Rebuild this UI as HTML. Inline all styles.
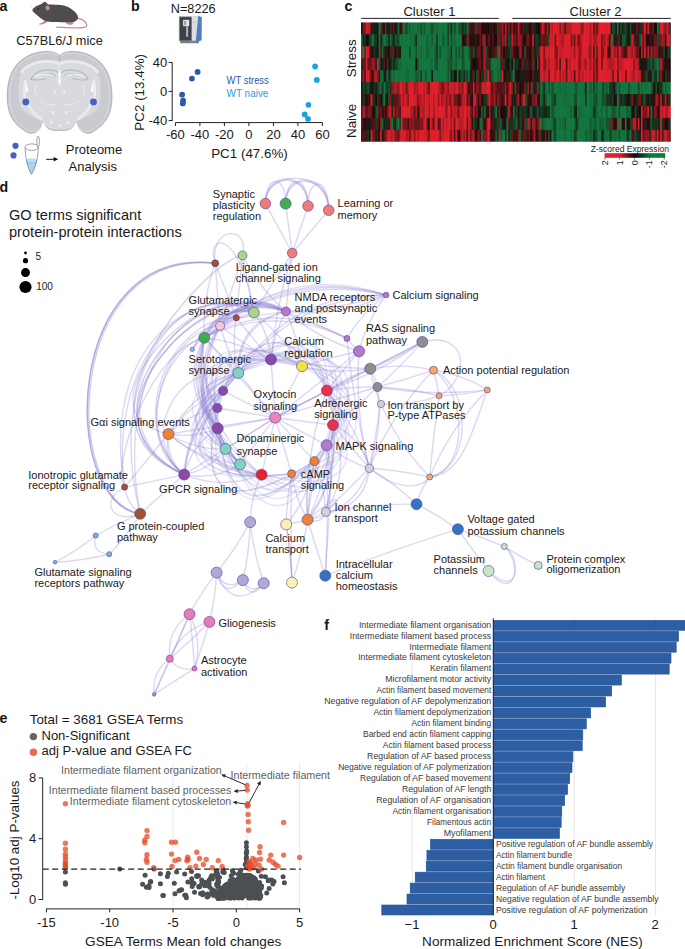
<!DOCTYPE html>
<html><head><meta charset="utf-8"><style>
html,body{margin:0;padding:0;background:#fff;}
body{width:685px;height:949px;overflow:hidden;}
svg{display:block;font-family:"Liberation Sans", sans-serif;}
</style></head><body>
<svg width="685" height="949" viewBox="0 0 685 949">
<rect width="685" height="949" fill="#fff"/>
<text x="-0.6" y="10.6" font-size="14.2" text-anchor="start" fill="#141414" font-weight="bold">a</text>
<text x="131.0" y="10.6" font-size="14.2" text-anchor="start" fill="#141414" font-weight="bold">b</text>
<text x="344.5" y="10.7" font-size="14.2" text-anchor="start" fill="#141414" font-weight="bold">c</text>
<text x="-0.6" y="191.6" font-size="14.2" text-anchor="start" fill="#141414" font-weight="bold">d</text>
<text x="-0.6" y="722.8" font-size="14.2" text-anchor="start" fill="#141414" font-weight="bold">e</text>
<text x="324.2" y="630.4" font-size="14.2" text-anchor="start" fill="#141414" font-weight="bold">f</text>
<g>
<path d="M77.4,18.2 C81,19 85,21 86.6,24 C87.6,26.3 85.5,27.6 81,27.9 C74,28.3 66,27.6 56.7,27.1" fill="none" stroke="#c48d86" stroke-width="1.25" stroke-linecap="round"/>
<path d="M45.5,19.5 C44,21.5 42,23 39.8,23.6 C38.8,24 38.8,24.6 40,24.6 C42.5,24.6 45.5,23.6 48,21.5 Z" fill="#c48d86"/>
<path d="M64.5,21 C65.5,23 67,24.6 70,24.8 C72,24.9 73.5,24.2 73.8,22.8 L71,21.5 Z" fill="#c48d86"/>
<path d="M32.2,10.2 C33.5,7.6 35.5,6.2 37.8,5.5 C39.5,5 40.8,4.3 42,3.8 C43,2.2 44.8,1.7 46,2.4 C47.2,3.1 47.6,4.2 48.5,4.6 C52,4.4 56.5,4.6 61,5.1 C66,5.8 70.5,7.8 74.5,11.5 C77.5,14.3 78.6,16.8 77.8,19 C76.8,21 74.5,22 71.5,22.2 C66,22.5 60,22.2 55.5,22.1 C51,22.2 47.5,21.8 45,20.8 C42,19.6 39.5,17.5 37.5,15.6 C35.5,13.8 33.3,12.2 32.2,10.2 Z" fill="#4d4d4f"/>
<ellipse cx="47.6" cy="7.9" rx="2" ry="2.5" fill="#c48d86" transform="rotate(-15 47.6 7.9)"/>
<circle cx="38.2" cy="8.6" r="0.65" fill="#111"/>
<circle cx="32.4" cy="10.1" r="0.6" fill="#c48d86"/>
<path d="M32.6,9.6 L30.2,5 M32.8,9.8 L31.5,4.6" stroke="#c8c8c8" stroke-width="0.35"/>
</g>
<text x="59.5" y="44.8" font-size="12.75" text-anchor="middle" fill="#222">C57BL6/J mice</text>
<path d="M59.60,55.60 C56.00,52.00 50.00,51.00 43.80,51.60 C30.00,52.40 17.00,60.00 11.00,74.00 C7.00,84.00 6.30,98.00 8.30,108.00 C10.00,117.00 15.00,124.00 22.00,129.00 C25.00,131.00 27.50,133.20 30.50,133.30 C35.00,133.40 38.50,131.00 40.50,127.00 C41.50,124.50 42.00,122.00 42.80,121.30 C44.50,123.00 46.00,126.50 48.00,128.60 C52.00,130.60 56.00,130.60 59.60,130.20 C63.20,130.60 67.20,130.60 71.20,128.60 C73.20,126.50 74.70,123.00 76.40,121.30 C77.20,122.00 77.70,124.50 78.70,127.00 C80.70,131.00 84.20,133.40 88.70,133.30 C91.70,133.20 94.20,131.00 97.20,129.00 C104.20,124.00 109.20,117.00 110.90,108.00 C112.90,98.00 112.20,84.00 108.20,74.00 C102.20,60.00 89.20,52.40 75.40,51.60 C69.20,51.00 63.20,52.00 59.60,55.60 Z" fill="#c9cbd1" stroke="#8d939f" stroke-width="0.6" stroke-linejoin="round"/>
<path d="M59.60,55.60 C56.00,52.00 50.00,51.00 43.80,51.60 C30.00,52.40 17.00,60.00 11.00,74.00 C7.00,84.00 6.30,98.00 8.30,108.00 C10.00,117.00 15.00,124.00 22.00,129.00 C25.00,131.00 27.50,133.20 30.50,133.30 C35.00,133.40 38.50,131.00 40.50,127.00 C41.50,124.50 42.00,122.00 42.80,121.30 C44.50,123.00 46.00,126.50 48.00,128.60 C52.00,130.60 56.00,130.60 59.60,130.20 C63.20,130.60 67.20,130.60 71.20,128.60 C73.20,126.50 74.70,123.00 76.40,121.30 C77.20,122.00 77.70,124.50 78.70,127.00 C80.70,131.00 84.20,133.40 88.70,133.30 C91.70,133.20 94.20,131.00 97.20,129.00 C104.20,124.00 109.20,117.00 110.90,108.00 C112.90,98.00 112.20,84.00 108.20,74.00 C102.20,60.00 89.20,52.40 75.40,51.60 C69.20,51.00 63.20,52.00 59.60,55.60 Z" fill="none" stroke="#e3e4e8" stroke-width="0.6" transform="translate(59.6 92) scale(0.955 0.96) translate(-59.6 -92)"/>
<path d="M59.60,61.00 C52.00,59.20 38.00,59.50 31.00,63.40 C25.00,66.50 21.00,72.00 19.50,79.00 C18.00,88.00 18.30,98.00 19.50,103.00 C20.50,108.00 23.00,111.00 27.00,113.50 C32.00,116.50 37.00,118.50 41.00,120.50 C44.00,123.00 46.00,126.30 48.30,128.00 C52.00,129.60 56.00,129.70 59.60,129.40 C63.20,129.70 67.20,129.60 70.90,128.00 C73.20,126.30 75.20,123.00 78.20,120.50 C82.20,118.50 87.20,116.50 92.20,113.50 C96.20,111.00 98.70,108.00 99.70,103.00 C100.90,98.00 101.20,88.00 99.70,79.00 C98.20,72.00 94.20,66.50 88.20,63.40 C81.20,59.50 67.20,59.20 59.60,61.00 Z" fill="#d9dadf"/>
<path d="M59.6,55.6 L59.6,61.5" stroke="#8d939f" stroke-width="0.5"/>
<path d="M21.5,72 C27,64 40,60.5 52,61.8 C56,62.3 58,63 59.6,64 C61.2,63 63.2,62.3 67.2,61.8 C79.2,60.5 92.2,64 97.7,72" fill="none" stroke="#ebecee" stroke-width="2.6" stroke-linecap="round"/>
<path d="M31,79.5 C33,72 44,68.5 54,70.5 C56.5,71 58,72.5 59,74 M60.2,74 C61.2,72.5 62.7,71 65.2,70.5 C75.2,68.5 86.2,72 88.2,79.5" fill="none" stroke="#8a91a0" stroke-width="0.65"/>
<path d="M33.5,79 C36,74.5 44,72.5 52,74 C54,74.5 55,75.5 55.5,76.5 M63.7,76.5 C64.2,75.5 65.2,74.5 67.2,74 C75.2,72.5 83.2,74.5 85.7,79" fill="none" stroke="#8a91a0" stroke-width="0.5"/>
<path d="M34.5,77.5 C38,74 46,73 52.5,75.5 M66.7,75.5 C73.2,73 81.2,74 84.7,77.5" fill="none" stroke="#eef0f2" stroke-width="1.3"/>
<path d="M31,79.5 C36,80.5 42,80 47,78.5 M88.2,79.5 C83.2,80.5 77.2,80 72.2,78.5" fill="none" stroke="#8a91a0" stroke-width="0.5"/>
<path d="M59.6,69 L58.2,74 L59,78 L58.4,81 L59.6,86 L60.8,81 L60.2,78 L61,74 Z" fill="#fff"/>
<path d="M25.5,80 C24,87 24,95 25.5,101 M93.7,80 C95.2,87 95.2,95 93.7,101" fill="none" stroke="#eceef0" stroke-width="2.4"/>
<path d="M26.5,82 L28.3,91 L25.6,92.5 Z M92.7,82 L90.9,91 L93.6,92.5 Z" fill="#fff"/>
<path d="M28,103 C30,110 35,115 42,119.5 M91.2,103 C89.2,110 84.2,115 77.2,119.5" fill="none" stroke="#e9eaed" stroke-width="3"/>
<path d="M36,85 C34.5,90 35,94 37,96 M83.2,85 C84.7,90 84.2,94 82.2,96" fill="none" stroke="#e6e7ea" stroke-width="1.4"/>
<path d="M40,101 C45,104.5 51,105.5 55,104.5 M64.2,104.5 C68.2,105.5 74.2,104.5 79.2,101" fill="none" stroke="#e6e7ea" stroke-width="1.3"/>
<ellipse cx="54.8" cy="92" rx="1.2" ry="1.7" fill="#eceef0"/>
<ellipse cx="64.4" cy="92" rx="1.2" ry="1.7" fill="#eceef0"/>
<ellipse cx="53" cy="112.5" rx="1.2" ry="1.7" fill="#eceef0"/>
<ellipse cx="66.2" cy="112.5" rx="1.2" ry="1.7" fill="#eceef0"/>
<ellipse cx="51.3" cy="122.5" rx="1.2" ry="1.7" fill="#eceef0"/>
<ellipse cx="67.9" cy="122.5" rx="1.2" ry="1.7" fill="#eceef0"/>
<path d="M59.6,122 L59.6,130" stroke="#a0a6b2" stroke-width="0.4"/>
<ellipse cx="59.6" cy="125.5" rx="0.8" ry="2.5" fill="#f0f1f3"/>
<circle cx="25.8" cy="101.9" r="3.4" fill="#4a5fbf"/>
<circle cx="93.5" cy="101.9" r="3.4" fill="#4a5fbf"/>
<circle cx="15.5" cy="145.8" r="3.1" fill="#4a5fbf"/>
<circle cx="13.5" cy="155.4" r="3.1" fill="#4a5fbf"/>
<path d="M26.4,160.4 C27.5,166 29.5,171.5 31.5,174.2 C33.5,171.5 35.7,166 36.9,160.4 Z" fill="#abd5f1"/>
<ellipse cx="31.65" cy="160.5" rx="5.2" ry="2.2" fill="#bcdcf3"/>
<path d="M26.8,162.6 C29,163.6 34,163.6 36.5,162.6" fill="none" stroke="#6fa9d6" stroke-width="0.45"/>
<path d="M25.1,147.3 C25.3,152 25.8,157 26.6,161 C27.8,166.5 29.6,171.5 31.4,174.3 C33.3,171.5 35.3,166.5 36.7,161 C37.6,157 38.2,152 38.3,147.3" fill="none" stroke="#555" stroke-width="0.55"/>
<ellipse cx="31.7" cy="147.2" rx="6.6" ry="3.3" fill="#fff" stroke="#555" stroke-width="0.55"/>
<ellipse cx="38.1" cy="141.6" rx="1.3" ry="5.5" fill="#fff" stroke="#555" stroke-width="0.55"/>
<path d="M46.2,159.3 L54.5,159.3" stroke="#111" stroke-width="1"/>
<path d="M58.2,159.3 L53.6,157.1 L53.6,161.5 Z" fill="#111"/>
<text x="94.0" y="154.2" font-size="13" text-anchor="middle" fill="#1a1a1a">Proteome</text>
<text x="92.8" y="171.3" font-size="13" text-anchor="middle" fill="#1a1a1a">Analysis</text>
<text x="193.2" y="13.3" font-size="12.7" text-anchor="middle" fill="#1a1a1a">N=8226</text>
<rect x="178.9" y="16.3" width="12.9" height="24.6" fill="#8f949a"/>
<rect x="179.8" y="17.2" width="12" height="23.4" fill="#3a4149"/>
<path d="M191.7,15.8 L198.6,15.8 L196.2,41.2 L191.7,41.2 Z" fill="#dedce1"/>
<path d="M198.3,15.8 L201.8,17.2 L201.6,40.3 L199,41.2 L195.8,41.2 Z" fill="#4b7fc0"/>
<path d="M179.8,40.7 L199,40.7 L199,43.3 L180.5,43.3 Z" fill="#7a7e84"/>
<rect x="182.9" y="19.8" width="6.4" height="6.5" fill="#e4e6e8" stroke="#4a5058" stroke-width="0.5"/>
<rect x="184" y="21" width="2.2" height="4" fill="#9aa0a6"/>
<rect x="186.1" y="26.3" width="2" height="10.5" fill="#b0b5ba"/>
<path d="M192,22.3 L201,22.3" stroke="#8cc2cc" stroke-width="0.4"/>
<g stroke="#222" stroke-width="1" fill="none">
<path d="M172.2,62.3 L172.2,121"/>
<path d="M168.6,62.5 L172.2,62.5"/>
<path d="M168.6,91.4 L172.2,91.4"/>
<path d="M168.6,120.6 L172.2,120.6"/>
<path d="M175.4,122.6 L322.4,122.6"/>
<path d="M175.4,122.6 L175.4,126"/>
<path d="M199.9,122.6 L199.9,126"/>
<path d="M224.4,122.6 L224.4,126"/>
<path d="M248.9,122.6 L248.9,126"/>
<path d="M273.4,122.6 L273.4,126"/>
<path d="M297.9,122.6 L297.9,126"/>
<path d="M322.4,122.6 L322.4,126"/>
</g>
<text x="167.2" y="67.1" font-size="13" text-anchor="end" fill="#1a1a1a">40</text>
<text x="167.2" y="96.0" font-size="13" text-anchor="end" fill="#1a1a1a">0</text>
<text x="167.2" y="125.2" font-size="13" text-anchor="end" fill="#1a1a1a">-40</text>
<text x="175.4" y="138.8" font-size="13" text-anchor="middle" fill="#1a1a1a">-60</text>
<text x="199.9" y="138.8" font-size="13" text-anchor="middle" fill="#1a1a1a">-40</text>
<text x="224.4" y="138.8" font-size="13" text-anchor="middle" fill="#1a1a1a">-20</text>
<text x="248.9" y="138.8" font-size="13" text-anchor="middle" fill="#1a1a1a">0</text>
<text x="273.4" y="138.8" font-size="13" text-anchor="middle" fill="#1a1a1a">20</text>
<text x="297.9" y="138.8" font-size="13" text-anchor="middle" fill="#1a1a1a">40</text>
<text x="322.4" y="138.8" font-size="13" text-anchor="middle" fill="#1a1a1a">60</text>
<text x="249.5" y="157.6" font-size="13.4" text-anchor="middle" fill="#1a1a1a">PC1 (47.6%)</text>
<text x="144.0" y="92.3" font-size="13.4" text-anchor="middle" fill="#1a1a1a" transform="rotate(-90 144.0 92.3)">PC2 (13.4%)</text>
<text x="226.6" y="84.3" font-size="10.3" text-anchor="start" fill="#2d58a8" textLength="42.2" lengthAdjust="spacingAndGlyphs">WT stress</text>
<text x="226.6" y="97.1" font-size="10.3" text-anchor="start" fill="#1aa2e0" textLength="41.8" lengthAdjust="spacingAndGlyphs">WT naive</text>
<circle cx="197.6" cy="71.9" r="2.9" fill="#2d58a8"/>
<circle cx="191.9" cy="78.6" r="2.9" fill="#2d58a8"/>
<circle cx="182.1" cy="94.7" r="2.9" fill="#2d58a8"/>
<circle cx="183.1" cy="100.7" r="2.9" fill="#2d58a8"/>
<circle cx="182.8" cy="103.4" r="2.9" fill="#2d58a8"/>
<circle cx="315.1" cy="66.5" r="2.9" fill="#1aa2e0"/>
<circle cx="316.8" cy="79.9" r="2.9" fill="#1aa2e0"/>
<circle cx="308.4" cy="104.8" r="2.9" fill="#1aa2e0"/>
<circle cx="304.7" cy="114.5" r="2.9" fill="#1aa2e0"/>
<circle cx="308" cy="118.9" r="2.9" fill="#1aa2e0"/>
<text x="429.5" y="15.8" font-size="13" text-anchor="middle" fill="#1a1a1a">Cluster 1</text>
<text x="595.6" y="15.8" font-size="13" text-anchor="middle" fill="#1a1a1a">Cluster 2</text>
<path d="M361.2,18.4 L498.8,18.4 M512.3,18.4 L670.7,18.4" stroke="#222" stroke-width="1"/>
<text x="355.6" y="58.3" font-size="13.4" text-anchor="middle" fill="#1a1a1a" transform="rotate(-90 355.6 58.3)">Stress</text>
<text x="355.6" y="120.9" font-size="13.4" text-anchor="middle" fill="#1a1a1a" transform="rotate(-90 355.6 120.9)">Naive</text>
<defs><filter id="hb" x="0" y="0" width="1" height="1"><feGaussianBlur stdDeviation="0.35"/></filter><clipPath id="hc"><rect x="361" y="22.3" width="309.8" height="119.5"/></clipPath></defs>
<g clip-path="url(#hc)"><g filter="url(#hb)">
<rect x="361.00" y="22.30" width="2.30" height="12.65" fill="#16130f"/>
<rect x="361.00" y="34.25" width="2.30" height="12.65" fill="#12703b"/>
<rect x="361.00" y="46.20" width="2.30" height="12.65" fill="#136837"/>
<rect x="361.00" y="58.15" width="2.30" height="12.65" fill="#143921"/>
<rect x="361.00" y="70.10" width="2.30" height="12.65" fill="#581317"/>
<rect x="361.00" y="82.05" width="2.30" height="12.65" fill="#151d14"/>
<rect x="361.00" y="94.00" width="2.30" height="12.65" fill="#152b1b"/>
<rect x="361.00" y="105.95" width="2.30" height="12.65" fill="#521216"/>
<rect x="361.00" y="117.90" width="2.30" height="12.65" fill="#601318"/>
<rect x="361.00" y="129.85" width="2.30" height="12.65" fill="#501215"/>
<rect x="362.60" y="22.30" width="2.30" height="12.65" fill="#75151b"/>
<rect x="362.60" y="34.25" width="2.30" height="12.65" fill="#152116"/>
<rect x="362.60" y="46.20" width="2.30" height="12.65" fill="#de202c"/>
<rect x="362.60" y="58.15" width="2.30" height="12.65" fill="#681419"/>
<rect x="362.60" y="70.10" width="2.30" height="12.65" fill="#a41a23"/>
<rect x="362.60" y="82.05" width="2.30" height="12.65" fill="#144627"/>
<rect x="362.60" y="94.00" width="2.30" height="12.65" fill="#5e1317"/>
<rect x="362.60" y="105.95" width="2.30" height="12.65" fill="#b51c25"/>
<rect x="362.60" y="117.90" width="2.30" height="12.65" fill="#3f1013"/>
<rect x="362.60" y="129.85" width="2.30" height="12.65" fill="#531216"/>
<rect x="364.20" y="22.30" width="2.30" height="12.65" fill="#74151b"/>
<rect x="364.20" y="34.25" width="2.30" height="12.65" fill="#143620"/>
<rect x="364.20" y="46.20" width="2.30" height="12.65" fill="#144426"/>
<rect x="364.20" y="58.15" width="2.30" height="12.65" fill="#581317"/>
<rect x="364.20" y="70.10" width="2.30" height="12.65" fill="#461114"/>
<rect x="364.20" y="82.05" width="2.30" height="12.65" fill="#14351f"/>
<rect x="364.20" y="94.00" width="2.30" height="12.65" fill="#152a1a"/>
<rect x="364.20" y="105.95" width="2.30" height="12.65" fill="#a01a22"/>
<rect x="364.20" y="117.90" width="2.30" height="12.65" fill="#16100e"/>
<rect x="364.20" y="129.85" width="2.30" height="12.65" fill="#531216"/>
<rect x="365.80" y="22.30" width="2.30" height="12.65" fill="#de202c"/>
<rect x="365.80" y="34.25" width="2.30" height="12.65" fill="#160e0d"/>
<rect x="365.80" y="46.20" width="2.30" height="12.65" fill="#dd202c"/>
<rect x="365.80" y="58.15" width="2.30" height="12.65" fill="#de202c"/>
<rect x="365.80" y="70.10" width="2.30" height="12.65" fill="#de202c"/>
<rect x="365.80" y="82.05" width="2.30" height="12.65" fill="#143b22"/>
<rect x="365.80" y="94.00" width="2.30" height="12.65" fill="#1a0c0d"/>
<rect x="365.80" y="105.95" width="2.30" height="12.65" fill="#4a1114"/>
<rect x="365.80" y="117.90" width="2.30" height="12.65" fill="#3a1012"/>
<rect x="365.80" y="129.85" width="2.30" height="12.65" fill="#152b1b"/>
<rect x="367.40" y="22.30" width="2.30" height="12.65" fill="#c11d27"/>
<rect x="367.40" y="34.25" width="2.30" height="12.65" fill="#16120f"/>
<rect x="367.40" y="46.20" width="2.30" height="12.65" fill="#d41f2a"/>
<rect x="367.40" y="58.15" width="2.30" height="12.65" fill="#681419"/>
<rect x="367.40" y="70.10" width="2.30" height="12.65" fill="#de202c"/>
<rect x="367.40" y="82.05" width="2.30" height="12.65" fill="#13532e"/>
<rect x="367.40" y="94.00" width="2.30" height="12.65" fill="#4c1115"/>
<rect x="367.40" y="105.95" width="2.30" height="12.65" fill="#82171d"/>
<rect x="367.40" y="117.90" width="2.30" height="12.65" fill="#161912"/>
<rect x="367.40" y="129.85" width="2.30" height="12.65" fill="#143a22"/>
<rect x="369.00" y="22.30" width="2.30" height="12.65" fill="#ba1c26"/>
<rect x="369.00" y="34.25" width="2.30" height="12.65" fill="#143821"/>
<rect x="369.00" y="46.20" width="2.30" height="12.65" fill="#6f151a"/>
<rect x="369.00" y="58.15" width="2.30" height="12.65" fill="#6c151a"/>
<rect x="369.00" y="70.10" width="2.30" height="12.65" fill="#b11c25"/>
<rect x="369.00" y="82.05" width="2.30" height="12.65" fill="#15311e"/>
<rect x="369.00" y="94.00" width="2.30" height="12.65" fill="#421013"/>
<rect x="369.00" y="105.95" width="2.30" height="12.65" fill="#78161c"/>
<rect x="369.00" y="117.90" width="2.30" height="12.65" fill="#152116"/>
<rect x="369.00" y="129.85" width="2.30" height="12.65" fill="#1a0c0d"/>
<rect x="370.60" y="22.30" width="2.30" height="12.65" fill="#151a13"/>
<rect x="370.60" y="34.25" width="2.30" height="12.65" fill="#144c2a"/>
<rect x="370.60" y="46.20" width="2.30" height="12.65" fill="#151f15"/>
<rect x="370.60" y="58.15" width="2.30" height="12.65" fill="#6d151a"/>
<rect x="370.60" y="70.10" width="2.30" height="12.65" fill="#4a1114"/>
<rect x="370.60" y="82.05" width="2.30" height="12.65" fill="#1f0d0d"/>
<rect x="370.60" y="94.00" width="2.30" height="12.65" fill="#de202c"/>
<rect x="370.60" y="105.95" width="2.30" height="12.65" fill="#631418"/>
<rect x="370.60" y="117.90" width="2.30" height="12.65" fill="#4a1114"/>
<rect x="370.60" y="129.85" width="2.30" height="12.65" fill="#de202c"/>
<rect x="372.20" y="22.30" width="2.30" height="12.65" fill="#152618"/>
<rect x="372.20" y="34.25" width="2.30" height="12.65" fill="#12763e"/>
<rect x="372.20" y="46.20" width="2.30" height="12.65" fill="#300f10"/>
<rect x="372.20" y="58.15" width="2.30" height="12.65" fill="#a11a22"/>
<rect x="372.20" y="70.10" width="2.30" height="12.65" fill="#320f11"/>
<rect x="372.20" y="82.05" width="2.30" height="12.65" fill="#161611"/>
<rect x="372.20" y="94.00" width="2.30" height="12.65" fill="#5f1318"/>
<rect x="372.20" y="105.95" width="2.30" height="12.65" fill="#190c0d"/>
<rect x="372.20" y="117.90" width="2.30" height="12.65" fill="#4f1215"/>
<rect x="372.20" y="129.85" width="2.30" height="12.65" fill="#70151a"/>
<rect x="373.80" y="22.30" width="2.30" height="12.65" fill="#152417"/>
<rect x="373.80" y="34.25" width="2.30" height="12.65" fill="#143620"/>
<rect x="373.80" y="46.20" width="2.30" height="12.65" fill="#143921"/>
<rect x="373.80" y="58.15" width="2.30" height="12.65" fill="#971921"/>
<rect x="373.80" y="70.10" width="2.30" height="12.65" fill="#ad1b24"/>
<rect x="373.80" y="82.05" width="2.30" height="12.65" fill="#143821"/>
<rect x="373.80" y="94.00" width="2.30" height="12.65" fill="#14351f"/>
<rect x="373.80" y="105.95" width="2.30" height="12.65" fill="#161410"/>
<rect x="373.80" y="117.90" width="2.30" height="12.65" fill="#551216"/>
<rect x="373.80" y="129.85" width="2.30" height="12.65" fill="#691419"/>
<rect x="375.40" y="22.30" width="2.30" height="12.65" fill="#151a13"/>
<rect x="375.40" y="34.25" width="2.30" height="12.65" fill="#143d23"/>
<rect x="375.40" y="46.20" width="2.30" height="12.65" fill="#151e15"/>
<rect x="375.40" y="58.15" width="2.30" height="12.65" fill="#152c1b"/>
<rect x="375.40" y="70.10" width="2.30" height="12.65" fill="#b41c25"/>
<rect x="375.40" y="82.05" width="2.30" height="12.65" fill="#152216"/>
<rect x="375.40" y="94.00" width="2.30" height="12.65" fill="#190c0c"/>
<rect x="375.40" y="105.95" width="2.30" height="12.65" fill="#13512c"/>
<rect x="375.40" y="117.90" width="2.30" height="12.65" fill="#143e24"/>
<rect x="375.40" y="129.85" width="2.30" height="12.65" fill="#152719"/>
<rect x="377.00" y="22.30" width="2.30" height="12.65" fill="#300f10"/>
<rect x="377.00" y="34.25" width="2.30" height="12.65" fill="#160d0c"/>
<rect x="377.00" y="46.20" width="2.30" height="12.65" fill="#260e0f"/>
<rect x="377.00" y="58.15" width="2.30" height="12.65" fill="#de202c"/>
<rect x="377.00" y="70.10" width="2.30" height="12.65" fill="#8c181f"/>
<rect x="377.00" y="82.05" width="2.30" height="12.65" fill="#143f24"/>
<rect x="377.00" y="94.00" width="2.30" height="12.65" fill="#71151a"/>
<rect x="377.00" y="105.95" width="2.30" height="12.65" fill="#a11a22"/>
<rect x="377.00" y="117.90" width="2.30" height="12.65" fill="#6c151a"/>
<rect x="377.00" y="129.85" width="2.30" height="12.65" fill="#541216"/>
<rect x="378.60" y="22.30" width="2.30" height="12.65" fill="#12763e"/>
<rect x="378.60" y="34.25" width="2.30" height="12.65" fill="#12763e"/>
<rect x="378.60" y="46.20" width="2.30" height="12.65" fill="#136435"/>
<rect x="378.60" y="58.15" width="2.30" height="12.65" fill="#135830"/>
<rect x="378.60" y="70.10" width="2.30" height="12.65" fill="#152f1d"/>
<rect x="378.60" y="82.05" width="2.30" height="12.65" fill="#13532e"/>
<rect x="378.60" y="94.00" width="2.30" height="12.65" fill="#15311e"/>
<rect x="378.60" y="105.95" width="2.30" height="12.65" fill="#152116"/>
<rect x="378.60" y="117.90" width="2.30" height="12.65" fill="#161510"/>
<rect x="378.60" y="129.85" width="2.30" height="12.65" fill="#220d0e"/>
<rect x="380.20" y="22.30" width="2.30" height="12.65" fill="#134f2b"/>
<rect x="380.20" y="34.25" width="2.30" height="12.65" fill="#152618"/>
<rect x="380.20" y="46.20" width="2.30" height="12.65" fill="#5b1317"/>
<rect x="380.20" y="58.15" width="2.30" height="12.65" fill="#152317"/>
<rect x="380.20" y="70.10" width="2.30" height="12.65" fill="#135c32"/>
<rect x="380.20" y="82.05" width="2.30" height="12.65" fill="#136938"/>
<rect x="380.20" y="94.00" width="2.30" height="12.65" fill="#160e0d"/>
<rect x="380.20" y="105.95" width="2.30" height="12.65" fill="#7c161c"/>
<rect x="380.20" y="117.90" width="2.30" height="12.65" fill="#9d1a22"/>
<rect x="380.20" y="129.85" width="2.30" height="12.65" fill="#de202c"/>
<rect x="381.80" y="22.30" width="2.30" height="12.65" fill="#441113"/>
<rect x="381.80" y="34.25" width="2.30" height="12.65" fill="#13522d"/>
<rect x="381.80" y="46.20" width="2.30" height="12.65" fill="#136235"/>
<rect x="381.80" y="58.15" width="2.30" height="12.65" fill="#152116"/>
<rect x="381.80" y="70.10" width="2.30" height="12.65" fill="#12763e"/>
<rect x="381.80" y="82.05" width="2.30" height="12.65" fill="#152a1a"/>
<rect x="381.80" y="94.00" width="2.30" height="12.65" fill="#143921"/>
<rect x="381.80" y="105.95" width="2.30" height="12.65" fill="#200d0e"/>
<rect x="381.80" y="117.90" width="2.30" height="12.65" fill="#136837"/>
<rect x="381.80" y="129.85" width="2.30" height="12.65" fill="#161912"/>
<rect x="383.40" y="22.30" width="2.30" height="12.65" fill="#370f11"/>
<rect x="383.40" y="34.25" width="2.30" height="12.65" fill="#12763e"/>
<rect x="383.40" y="46.20" width="2.30" height="12.65" fill="#15321e"/>
<rect x="383.40" y="58.15" width="2.30" height="12.65" fill="#621418"/>
<rect x="383.40" y="70.10" width="2.30" height="12.65" fill="#151c14"/>
<rect x="383.40" y="82.05" width="2.30" height="12.65" fill="#12763e"/>
<rect x="383.40" y="94.00" width="2.30" height="12.65" fill="#12763e"/>
<rect x="383.40" y="105.95" width="2.30" height="12.65" fill="#5b1317"/>
<rect x="383.40" y="117.90" width="2.30" height="12.65" fill="#152317"/>
<rect x="383.40" y="129.85" width="2.30" height="12.65" fill="#611418"/>
<rect x="385.00" y="22.30" width="2.30" height="12.65" fill="#13502c"/>
<rect x="385.00" y="34.25" width="2.30" height="12.65" fill="#136737"/>
<rect x="385.00" y="46.20" width="2.30" height="12.65" fill="#3e1012"/>
<rect x="385.00" y="58.15" width="2.30" height="12.65" fill="#180c0c"/>
<rect x="385.00" y="70.10" width="2.30" height="12.65" fill="#152016"/>
<rect x="385.00" y="82.05" width="2.30" height="12.65" fill="#135730"/>
<rect x="385.00" y="94.00" width="2.30" height="12.65" fill="#15291a"/>
<rect x="385.00" y="105.95" width="2.30" height="12.65" fill="#2c0e0f"/>
<rect x="385.00" y="117.90" width="2.30" height="12.65" fill="#15291a"/>
<rect x="385.00" y="129.85" width="2.30" height="12.65" fill="#7c161c"/>
<rect x="386.60" y="22.30" width="2.30" height="12.65" fill="#161611"/>
<rect x="386.60" y="34.25" width="2.30" height="12.65" fill="#135c32"/>
<rect x="386.60" y="46.20" width="2.30" height="12.65" fill="#151a12"/>
<rect x="386.60" y="58.15" width="2.30" height="12.65" fill="#144125"/>
<rect x="386.60" y="70.10" width="2.30" height="12.65" fill="#12763e"/>
<rect x="386.60" y="82.05" width="2.30" height="12.65" fill="#152e1c"/>
<rect x="386.60" y="94.00" width="2.30" height="12.65" fill="#2a0e0f"/>
<rect x="386.60" y="105.95" width="2.30" height="12.65" fill="#6a141a"/>
<rect x="386.60" y="117.90" width="2.30" height="12.65" fill="#15311e"/>
<rect x="386.60" y="129.85" width="2.30" height="12.65" fill="#b91c26"/>
<rect x="388.20" y="22.30" width="2.30" height="12.65" fill="#151e14"/>
<rect x="388.20" y="34.25" width="2.30" height="12.65" fill="#151e15"/>
<rect x="388.20" y="46.20" width="2.30" height="12.65" fill="#220d0e"/>
<rect x="388.20" y="58.15" width="2.30" height="12.65" fill="#3e1012"/>
<rect x="388.20" y="70.10" width="2.30" height="12.65" fill="#152417"/>
<rect x="388.20" y="82.05" width="2.30" height="12.65" fill="#13542e"/>
<rect x="388.20" y="94.00" width="2.30" height="12.65" fill="#134f2b"/>
<rect x="388.20" y="105.95" width="2.30" height="12.65" fill="#a91b24"/>
<rect x="388.20" y="117.90" width="2.30" height="12.65" fill="#152015"/>
<rect x="388.20" y="129.85" width="2.30" height="12.65" fill="#de202c"/>
<rect x="389.80" y="22.30" width="2.30" height="12.65" fill="#611418"/>
<rect x="389.80" y="34.25" width="2.30" height="12.65" fill="#126f3b"/>
<rect x="389.80" y="46.20" width="2.30" height="12.65" fill="#5e1318"/>
<rect x="389.80" y="58.15" width="2.30" height="12.65" fill="#161912"/>
<rect x="389.80" y="70.10" width="2.30" height="12.65" fill="#144d2b"/>
<rect x="389.80" y="82.05" width="2.30" height="12.65" fill="#15331f"/>
<rect x="389.80" y="94.00" width="2.30" height="12.65" fill="#8e181f"/>
<rect x="389.80" y="105.95" width="2.30" height="12.65" fill="#da202b"/>
<rect x="389.80" y="117.90" width="2.30" height="12.65" fill="#9e1a22"/>
<rect x="389.80" y="129.85" width="2.30" height="12.65" fill="#c01d27"/>
<rect x="391.40" y="22.30" width="2.30" height="12.65" fill="#152418"/>
<rect x="391.40" y="34.25" width="2.30" height="12.65" fill="#144326"/>
<rect x="391.40" y="46.20" width="2.30" height="12.65" fill="#143d23"/>
<rect x="391.40" y="58.15" width="2.30" height="12.65" fill="#144c2a"/>
<rect x="391.40" y="70.10" width="2.30" height="12.65" fill="#12763e"/>
<rect x="391.40" y="82.05" width="2.30" height="12.65" fill="#991921"/>
<rect x="391.40" y="94.00" width="2.30" height="12.65" fill="#15291a"/>
<rect x="391.40" y="105.95" width="2.30" height="12.65" fill="#15291a"/>
<rect x="391.40" y="117.90" width="2.30" height="12.65" fill="#12763e"/>
<rect x="391.40" y="129.85" width="2.30" height="12.65" fill="#bd1d27"/>
<rect x="393.00" y="22.30" width="2.30" height="12.65" fill="#6e151a"/>
<rect x="393.00" y="34.25" width="2.30" height="12.65" fill="#152317"/>
<rect x="393.00" y="46.20" width="2.30" height="12.65" fill="#6c151a"/>
<rect x="393.00" y="58.15" width="2.30" height="12.65" fill="#152b1b"/>
<rect x="393.00" y="70.10" width="2.30" height="12.65" fill="#136234"/>
<rect x="393.00" y="82.05" width="2.30" height="12.65" fill="#9b1921"/>
<rect x="393.00" y="94.00" width="2.30" height="12.65" fill="#581317"/>
<rect x="393.00" y="105.95" width="2.30" height="12.65" fill="#c71e28"/>
<rect x="393.00" y="117.90" width="2.30" height="12.65" fill="#143821"/>
<rect x="393.00" y="129.85" width="2.30" height="12.65" fill="#db202c"/>
<rect x="394.60" y="22.30" width="2.30" height="12.65" fill="#200d0e"/>
<rect x="394.60" y="34.25" width="2.30" height="12.65" fill="#135930"/>
<rect x="394.60" y="46.20" width="2.30" height="12.65" fill="#160c0c"/>
<rect x="394.60" y="58.15" width="2.30" height="12.65" fill="#144226"/>
<rect x="394.60" y="70.10" width="2.30" height="12.65" fill="#12763e"/>
<rect x="394.60" y="82.05" width="2.30" height="12.65" fill="#bb1d26"/>
<rect x="394.60" y="94.00" width="2.30" height="12.65" fill="#501215"/>
<rect x="394.60" y="105.95" width="2.30" height="12.65" fill="#4d1215"/>
<rect x="394.60" y="117.90" width="2.30" height="12.65" fill="#152a1a"/>
<rect x="394.60" y="129.85" width="2.30" height="12.65" fill="#6f151a"/>
<rect x="396.20" y="22.30" width="2.30" height="12.65" fill="#152c1b"/>
<rect x="396.20" y="34.25" width="2.30" height="12.65" fill="#144728"/>
<rect x="396.20" y="46.20" width="2.30" height="12.65" fill="#521216"/>
<rect x="396.20" y="58.15" width="2.30" height="12.65" fill="#144828"/>
<rect x="396.20" y="70.10" width="2.30" height="12.65" fill="#12763e"/>
<rect x="396.20" y="82.05" width="2.30" height="12.65" fill="#a21a22"/>
<rect x="396.20" y="94.00" width="2.30" height="12.65" fill="#591317"/>
<rect x="396.20" y="105.95" width="2.30" height="12.65" fill="#8b181f"/>
<rect x="396.20" y="117.90" width="2.30" height="12.65" fill="#135d32"/>
<rect x="396.20" y="129.85" width="2.30" height="12.65" fill="#88171e"/>
<rect x="397.80" y="22.30" width="2.30" height="12.65" fill="#126b39"/>
<rect x="397.80" y="34.25" width="2.30" height="12.65" fill="#144828"/>
<rect x="397.80" y="46.20" width="2.30" height="12.65" fill="#152b1b"/>
<rect x="397.80" y="58.15" width="2.30" height="12.65" fill="#126a38"/>
<rect x="397.80" y="70.10" width="2.30" height="12.65" fill="#12723c"/>
<rect x="397.80" y="82.05" width="2.30" height="12.65" fill="#87171e"/>
<rect x="397.80" y="94.00" width="2.30" height="12.65" fill="#6b141a"/>
<rect x="397.80" y="105.95" width="2.30" height="12.65" fill="#6d151a"/>
<rect x="397.80" y="117.90" width="2.30" height="12.65" fill="#12763e"/>
<rect x="397.80" y="129.85" width="2.30" height="12.65" fill="#5c1317"/>
<rect x="399.40" y="22.30" width="2.30" height="12.65" fill="#320f10"/>
<rect x="399.40" y="34.25" width="2.30" height="12.65" fill="#12763e"/>
<rect x="399.40" y="46.20" width="2.30" height="12.65" fill="#210d0e"/>
<rect x="399.40" y="58.15" width="2.30" height="12.65" fill="#136536"/>
<rect x="399.40" y="70.10" width="2.30" height="12.65" fill="#12763e"/>
<rect x="399.40" y="82.05" width="2.30" height="12.65" fill="#de202c"/>
<rect x="399.40" y="94.00" width="2.30" height="12.65" fill="#9b1921"/>
<rect x="399.40" y="105.95" width="2.30" height="12.65" fill="#531216"/>
<rect x="399.40" y="117.90" width="2.30" height="12.65" fill="#144527"/>
<rect x="399.40" y="129.85" width="2.30" height="12.65" fill="#cf1f2a"/>
<rect x="401.00" y="22.30" width="2.30" height="12.65" fill="#4b1114"/>
<rect x="401.00" y="34.25" width="2.30" height="12.65" fill="#12723c"/>
<rect x="401.00" y="46.20" width="2.30" height="12.65" fill="#12763e"/>
<rect x="401.00" y="58.15" width="2.30" height="12.65" fill="#12743d"/>
<rect x="401.00" y="70.10" width="2.30" height="12.65" fill="#12763e"/>
<rect x="401.00" y="82.05" width="2.30" height="12.65" fill="#de202c"/>
<rect x="401.00" y="94.00" width="2.30" height="12.65" fill="#de202c"/>
<rect x="401.00" y="105.95" width="2.30" height="12.65" fill="#de202c"/>
<rect x="401.00" y="117.90" width="2.30" height="12.65" fill="#de202c"/>
<rect x="401.00" y="129.85" width="2.30" height="12.65" fill="#de202c"/>
<rect x="402.60" y="22.30" width="2.30" height="12.65" fill="#12743d"/>
<rect x="402.60" y="34.25" width="2.30" height="12.65" fill="#12763e"/>
<rect x="402.60" y="46.20" width="2.30" height="12.65" fill="#12763e"/>
<rect x="402.60" y="58.15" width="2.30" height="12.65" fill="#12763e"/>
<rect x="402.60" y="70.10" width="2.30" height="12.65" fill="#12763e"/>
<rect x="402.60" y="82.05" width="2.30" height="12.65" fill="#a71b23"/>
<rect x="402.60" y="94.00" width="2.30" height="12.65" fill="#981921"/>
<rect x="402.60" y="105.95" width="2.30" height="12.65" fill="#de202c"/>
<rect x="402.60" y="117.90" width="2.30" height="12.65" fill="#74151b"/>
<rect x="402.60" y="129.85" width="2.30" height="12.65" fill="#d91f2b"/>
<rect x="404.20" y="22.30" width="2.30" height="12.65" fill="#135830"/>
<rect x="404.20" y="34.25" width="2.30" height="12.65" fill="#12763e"/>
<rect x="404.20" y="46.20" width="2.30" height="12.65" fill="#12763e"/>
<rect x="404.20" y="58.15" width="2.30" height="12.65" fill="#12763e"/>
<rect x="404.20" y="70.10" width="2.30" height="12.65" fill="#12763e"/>
<rect x="404.20" y="82.05" width="2.30" height="12.65" fill="#cf1f2a"/>
<rect x="404.20" y="94.00" width="2.30" height="12.65" fill="#de202c"/>
<rect x="404.20" y="105.95" width="2.30" height="12.65" fill="#de202c"/>
<rect x="404.20" y="117.90" width="2.30" height="12.65" fill="#621418"/>
<rect x="404.20" y="129.85" width="2.30" height="12.65" fill="#de202c"/>
<rect x="405.80" y="22.30" width="2.30" height="12.65" fill="#144527"/>
<rect x="405.80" y="34.25" width="2.30" height="12.65" fill="#12763e"/>
<rect x="405.80" y="46.20" width="2.30" height="12.65" fill="#12763e"/>
<rect x="405.80" y="58.15" width="2.30" height="12.65" fill="#12733d"/>
<rect x="405.80" y="70.10" width="2.30" height="12.65" fill="#126c39"/>
<rect x="405.80" y="82.05" width="2.30" height="12.65" fill="#5a1317"/>
<rect x="405.80" y="94.00" width="2.30" height="12.65" fill="#c81e29"/>
<rect x="405.80" y="105.95" width="2.30" height="12.65" fill="#de202c"/>
<rect x="405.80" y="117.90" width="2.30" height="12.65" fill="#89171e"/>
<rect x="405.80" y="129.85" width="2.30" height="12.65" fill="#a41a23"/>
<rect x="407.40" y="22.30" width="2.30" height="12.65" fill="#12703b"/>
<rect x="407.40" y="34.25" width="2.30" height="12.65" fill="#12763e"/>
<rect x="407.40" y="46.20" width="2.30" height="12.65" fill="#12763e"/>
<rect x="407.40" y="58.15" width="2.30" height="12.65" fill="#12763e"/>
<rect x="407.40" y="70.10" width="2.30" height="12.65" fill="#136837"/>
<rect x="407.40" y="82.05" width="2.30" height="12.65" fill="#c41d28"/>
<rect x="407.40" y="94.00" width="2.30" height="12.65" fill="#89171e"/>
<rect x="407.40" y="105.95" width="2.30" height="12.65" fill="#de202c"/>
<rect x="407.40" y="117.90" width="2.30" height="12.65" fill="#3b1012"/>
<rect x="407.40" y="129.85" width="2.30" height="12.65" fill="#ba1c26"/>
<rect x="409.00" y="22.30" width="2.30" height="12.65" fill="#136034"/>
<rect x="409.00" y="34.25" width="2.30" height="12.65" fill="#12763e"/>
<rect x="409.00" y="46.20" width="2.30" height="12.65" fill="#144225"/>
<rect x="409.00" y="58.15" width="2.30" height="12.65" fill="#12763e"/>
<rect x="409.00" y="70.10" width="2.30" height="12.65" fill="#12763e"/>
<rect x="409.00" y="82.05" width="2.30" height="12.65" fill="#de202c"/>
<rect x="409.00" y="94.00" width="2.30" height="12.65" fill="#de202c"/>
<rect x="409.00" y="105.95" width="2.30" height="12.65" fill="#de202c"/>
<rect x="409.00" y="117.90" width="2.30" height="12.65" fill="#961920"/>
<rect x="409.00" y="129.85" width="2.30" height="12.65" fill="#6e151a"/>
<rect x="410.60" y="22.30" width="2.30" height="12.65" fill="#12763e"/>
<rect x="410.60" y="34.25" width="2.30" height="12.65" fill="#126c39"/>
<rect x="410.60" y="46.20" width="2.30" height="12.65" fill="#12763e"/>
<rect x="410.60" y="58.15" width="2.30" height="12.65" fill="#12763e"/>
<rect x="410.60" y="70.10" width="2.30" height="12.65" fill="#12763e"/>
<rect x="410.60" y="82.05" width="2.30" height="12.65" fill="#da202b"/>
<rect x="410.60" y="94.00" width="2.30" height="12.65" fill="#de202c"/>
<rect x="410.60" y="105.95" width="2.30" height="12.65" fill="#a41a23"/>
<rect x="410.60" y="117.90" width="2.30" height="12.65" fill="#73151b"/>
<rect x="410.60" y="129.85" width="2.30" height="12.65" fill="#bd1d27"/>
<rect x="412.20" y="22.30" width="2.30" height="12.65" fill="#126c39"/>
<rect x="412.20" y="34.25" width="2.30" height="12.65" fill="#12733d"/>
<rect x="412.20" y="46.20" width="2.30" height="12.65" fill="#12763e"/>
<rect x="412.20" y="58.15" width="2.30" height="12.65" fill="#12763e"/>
<rect x="412.20" y="70.10" width="2.30" height="12.65" fill="#12763e"/>
<rect x="412.20" y="82.05" width="2.30" height="12.65" fill="#de202c"/>
<rect x="412.20" y="94.00" width="2.30" height="12.65" fill="#de202c"/>
<rect x="412.20" y="105.95" width="2.30" height="12.65" fill="#aa1b24"/>
<rect x="412.20" y="117.90" width="2.30" height="12.65" fill="#901820"/>
<rect x="412.20" y="129.85" width="2.30" height="12.65" fill="#de202c"/>
<rect x="413.80" y="22.30" width="2.30" height="12.65" fill="#12763e"/>
<rect x="413.80" y="34.25" width="2.30" height="12.65" fill="#136335"/>
<rect x="413.80" y="46.20" width="2.30" height="12.65" fill="#12763e"/>
<rect x="413.80" y="58.15" width="2.30" height="12.65" fill="#12763e"/>
<rect x="413.80" y="70.10" width="2.30" height="12.65" fill="#12703b"/>
<rect x="413.80" y="82.05" width="2.30" height="12.65" fill="#a31a23"/>
<rect x="413.80" y="94.00" width="2.30" height="12.65" fill="#de202c"/>
<rect x="413.80" y="105.95" width="2.30" height="12.65" fill="#5d1317"/>
<rect x="413.80" y="117.90" width="2.30" height="12.65" fill="#73151b"/>
<rect x="413.80" y="129.85" width="2.30" height="12.65" fill="#81171d"/>
<rect x="415.40" y="22.30" width="2.30" height="12.65" fill="#12763e"/>
<rect x="415.40" y="34.25" width="2.30" height="12.65" fill="#152e1c"/>
<rect x="415.40" y="46.20" width="2.30" height="12.65" fill="#13512d"/>
<rect x="415.40" y="58.15" width="2.30" height="12.65" fill="#1b0c0d"/>
<rect x="415.40" y="70.10" width="2.30" height="12.65" fill="#135930"/>
<rect x="415.40" y="82.05" width="2.30" height="12.65" fill="#b41c25"/>
<rect x="415.40" y="94.00" width="2.30" height="12.65" fill="#ca1e29"/>
<rect x="415.40" y="105.95" width="2.30" height="12.65" fill="#b21c25"/>
<rect x="415.40" y="117.90" width="2.30" height="12.65" fill="#631418"/>
<rect x="415.40" y="129.85" width="2.30" height="12.65" fill="#db202c"/>
<rect x="417.00" y="22.30" width="2.30" height="12.65" fill="#136536"/>
<rect x="417.00" y="34.25" width="2.30" height="12.65" fill="#12753e"/>
<rect x="417.00" y="46.20" width="2.30" height="12.65" fill="#12763e"/>
<rect x="417.00" y="58.15" width="2.30" height="12.65" fill="#13522d"/>
<rect x="417.00" y="70.10" width="2.30" height="12.65" fill="#135730"/>
<rect x="417.00" y="82.05" width="2.30" height="12.65" fill="#b41c25"/>
<rect x="417.00" y="94.00" width="2.30" height="12.65" fill="#85171e"/>
<rect x="417.00" y="105.95" width="2.30" height="12.65" fill="#152016"/>
<rect x="417.00" y="117.90" width="2.30" height="12.65" fill="#681419"/>
<rect x="417.00" y="129.85" width="2.30" height="12.65" fill="#ac1b24"/>
<rect x="418.60" y="22.30" width="2.30" height="12.65" fill="#12763e"/>
<rect x="418.60" y="34.25" width="2.30" height="12.65" fill="#12763e"/>
<rect x="418.60" y="46.20" width="2.30" height="12.65" fill="#12763e"/>
<rect x="418.60" y="58.15" width="2.30" height="12.65" fill="#12763e"/>
<rect x="418.60" y="70.10" width="2.30" height="12.65" fill="#12763e"/>
<rect x="418.60" y="82.05" width="2.30" height="12.65" fill="#de202c"/>
<rect x="418.60" y="94.00" width="2.30" height="12.65" fill="#a41a23"/>
<rect x="418.60" y="105.95" width="2.30" height="12.65" fill="#681419"/>
<rect x="418.60" y="117.90" width="2.30" height="12.65" fill="#621418"/>
<rect x="418.60" y="129.85" width="2.30" height="12.65" fill="#d01f2a"/>
<rect x="420.20" y="22.30" width="2.30" height="12.65" fill="#144527"/>
<rect x="420.20" y="34.25" width="2.30" height="12.65" fill="#12763e"/>
<rect x="420.20" y="46.20" width="2.30" height="12.65" fill="#136536"/>
<rect x="420.20" y="58.15" width="2.30" height="12.65" fill="#12743d"/>
<rect x="420.20" y="70.10" width="2.30" height="12.65" fill="#14351f"/>
<rect x="420.20" y="82.05" width="2.30" height="12.65" fill="#de202c"/>
<rect x="420.20" y="94.00" width="2.30" height="12.65" fill="#ad1b24"/>
<rect x="420.20" y="105.95" width="2.30" height="12.65" fill="#de202c"/>
<rect x="420.20" y="117.90" width="2.30" height="12.65" fill="#83171d"/>
<rect x="420.20" y="129.85" width="2.30" height="12.65" fill="#de202c"/>
<rect x="421.80" y="22.30" width="2.30" height="12.65" fill="#12763e"/>
<rect x="421.80" y="34.25" width="2.30" height="12.65" fill="#12763e"/>
<rect x="421.80" y="46.20" width="2.30" height="12.65" fill="#12763e"/>
<rect x="421.80" y="58.15" width="2.30" height="12.65" fill="#12763e"/>
<rect x="421.80" y="70.10" width="2.30" height="12.65" fill="#12763e"/>
<rect x="421.80" y="82.05" width="2.30" height="12.65" fill="#de202c"/>
<rect x="421.80" y="94.00" width="2.30" height="12.65" fill="#d61f2b"/>
<rect x="421.80" y="105.95" width="2.30" height="12.65" fill="#a81b23"/>
<rect x="421.80" y="117.90" width="2.30" height="12.65" fill="#82171d"/>
<rect x="421.80" y="129.85" width="2.30" height="12.65" fill="#de202c"/>
<rect x="423.40" y="22.30" width="2.30" height="12.65" fill="#13572f"/>
<rect x="423.40" y="34.25" width="2.30" height="12.65" fill="#12763e"/>
<rect x="423.40" y="46.20" width="2.30" height="12.65" fill="#12763e"/>
<rect x="423.40" y="58.15" width="2.30" height="12.65" fill="#12763e"/>
<rect x="423.40" y="70.10" width="2.30" height="12.65" fill="#12763e"/>
<rect x="423.40" y="82.05" width="2.30" height="12.65" fill="#ba1c26"/>
<rect x="423.40" y="94.00" width="2.30" height="12.65" fill="#af1b24"/>
<rect x="423.40" y="105.95" width="2.30" height="12.65" fill="#bc1d27"/>
<rect x="423.40" y="117.90" width="2.30" height="12.65" fill="#d41f2a"/>
<rect x="423.40" y="129.85" width="2.30" height="12.65" fill="#d41f2a"/>
<rect x="425.00" y="22.30" width="2.30" height="12.65" fill="#12763e"/>
<rect x="425.00" y="34.25" width="2.30" height="12.65" fill="#12763e"/>
<rect x="425.00" y="46.20" width="2.30" height="12.65" fill="#126f3b"/>
<rect x="425.00" y="58.15" width="2.30" height="12.65" fill="#12763e"/>
<rect x="425.00" y="70.10" width="2.30" height="12.65" fill="#134f2c"/>
<rect x="425.00" y="82.05" width="2.30" height="12.65" fill="#de202c"/>
<rect x="425.00" y="94.00" width="2.30" height="12.65" fill="#de202c"/>
<rect x="425.00" y="105.95" width="2.30" height="12.65" fill="#de202c"/>
<rect x="425.00" y="117.90" width="2.30" height="12.65" fill="#de202c"/>
<rect x="425.00" y="129.85" width="2.30" height="12.65" fill="#de202c"/>
<rect x="426.60" y="22.30" width="2.30" height="12.65" fill="#12763e"/>
<rect x="426.60" y="34.25" width="2.30" height="12.65" fill="#136033"/>
<rect x="426.60" y="46.20" width="2.30" height="12.65" fill="#136034"/>
<rect x="426.60" y="58.15" width="2.30" height="12.65" fill="#12763e"/>
<rect x="426.60" y="70.10" width="2.30" height="12.65" fill="#12763e"/>
<rect x="426.60" y="82.05" width="2.30" height="12.65" fill="#981921"/>
<rect x="426.60" y="94.00" width="2.30" height="12.65" fill="#d81f2b"/>
<rect x="426.60" y="105.95" width="2.30" height="12.65" fill="#de202c"/>
<rect x="426.60" y="117.90" width="2.30" height="12.65" fill="#551216"/>
<rect x="426.60" y="129.85" width="2.30" height="12.65" fill="#a51a23"/>
<rect x="428.20" y="22.30" width="2.30" height="12.65" fill="#12763e"/>
<rect x="428.20" y="34.25" width="2.30" height="12.65" fill="#12763e"/>
<rect x="428.20" y="46.20" width="2.30" height="12.65" fill="#136435"/>
<rect x="428.20" y="58.15" width="2.30" height="12.65" fill="#12763e"/>
<rect x="428.20" y="70.10" width="2.30" height="12.65" fill="#12763e"/>
<rect x="428.20" y="82.05" width="2.30" height="12.65" fill="#5a1317"/>
<rect x="428.20" y="94.00" width="2.30" height="12.65" fill="#b21c25"/>
<rect x="428.20" y="105.95" width="2.30" height="12.65" fill="#a61a23"/>
<rect x="428.20" y="117.90" width="2.30" height="12.65" fill="#16110f"/>
<rect x="428.20" y="129.85" width="2.30" height="12.65" fill="#73151b"/>
<rect x="429.80" y="22.30" width="2.30" height="12.65" fill="#136737"/>
<rect x="429.80" y="34.25" width="2.30" height="12.65" fill="#12723c"/>
<rect x="429.80" y="46.20" width="2.30" height="12.65" fill="#12763e"/>
<rect x="429.80" y="58.15" width="2.30" height="12.65" fill="#126f3b"/>
<rect x="429.80" y="70.10" width="2.30" height="12.65" fill="#12763e"/>
<rect x="429.80" y="82.05" width="2.30" height="12.65" fill="#de202c"/>
<rect x="429.80" y="94.00" width="2.30" height="12.65" fill="#da202b"/>
<rect x="429.80" y="105.95" width="2.30" height="12.65" fill="#de202c"/>
<rect x="429.80" y="117.90" width="2.30" height="12.65" fill="#de202c"/>
<rect x="429.80" y="129.85" width="2.30" height="12.65" fill="#de202c"/>
<rect x="431.40" y="22.30" width="2.30" height="12.65" fill="#144d2b"/>
<rect x="431.40" y="34.25" width="2.30" height="12.65" fill="#135a31"/>
<rect x="431.40" y="46.20" width="2.30" height="12.65" fill="#12743d"/>
<rect x="431.40" y="58.15" width="2.30" height="12.65" fill="#126938"/>
<rect x="431.40" y="70.10" width="2.30" height="12.65" fill="#161812"/>
<rect x="431.40" y="82.05" width="2.30" height="12.65" fill="#de202c"/>
<rect x="431.40" y="94.00" width="2.30" height="12.65" fill="#de202c"/>
<rect x="431.40" y="105.95" width="2.30" height="12.65" fill="#de202c"/>
<rect x="431.40" y="117.90" width="2.30" height="12.65" fill="#971921"/>
<rect x="431.40" y="129.85" width="2.30" height="12.65" fill="#de202c"/>
<rect x="433.00" y="22.30" width="2.30" height="12.65" fill="#136435"/>
<rect x="433.00" y="34.25" width="2.30" height="12.65" fill="#12763e"/>
<rect x="433.00" y="46.20" width="2.30" height="12.65" fill="#12763e"/>
<rect x="433.00" y="58.15" width="2.30" height="12.65" fill="#12763e"/>
<rect x="433.00" y="70.10" width="2.30" height="12.65" fill="#12763e"/>
<rect x="433.00" y="82.05" width="2.30" height="12.65" fill="#de202c"/>
<rect x="433.00" y="94.00" width="2.30" height="12.65" fill="#b01b25"/>
<rect x="433.00" y="105.95" width="2.30" height="12.65" fill="#a01a22"/>
<rect x="433.00" y="117.90" width="2.30" height="12.65" fill="#621418"/>
<rect x="433.00" y="129.85" width="2.30" height="12.65" fill="#de202c"/>
<rect x="434.60" y="22.30" width="2.30" height="12.65" fill="#12763e"/>
<rect x="434.60" y="34.25" width="2.30" height="12.65" fill="#12703b"/>
<rect x="434.60" y="46.20" width="2.30" height="12.65" fill="#136033"/>
<rect x="434.60" y="58.15" width="2.30" height="12.65" fill="#13542e"/>
<rect x="434.60" y="70.10" width="2.30" height="12.65" fill="#12763e"/>
<rect x="434.60" y="82.05" width="2.30" height="12.65" fill="#de202c"/>
<rect x="434.60" y="94.00" width="2.30" height="12.65" fill="#de202c"/>
<rect x="434.60" y="105.95" width="2.30" height="12.65" fill="#d71f2b"/>
<rect x="434.60" y="117.90" width="2.30" height="12.65" fill="#de202c"/>
<rect x="434.60" y="129.85" width="2.30" height="12.65" fill="#de202c"/>
<rect x="436.20" y="22.30" width="2.30" height="12.65" fill="#135d32"/>
<rect x="436.20" y="34.25" width="2.30" height="12.65" fill="#143620"/>
<rect x="436.20" y="46.20" width="2.30" height="12.65" fill="#15301d"/>
<rect x="436.20" y="58.15" width="2.30" height="12.65" fill="#144627"/>
<rect x="436.20" y="70.10" width="2.30" height="12.65" fill="#12763e"/>
<rect x="436.20" y="82.05" width="2.30" height="12.65" fill="#de202c"/>
<rect x="436.20" y="94.00" width="2.30" height="12.65" fill="#de202c"/>
<rect x="436.20" y="105.95" width="2.30" height="12.65" fill="#d91f2b"/>
<rect x="436.20" y="117.90" width="2.30" height="12.65" fill="#de202c"/>
<rect x="436.20" y="129.85" width="2.30" height="12.65" fill="#de202c"/>
<rect x="437.80" y="22.30" width="2.30" height="12.65" fill="#12763e"/>
<rect x="437.80" y="34.25" width="2.30" height="12.65" fill="#12763e"/>
<rect x="437.80" y="46.20" width="2.30" height="12.65" fill="#12763e"/>
<rect x="437.80" y="58.15" width="2.30" height="12.65" fill="#12763e"/>
<rect x="437.80" y="70.10" width="2.30" height="12.65" fill="#12763e"/>
<rect x="437.80" y="82.05" width="2.30" height="12.65" fill="#cb1e29"/>
<rect x="437.80" y="94.00" width="2.30" height="12.65" fill="#8c181f"/>
<rect x="437.80" y="105.95" width="2.30" height="12.65" fill="#de202c"/>
<rect x="437.80" y="117.90" width="2.30" height="12.65" fill="#4a1114"/>
<rect x="437.80" y="129.85" width="2.30" height="12.65" fill="#d9202b"/>
<rect x="439.40" y="22.30" width="2.30" height="12.65" fill="#12763e"/>
<rect x="439.40" y="34.25" width="2.30" height="12.65" fill="#12763e"/>
<rect x="439.40" y="46.20" width="2.30" height="12.65" fill="#134f2b"/>
<rect x="439.40" y="58.15" width="2.30" height="12.65" fill="#12763e"/>
<rect x="439.40" y="70.10" width="2.30" height="12.65" fill="#12763e"/>
<rect x="439.40" y="82.05" width="2.30" height="12.65" fill="#a11a22"/>
<rect x="439.40" y="94.00" width="2.30" height="12.65" fill="#de202c"/>
<rect x="439.40" y="105.95" width="2.30" height="12.65" fill="#de202c"/>
<rect x="439.40" y="117.90" width="2.30" height="12.65" fill="#72151b"/>
<rect x="439.40" y="129.85" width="2.30" height="12.65" fill="#82171d"/>
<rect x="441.00" y="22.30" width="2.30" height="12.65" fill="#12763e"/>
<rect x="441.00" y="34.25" width="2.30" height="12.65" fill="#12763e"/>
<rect x="441.00" y="46.20" width="2.30" height="12.65" fill="#12763e"/>
<rect x="441.00" y="58.15" width="2.30" height="12.65" fill="#12763e"/>
<rect x="441.00" y="70.10" width="2.30" height="12.65" fill="#12763e"/>
<rect x="441.00" y="82.05" width="2.30" height="12.65" fill="#7d161c"/>
<rect x="441.00" y="94.00" width="2.30" height="12.65" fill="#9d1922"/>
<rect x="441.00" y="105.95" width="2.30" height="12.65" fill="#de202c"/>
<rect x="441.00" y="117.90" width="2.30" height="12.65" fill="#de202c"/>
<rect x="441.00" y="129.85" width="2.30" height="12.65" fill="#ca1e29"/>
<rect x="442.60" y="22.30" width="2.30" height="12.65" fill="#12703b"/>
<rect x="442.60" y="34.25" width="2.30" height="12.65" fill="#13522d"/>
<rect x="442.60" y="46.20" width="2.30" height="12.65" fill="#12753e"/>
<rect x="442.60" y="58.15" width="2.30" height="12.65" fill="#12753e"/>
<rect x="442.60" y="70.10" width="2.30" height="12.65" fill="#12763e"/>
<rect x="442.60" y="82.05" width="2.30" height="12.65" fill="#7d161c"/>
<rect x="442.60" y="94.00" width="2.30" height="12.65" fill="#c01d27"/>
<rect x="442.60" y="105.95" width="2.30" height="12.65" fill="#de202c"/>
<rect x="442.60" y="117.90" width="2.30" height="12.65" fill="#a21a22"/>
<rect x="442.60" y="129.85" width="2.30" height="12.65" fill="#cd1e29"/>
<rect x="444.20" y="22.30" width="2.30" height="12.65" fill="#12763e"/>
<rect x="444.20" y="34.25" width="2.30" height="12.65" fill="#12743d"/>
<rect x="444.20" y="46.20" width="2.30" height="12.65" fill="#12763e"/>
<rect x="444.20" y="58.15" width="2.30" height="12.65" fill="#12763e"/>
<rect x="444.20" y="70.10" width="2.30" height="12.65" fill="#12763e"/>
<rect x="444.20" y="82.05" width="2.30" height="12.65" fill="#b11b25"/>
<rect x="444.20" y="94.00" width="2.30" height="12.65" fill="#be1d27"/>
<rect x="444.20" y="105.95" width="2.30" height="12.65" fill="#c81e28"/>
<rect x="444.20" y="117.90" width="2.30" height="12.65" fill="#de202c"/>
<rect x="444.20" y="129.85" width="2.30" height="12.65" fill="#de202c"/>
<rect x="445.80" y="22.30" width="2.30" height="12.65" fill="#12763e"/>
<rect x="445.80" y="34.25" width="2.30" height="12.65" fill="#12763e"/>
<rect x="445.80" y="46.20" width="2.30" height="12.65" fill="#12763e"/>
<rect x="445.80" y="58.15" width="2.30" height="12.65" fill="#12763e"/>
<rect x="445.80" y="70.10" width="2.30" height="12.65" fill="#12763e"/>
<rect x="445.80" y="82.05" width="2.30" height="12.65" fill="#c51e28"/>
<rect x="445.80" y="94.00" width="2.30" height="12.65" fill="#8c181f"/>
<rect x="445.80" y="105.95" width="2.30" height="12.65" fill="#83171d"/>
<rect x="445.80" y="117.90" width="2.30" height="12.65" fill="#c61e28"/>
<rect x="445.80" y="129.85" width="2.30" height="12.65" fill="#de202c"/>
<rect x="447.40" y="22.30" width="2.30" height="12.65" fill="#144125"/>
<rect x="447.40" y="34.25" width="2.30" height="12.65" fill="#144527"/>
<rect x="447.40" y="46.20" width="2.30" height="12.65" fill="#136536"/>
<rect x="447.40" y="58.15" width="2.30" height="12.65" fill="#13562f"/>
<rect x="447.40" y="70.10" width="2.30" height="12.65" fill="#13532d"/>
<rect x="447.40" y="82.05" width="2.30" height="12.65" fill="#921820"/>
<rect x="447.40" y="94.00" width="2.30" height="12.65" fill="#bb1c26"/>
<rect x="447.40" y="105.95" width="2.30" height="12.65" fill="#de202c"/>
<rect x="447.40" y="117.90" width="2.30" height="12.65" fill="#de202c"/>
<rect x="447.40" y="129.85" width="2.30" height="12.65" fill="#de202c"/>
<rect x="449.00" y="22.30" width="2.30" height="12.65" fill="#136938"/>
<rect x="449.00" y="34.25" width="2.30" height="12.65" fill="#12763e"/>
<rect x="449.00" y="46.20" width="2.30" height="12.65" fill="#136536"/>
<rect x="449.00" y="58.15" width="2.30" height="12.65" fill="#13552e"/>
<rect x="449.00" y="70.10" width="2.30" height="12.65" fill="#12763e"/>
<rect x="449.00" y="82.05" width="2.30" height="12.65" fill="#cf1e2a"/>
<rect x="449.00" y="94.00" width="2.30" height="12.65" fill="#82171d"/>
<rect x="449.00" y="105.95" width="2.30" height="12.65" fill="#de202c"/>
<rect x="449.00" y="117.90" width="2.30" height="12.65" fill="#de202c"/>
<rect x="449.00" y="129.85" width="2.30" height="12.65" fill="#b61c26"/>
<rect x="450.60" y="22.30" width="2.30" height="12.65" fill="#152819"/>
<rect x="450.60" y="34.25" width="2.30" height="12.65" fill="#144e2b"/>
<rect x="450.60" y="46.20" width="2.30" height="12.65" fill="#143821"/>
<rect x="450.60" y="58.15" width="2.30" height="12.65" fill="#13542e"/>
<rect x="450.60" y="70.10" width="2.30" height="12.65" fill="#161711"/>
<rect x="450.60" y="82.05" width="2.30" height="12.65" fill="#d11f2a"/>
<rect x="450.60" y="94.00" width="2.30" height="12.65" fill="#a21a22"/>
<rect x="450.60" y="105.95" width="2.30" height="12.65" fill="#7b161c"/>
<rect x="450.60" y="117.90" width="2.30" height="12.65" fill="#a51a23"/>
<rect x="450.60" y="129.85" width="2.30" height="12.65" fill="#72151b"/>
<rect x="452.20" y="22.30" width="2.30" height="12.65" fill="#12763e"/>
<rect x="452.20" y="34.25" width="2.30" height="12.65" fill="#12763e"/>
<rect x="452.20" y="46.20" width="2.30" height="12.65" fill="#12763e"/>
<rect x="452.20" y="58.15" width="2.30" height="12.65" fill="#136837"/>
<rect x="452.20" y="70.10" width="2.30" height="12.65" fill="#144a29"/>
<rect x="452.20" y="82.05" width="2.30" height="12.65" fill="#c81e28"/>
<rect x="452.20" y="94.00" width="2.30" height="12.65" fill="#c11d27"/>
<rect x="452.20" y="105.95" width="2.30" height="12.65" fill="#cc1e29"/>
<rect x="452.20" y="117.90" width="2.30" height="12.65" fill="#de202c"/>
<rect x="452.20" y="129.85" width="2.30" height="12.65" fill="#de202c"/>
<rect x="453.80" y="22.30" width="2.30" height="12.65" fill="#144828"/>
<rect x="453.80" y="34.25" width="2.30" height="12.65" fill="#136235"/>
<rect x="453.80" y="46.20" width="2.30" height="12.65" fill="#12763e"/>
<rect x="453.80" y="58.15" width="2.30" height="12.65" fill="#126f3b"/>
<rect x="453.80" y="70.10" width="2.30" height="12.65" fill="#160f0d"/>
<rect x="453.80" y="82.05" width="2.30" height="12.65" fill="#b41c25"/>
<rect x="453.80" y="94.00" width="2.30" height="12.65" fill="#681419"/>
<rect x="453.80" y="105.95" width="2.30" height="12.65" fill="#b21c25"/>
<rect x="453.80" y="117.90" width="2.30" height="12.65" fill="#71151b"/>
<rect x="453.80" y="129.85" width="2.30" height="12.65" fill="#491114"/>
<rect x="455.40" y="22.30" width="2.30" height="12.65" fill="#12713c"/>
<rect x="455.40" y="34.25" width="2.30" height="12.65" fill="#12763e"/>
<rect x="455.40" y="46.20" width="2.30" height="12.65" fill="#144d2b"/>
<rect x="455.40" y="58.15" width="2.30" height="12.65" fill="#135a31"/>
<rect x="455.40" y="70.10" width="2.30" height="12.65" fill="#151f15"/>
<rect x="455.40" y="82.05" width="2.30" height="12.65" fill="#de202c"/>
<rect x="455.40" y="94.00" width="2.30" height="12.65" fill="#72151b"/>
<rect x="455.40" y="105.95" width="2.30" height="12.65" fill="#cb1e29"/>
<rect x="455.40" y="117.90" width="2.30" height="12.65" fill="#de202c"/>
<rect x="455.40" y="129.85" width="2.30" height="12.65" fill="#d91f2b"/>
<rect x="457.00" y="22.30" width="2.30" height="12.65" fill="#12763e"/>
<rect x="457.00" y="34.25" width="2.30" height="12.65" fill="#12763e"/>
<rect x="457.00" y="46.20" width="2.30" height="12.65" fill="#12763e"/>
<rect x="457.00" y="58.15" width="2.30" height="12.65" fill="#12763e"/>
<rect x="457.00" y="70.10" width="2.30" height="12.65" fill="#12763e"/>
<rect x="457.00" y="82.05" width="2.30" height="12.65" fill="#d51f2b"/>
<rect x="457.00" y="94.00" width="2.30" height="12.65" fill="#641419"/>
<rect x="457.00" y="105.95" width="2.30" height="12.65" fill="#88171e"/>
<rect x="457.00" y="117.90" width="2.30" height="12.65" fill="#de202c"/>
<rect x="457.00" y="129.85" width="2.30" height="12.65" fill="#591317"/>
<rect x="458.60" y="22.30" width="2.30" height="12.65" fill="#144828"/>
<rect x="458.60" y="34.25" width="2.30" height="12.65" fill="#12763e"/>
<rect x="458.60" y="46.20" width="2.30" height="12.65" fill="#144929"/>
<rect x="458.60" y="58.15" width="2.30" height="12.65" fill="#12763e"/>
<rect x="458.60" y="70.10" width="2.30" height="12.65" fill="#160e0d"/>
<rect x="458.60" y="82.05" width="2.30" height="12.65" fill="#8b181f"/>
<rect x="458.60" y="94.00" width="2.30" height="12.65" fill="#152015"/>
<rect x="458.60" y="105.95" width="2.30" height="12.65" fill="#911820"/>
<rect x="458.60" y="117.90" width="2.30" height="12.65" fill="#ad1b24"/>
<rect x="458.60" y="129.85" width="2.30" height="12.65" fill="#16110e"/>
<rect x="460.20" y="22.30" width="2.30" height="12.65" fill="#13542e"/>
<rect x="460.20" y="34.25" width="2.30" height="12.65" fill="#12763e"/>
<rect x="460.20" y="46.20" width="2.30" height="12.65" fill="#12763e"/>
<rect x="460.20" y="58.15" width="2.30" height="12.65" fill="#12763e"/>
<rect x="460.20" y="70.10" width="2.30" height="12.65" fill="#144828"/>
<rect x="460.20" y="82.05" width="2.30" height="12.65" fill="#bc1d26"/>
<rect x="460.20" y="94.00" width="2.30" height="12.65" fill="#691419"/>
<rect x="460.20" y="105.95" width="2.30" height="12.65" fill="#de202c"/>
<rect x="460.20" y="117.90" width="2.30" height="12.65" fill="#b11c25"/>
<rect x="460.20" y="129.85" width="2.30" height="12.65" fill="#9a1921"/>
<rect x="461.80" y="22.30" width="2.30" height="12.65" fill="#152417"/>
<rect x="461.80" y="34.25" width="2.30" height="12.65" fill="#330f11"/>
<rect x="461.80" y="46.20" width="2.30" height="12.65" fill="#143f24"/>
<rect x="461.80" y="58.15" width="2.30" height="12.65" fill="#134f2b"/>
<rect x="461.80" y="70.10" width="2.30" height="12.65" fill="#13572f"/>
<rect x="461.80" y="82.05" width="2.30" height="12.65" fill="#78161c"/>
<rect x="461.80" y="94.00" width="2.30" height="12.65" fill="#c31d28"/>
<rect x="461.80" y="105.95" width="2.30" height="12.65" fill="#b21c25"/>
<rect x="461.80" y="117.90" width="2.30" height="12.65" fill="#ba1c26"/>
<rect x="461.80" y="129.85" width="2.30" height="12.65" fill="#cc1e29"/>
<rect x="463.40" y="22.30" width="2.30" height="12.65" fill="#144e2b"/>
<rect x="463.40" y="34.25" width="2.30" height="12.65" fill="#161510"/>
<rect x="463.40" y="46.20" width="2.30" height="12.65" fill="#126a38"/>
<rect x="463.40" y="58.15" width="2.30" height="12.65" fill="#135f33"/>
<rect x="463.40" y="70.10" width="2.30" height="12.65" fill="#152b1b"/>
<rect x="463.40" y="82.05" width="2.30" height="12.65" fill="#de202c"/>
<rect x="463.40" y="94.00" width="2.30" height="12.65" fill="#b51c25"/>
<rect x="463.40" y="105.95" width="2.30" height="12.65" fill="#de202c"/>
<rect x="463.40" y="117.90" width="2.30" height="12.65" fill="#de202c"/>
<rect x="463.40" y="129.85" width="2.30" height="12.65" fill="#9a1921"/>
<rect x="465.00" y="22.30" width="2.30" height="12.65" fill="#15321e"/>
<rect x="465.00" y="34.25" width="2.30" height="12.65" fill="#152216"/>
<rect x="465.00" y="46.20" width="2.30" height="12.65" fill="#12763e"/>
<rect x="465.00" y="58.15" width="2.30" height="12.65" fill="#12763e"/>
<rect x="465.00" y="70.10" width="2.30" height="12.65" fill="#135830"/>
<rect x="465.00" y="82.05" width="2.30" height="12.65" fill="#de202c"/>
<rect x="465.00" y="94.00" width="2.30" height="12.65" fill="#de202c"/>
<rect x="465.00" y="105.95" width="2.30" height="12.65" fill="#de202c"/>
<rect x="465.00" y="117.90" width="2.30" height="12.65" fill="#de202c"/>
<rect x="465.00" y="129.85" width="2.30" height="12.65" fill="#b81c26"/>
<rect x="466.60" y="22.30" width="2.30" height="12.65" fill="#126e3a"/>
<rect x="466.60" y="34.25" width="2.30" height="12.65" fill="#971921"/>
<rect x="466.60" y="46.20" width="2.30" height="12.65" fill="#12763e"/>
<rect x="466.60" y="58.15" width="2.30" height="12.65" fill="#12763e"/>
<rect x="466.60" y="70.10" width="2.30" height="12.65" fill="#144527"/>
<rect x="466.60" y="82.05" width="2.30" height="12.65" fill="#77161b"/>
<rect x="466.60" y="94.00" width="2.30" height="12.65" fill="#380f11"/>
<rect x="466.60" y="105.95" width="2.30" height="12.65" fill="#b11c25"/>
<rect x="466.60" y="117.90" width="2.30" height="12.65" fill="#641418"/>
<rect x="466.60" y="129.85" width="2.30" height="12.65" fill="#330f11"/>
<rect x="468.20" y="22.30" width="2.30" height="12.65" fill="#144326"/>
<rect x="468.20" y="34.25" width="2.30" height="12.65" fill="#5b1317"/>
<rect x="468.20" y="46.20" width="2.30" height="12.65" fill="#135930"/>
<rect x="468.20" y="58.15" width="2.30" height="12.65" fill="#12763e"/>
<rect x="468.20" y="70.10" width="2.30" height="12.65" fill="#126f3b"/>
<rect x="468.20" y="82.05" width="2.30" height="12.65" fill="#220d0e"/>
<rect x="468.20" y="94.00" width="2.30" height="12.65" fill="#8f181f"/>
<rect x="468.20" y="105.95" width="2.30" height="12.65" fill="#d11f2a"/>
<rect x="468.20" y="117.90" width="2.30" height="12.65" fill="#c61e28"/>
<rect x="468.20" y="129.85" width="2.30" height="12.65" fill="#d91f2b"/>
<rect x="469.80" y="22.30" width="2.30" height="12.65" fill="#3e1012"/>
<rect x="469.80" y="34.25" width="2.30" height="12.65" fill="#270e0f"/>
<rect x="469.80" y="46.20" width="2.30" height="12.65" fill="#15341f"/>
<rect x="469.80" y="58.15" width="2.30" height="12.65" fill="#143b22"/>
<rect x="469.80" y="70.10" width="2.30" height="12.65" fill="#161410"/>
<rect x="469.80" y="82.05" width="2.30" height="12.65" fill="#691419"/>
<rect x="469.80" y="94.00" width="2.30" height="12.65" fill="#481114"/>
<rect x="469.80" y="105.95" width="2.30" height="12.65" fill="#85171e"/>
<rect x="469.80" y="117.90" width="2.30" height="12.65" fill="#bc1d27"/>
<rect x="469.80" y="129.85" width="2.30" height="12.65" fill="#6d151a"/>
<rect x="471.40" y="22.30" width="2.30" height="12.65" fill="#4b1114"/>
<rect x="471.40" y="34.25" width="2.30" height="12.65" fill="#151e15"/>
<rect x="471.40" y="46.20" width="2.30" height="12.65" fill="#531216"/>
<rect x="471.40" y="58.15" width="2.30" height="12.65" fill="#2a0e0f"/>
<rect x="471.40" y="70.10" width="2.30" height="12.65" fill="#4f1215"/>
<rect x="471.40" y="82.05" width="2.30" height="12.65" fill="#3f1013"/>
<rect x="471.40" y="94.00" width="2.30" height="12.65" fill="#240d0e"/>
<rect x="471.40" y="105.95" width="2.30" height="12.65" fill="#4d1115"/>
<rect x="471.40" y="117.90" width="2.30" height="12.65" fill="#310f10"/>
<rect x="471.40" y="129.85" width="2.30" height="12.65" fill="#a91b23"/>
<rect x="473.00" y="22.30" width="2.30" height="12.65" fill="#350f11"/>
<rect x="473.00" y="34.25" width="2.30" height="12.65" fill="#1c0d0d"/>
<rect x="473.00" y="46.20" width="2.30" height="12.65" fill="#13502c"/>
<rect x="473.00" y="58.15" width="2.30" height="12.65" fill="#170c0c"/>
<rect x="473.00" y="70.10" width="2.30" height="12.65" fill="#143b22"/>
<rect x="473.00" y="82.05" width="2.30" height="12.65" fill="#de202c"/>
<rect x="473.00" y="94.00" width="2.30" height="12.65" fill="#cb1e29"/>
<rect x="473.00" y="105.95" width="2.30" height="12.65" fill="#c31d28"/>
<rect x="473.00" y="117.90" width="2.30" height="12.65" fill="#144d2a"/>
<rect x="473.00" y="129.85" width="2.30" height="12.65" fill="#c31d28"/>
<rect x="474.60" y="22.30" width="2.30" height="12.65" fill="#87171e"/>
<rect x="474.60" y="34.25" width="2.30" height="12.65" fill="#4a1114"/>
<rect x="474.60" y="46.20" width="2.30" height="12.65" fill="#380f11"/>
<rect x="474.60" y="58.15" width="2.30" height="12.65" fill="#160e0d"/>
<rect x="474.60" y="70.10" width="2.30" height="12.65" fill="#161912"/>
<rect x="474.60" y="82.05" width="2.30" height="12.65" fill="#290e0f"/>
<rect x="474.60" y="94.00" width="2.30" height="12.65" fill="#d31f2a"/>
<rect x="474.60" y="105.95" width="2.30" height="12.65" fill="#481114"/>
<rect x="474.60" y="117.90" width="2.30" height="12.65" fill="#15311e"/>
<rect x="474.60" y="129.85" width="2.30" height="12.65" fill="#1f0d0d"/>
<rect x="476.20" y="22.30" width="2.30" height="12.65" fill="#144226"/>
<rect x="476.20" y="34.25" width="2.30" height="12.65" fill="#290e0f"/>
<rect x="476.20" y="46.20" width="2.30" height="12.65" fill="#152c1b"/>
<rect x="476.20" y="58.15" width="2.30" height="12.65" fill="#290e0f"/>
<rect x="476.20" y="70.10" width="2.30" height="12.65" fill="#144c2a"/>
<rect x="476.20" y="82.05" width="2.30" height="12.65" fill="#8f181f"/>
<rect x="476.20" y="94.00" width="2.30" height="12.65" fill="#611318"/>
<rect x="476.20" y="105.95" width="2.30" height="12.65" fill="#82171d"/>
<rect x="476.20" y="117.90" width="2.30" height="12.65" fill="#152317"/>
<rect x="476.20" y="129.85" width="2.30" height="12.65" fill="#370f11"/>
<rect x="477.80" y="22.30" width="2.30" height="12.65" fill="#5c1317"/>
<rect x="477.80" y="34.25" width="2.30" height="12.65" fill="#290e0f"/>
<rect x="477.80" y="46.20" width="2.30" height="12.65" fill="#74151b"/>
<rect x="477.80" y="58.15" width="2.30" height="12.65" fill="#4b1115"/>
<rect x="477.80" y="70.10" width="2.30" height="12.65" fill="#7a161c"/>
<rect x="477.80" y="82.05" width="2.30" height="12.65" fill="#78161c"/>
<rect x="477.80" y="94.00" width="2.30" height="12.65" fill="#471114"/>
<rect x="477.80" y="105.95" width="2.30" height="12.65" fill="#240d0e"/>
<rect x="477.80" y="117.90" width="2.30" height="12.65" fill="#170c0c"/>
<rect x="477.80" y="129.85" width="2.30" height="12.65" fill="#941920"/>
<rect x="479.40" y="22.30" width="2.30" height="12.65" fill="#6e151a"/>
<rect x="479.40" y="34.25" width="2.30" height="12.65" fill="#5f1318"/>
<rect x="479.40" y="46.20" width="2.30" height="12.65" fill="#581317"/>
<rect x="479.40" y="58.15" width="2.30" height="12.65" fill="#621418"/>
<rect x="479.40" y="70.10" width="2.30" height="12.65" fill="#2e0e10"/>
<rect x="479.40" y="82.05" width="2.30" height="12.65" fill="#4f1215"/>
<rect x="479.40" y="94.00" width="2.30" height="12.65" fill="#71151b"/>
<rect x="479.40" y="105.95" width="2.30" height="12.65" fill="#2c0e10"/>
<rect x="479.40" y="117.90" width="2.30" height="12.65" fill="#126938"/>
<rect x="479.40" y="129.85" width="2.30" height="12.65" fill="#401013"/>
<rect x="481.00" y="22.30" width="2.30" height="12.65" fill="#151e14"/>
<rect x="481.00" y="34.25" width="2.30" height="12.65" fill="#4c1115"/>
<rect x="481.00" y="46.20" width="2.30" height="12.65" fill="#190c0c"/>
<rect x="481.00" y="58.15" width="2.30" height="12.65" fill="#290e0f"/>
<rect x="481.00" y="70.10" width="2.30" height="12.65" fill="#15331e"/>
<rect x="481.00" y="82.05" width="2.30" height="12.65" fill="#ae1b24"/>
<rect x="481.00" y="94.00" width="2.30" height="12.65" fill="#160d0c"/>
<rect x="481.00" y="105.95" width="2.30" height="12.65" fill="#13542e"/>
<rect x="481.00" y="117.90" width="2.30" height="12.65" fill="#136837"/>
<rect x="481.00" y="129.85" width="2.30" height="12.65" fill="#12763e"/>
<rect x="482.60" y="22.30" width="2.30" height="12.65" fill="#1a0c0d"/>
<rect x="482.60" y="34.25" width="2.30" height="12.65" fill="#a51a23"/>
<rect x="482.60" y="46.20" width="2.30" height="12.65" fill="#86171e"/>
<rect x="482.60" y="58.15" width="2.30" height="12.65" fill="#7b161c"/>
<rect x="482.60" y="70.10" width="2.30" height="12.65" fill="#152d1c"/>
<rect x="482.60" y="82.05" width="2.30" height="12.65" fill="#de202c"/>
<rect x="482.60" y="94.00" width="2.30" height="12.65" fill="#481114"/>
<rect x="482.60" y="105.95" width="2.30" height="12.65" fill="#14351f"/>
<rect x="482.60" y="117.90" width="2.30" height="12.65" fill="#5d1317"/>
<rect x="482.60" y="129.85" width="2.30" height="12.65" fill="#80171d"/>
<rect x="484.20" y="22.30" width="2.30" height="12.65" fill="#2a0e0f"/>
<rect x="484.20" y="34.25" width="2.30" height="12.65" fill="#9b1921"/>
<rect x="484.20" y="46.20" width="2.30" height="12.65" fill="#9f1a22"/>
<rect x="484.20" y="58.15" width="2.30" height="12.65" fill="#af1b25"/>
<rect x="484.20" y="70.10" width="2.30" height="12.65" fill="#ad1b24"/>
<rect x="484.20" y="82.05" width="2.30" height="12.65" fill="#b51c25"/>
<rect x="484.20" y="94.00" width="2.30" height="12.65" fill="#14341f"/>
<rect x="484.20" y="105.95" width="2.30" height="12.65" fill="#126938"/>
<rect x="484.20" y="117.90" width="2.30" height="12.65" fill="#1c0d0d"/>
<rect x="484.20" y="129.85" width="2.30" height="12.65" fill="#83171d"/>
<rect x="485.80" y="22.30" width="2.30" height="12.65" fill="#240d0e"/>
<rect x="485.80" y="34.25" width="2.30" height="12.65" fill="#160f0d"/>
<rect x="485.80" y="46.20" width="2.30" height="12.65" fill="#134e2b"/>
<rect x="485.80" y="58.15" width="2.30" height="12.65" fill="#143620"/>
<rect x="485.80" y="70.10" width="2.30" height="12.65" fill="#144427"/>
<rect x="485.80" y="82.05" width="2.30" height="12.65" fill="#de202c"/>
<rect x="485.80" y="94.00" width="2.30" height="12.65" fill="#143720"/>
<rect x="485.80" y="105.95" width="2.30" height="12.65" fill="#310f10"/>
<rect x="485.80" y="117.90" width="2.30" height="12.65" fill="#7b161c"/>
<rect x="485.80" y="129.85" width="2.30" height="12.65" fill="#79161c"/>
<rect x="487.40" y="22.30" width="2.30" height="12.65" fill="#1f0d0d"/>
<rect x="487.40" y="34.25" width="2.30" height="12.65" fill="#5d1317"/>
<rect x="487.40" y="46.20" width="2.30" height="12.65" fill="#421013"/>
<rect x="487.40" y="58.15" width="2.30" height="12.65" fill="#601318"/>
<rect x="487.40" y="70.10" width="2.30" height="12.65" fill="#de202c"/>
<rect x="487.40" y="82.05" width="2.30" height="12.65" fill="#de202c"/>
<rect x="487.40" y="94.00" width="2.30" height="12.65" fill="#a81b23"/>
<rect x="487.40" y="105.95" width="2.30" height="12.65" fill="#2d0e10"/>
<rect x="487.40" y="117.90" width="2.30" height="12.65" fill="#de202c"/>
<rect x="487.40" y="129.85" width="2.30" height="12.65" fill="#dc202c"/>
<rect x="489.00" y="22.30" width="2.30" height="12.65" fill="#151b13"/>
<rect x="489.00" y="34.25" width="2.30" height="12.65" fill="#4e1215"/>
<rect x="489.00" y="46.20" width="2.30" height="12.65" fill="#16130f"/>
<rect x="489.00" y="58.15" width="2.30" height="12.65" fill="#15321e"/>
<rect x="489.00" y="70.10" width="2.30" height="12.65" fill="#152c1b"/>
<rect x="489.00" y="82.05" width="2.30" height="12.65" fill="#de202c"/>
<rect x="489.00" y="94.00" width="2.30" height="12.65" fill="#ca1e29"/>
<rect x="489.00" y="105.95" width="2.30" height="12.65" fill="#a81b23"/>
<rect x="489.00" y="117.90" width="2.30" height="12.65" fill="#de202c"/>
<rect x="489.00" y="129.85" width="2.30" height="12.65" fill="#921820"/>
<rect x="490.60" y="22.30" width="2.30" height="12.65" fill="#411013"/>
<rect x="490.60" y="34.25" width="2.30" height="12.65" fill="#210d0e"/>
<rect x="490.60" y="46.20" width="2.30" height="12.65" fill="#370f11"/>
<rect x="490.60" y="58.15" width="2.30" height="12.65" fill="#126b39"/>
<rect x="490.60" y="70.10" width="2.30" height="12.65" fill="#144e2b"/>
<rect x="490.60" y="82.05" width="2.30" height="12.65" fill="#511216"/>
<rect x="490.60" y="94.00" width="2.30" height="12.65" fill="#6b141a"/>
<rect x="490.60" y="105.95" width="2.30" height="12.65" fill="#300f10"/>
<rect x="490.60" y="117.90" width="2.30" height="12.65" fill="#160f0d"/>
<rect x="490.60" y="129.85" width="2.30" height="12.65" fill="#1c0d0d"/>
<rect x="492.20" y="22.30" width="2.30" height="12.65" fill="#3c1012"/>
<rect x="492.20" y="34.25" width="2.30" height="12.65" fill="#5d1317"/>
<rect x="492.20" y="46.20" width="2.30" height="12.65" fill="#3a1012"/>
<rect x="492.20" y="58.15" width="2.30" height="12.65" fill="#12763e"/>
<rect x="492.20" y="70.10" width="2.30" height="12.65" fill="#13562f"/>
<rect x="492.20" y="82.05" width="2.30" height="12.65" fill="#661419"/>
<rect x="492.20" y="94.00" width="2.30" height="12.65" fill="#641418"/>
<rect x="492.20" y="105.95" width="2.30" height="12.65" fill="#152719"/>
<rect x="492.20" y="117.90" width="2.30" height="12.65" fill="#5f1318"/>
<rect x="492.20" y="129.85" width="2.30" height="12.65" fill="#152216"/>
<rect x="493.80" y="22.30" width="2.30" height="12.65" fill="#170c0c"/>
<rect x="493.80" y="34.25" width="2.30" height="12.65" fill="#170c0c"/>
<rect x="493.80" y="46.20" width="2.30" height="12.65" fill="#4f1215"/>
<rect x="493.80" y="58.15" width="2.30" height="12.65" fill="#12763e"/>
<rect x="493.80" y="70.10" width="2.30" height="12.65" fill="#12763e"/>
<rect x="493.80" y="82.05" width="2.30" height="12.65" fill="#951920"/>
<rect x="493.80" y="94.00" width="2.30" height="12.65" fill="#b91c26"/>
<rect x="493.80" y="105.95" width="2.30" height="12.65" fill="#144226"/>
<rect x="493.80" y="117.90" width="2.30" height="12.65" fill="#152618"/>
<rect x="493.80" y="129.85" width="2.30" height="12.65" fill="#4b1114"/>
<rect x="495.40" y="22.30" width="2.30" height="12.65" fill="#152819"/>
<rect x="495.40" y="34.25" width="2.30" height="12.65" fill="#160f0d"/>
<rect x="495.40" y="46.20" width="2.30" height="12.65" fill="#143c23"/>
<rect x="495.40" y="58.15" width="2.30" height="12.65" fill="#12763e"/>
<rect x="495.40" y="70.10" width="2.30" height="12.65" fill="#12763e"/>
<rect x="495.40" y="82.05" width="2.30" height="12.65" fill="#611318"/>
<rect x="495.40" y="94.00" width="2.30" height="12.65" fill="#421013"/>
<rect x="495.40" y="105.95" width="2.30" height="12.65" fill="#12763e"/>
<rect x="495.40" y="117.90" width="2.30" height="12.65" fill="#15301d"/>
<rect x="495.40" y="129.85" width="2.30" height="12.65" fill="#135c32"/>
<rect x="497.00" y="22.30" width="2.30" height="12.65" fill="#6f151a"/>
<rect x="497.00" y="34.25" width="2.30" height="12.65" fill="#74151b"/>
<rect x="497.00" y="46.20" width="2.30" height="12.65" fill="#a31a23"/>
<rect x="497.00" y="58.15" width="2.30" height="12.65" fill="#136235"/>
<rect x="497.00" y="70.10" width="2.30" height="12.65" fill="#135c32"/>
<rect x="497.00" y="82.05" width="2.30" height="12.65" fill="#521216"/>
<rect x="497.00" y="94.00" width="2.30" height="12.65" fill="#9a1921"/>
<rect x="497.00" y="105.95" width="2.30" height="12.65" fill="#161812"/>
<rect x="497.00" y="117.90" width="2.30" height="12.65" fill="#144527"/>
<rect x="497.00" y="129.85" width="2.30" height="12.65" fill="#152e1c"/>
<rect x="498.60" y="22.30" width="2.30" height="12.65" fill="#6e151a"/>
<rect x="498.60" y="34.25" width="2.30" height="12.65" fill="#7e161d"/>
<rect x="498.60" y="46.20" width="2.30" height="12.65" fill="#d71f2b"/>
<rect x="498.60" y="58.15" width="2.30" height="12.65" fill="#12763e"/>
<rect x="498.60" y="70.10" width="2.30" height="12.65" fill="#136636"/>
<rect x="498.60" y="82.05" width="2.30" height="12.65" fill="#591317"/>
<rect x="498.60" y="94.00" width="2.30" height="12.65" fill="#5f1318"/>
<rect x="498.60" y="105.95" width="2.30" height="12.65" fill="#8f181f"/>
<rect x="498.60" y="117.90" width="2.30" height="12.65" fill="#681419"/>
<rect x="498.60" y="129.85" width="2.30" height="12.65" fill="#c51d28"/>
<rect x="500.20" y="22.30" width="2.30" height="12.65" fill="#611418"/>
<rect x="500.20" y="34.25" width="2.30" height="12.65" fill="#152c1b"/>
<rect x="500.20" y="46.20" width="2.30" height="12.65" fill="#15311d"/>
<rect x="500.20" y="58.15" width="2.30" height="12.65" fill="#15311e"/>
<rect x="500.20" y="70.10" width="2.30" height="12.65" fill="#13502c"/>
<rect x="500.20" y="82.05" width="2.30" height="12.65" fill="#511215"/>
<rect x="500.20" y="94.00" width="2.30" height="12.65" fill="#531216"/>
<rect x="500.20" y="105.95" width="2.30" height="12.65" fill="#160c0c"/>
<rect x="500.20" y="117.90" width="2.30" height="12.65" fill="#135e33"/>
<rect x="500.20" y="129.85" width="2.30" height="12.65" fill="#13522d"/>
<rect x="501.80" y="22.30" width="2.30" height="12.65" fill="#a11a22"/>
<rect x="501.80" y="34.25" width="2.30" height="12.65" fill="#9d1a22"/>
<rect x="501.80" y="46.20" width="2.30" height="12.65" fill="#641418"/>
<rect x="501.80" y="58.15" width="2.30" height="12.65" fill="#6b151a"/>
<rect x="501.80" y="70.10" width="2.30" height="12.65" fill="#de202c"/>
<rect x="501.80" y="82.05" width="2.30" height="12.65" fill="#5a1317"/>
<rect x="501.80" y="94.00" width="2.30" height="12.65" fill="#310f10"/>
<rect x="501.80" y="105.95" width="2.30" height="12.65" fill="#170c0c"/>
<rect x="501.80" y="117.90" width="2.30" height="12.65" fill="#152015"/>
<rect x="501.80" y="129.85" width="2.30" height="12.65" fill="#12763e"/>
<rect x="503.40" y="22.30" width="2.30" height="12.65" fill="#3d1012"/>
<rect x="503.40" y="34.25" width="2.30" height="12.65" fill="#7f171d"/>
<rect x="503.40" y="46.20" width="2.30" height="12.65" fill="#16100e"/>
<rect x="503.40" y="58.15" width="2.30" height="12.65" fill="#15321e"/>
<rect x="503.40" y="70.10" width="2.30" height="12.65" fill="#16120f"/>
<rect x="503.40" y="82.05" width="2.30" height="12.65" fill="#5d1317"/>
<rect x="503.40" y="94.00" width="2.30" height="12.65" fill="#661419"/>
<rect x="503.40" y="105.95" width="2.30" height="12.65" fill="#250d0e"/>
<rect x="503.40" y="117.90" width="2.30" height="12.65" fill="#280e0f"/>
<rect x="503.40" y="129.85" width="2.30" height="12.65" fill="#12763e"/>
<rect x="505.00" y="22.30" width="2.30" height="12.65" fill="#b61c26"/>
<rect x="505.00" y="34.25" width="2.30" height="12.65" fill="#b61c26"/>
<rect x="505.00" y="46.20" width="2.30" height="12.65" fill="#511215"/>
<rect x="505.00" y="58.15" width="2.30" height="12.65" fill="#3c1012"/>
<rect x="505.00" y="70.10" width="2.30" height="12.65" fill="#290e0f"/>
<rect x="505.00" y="82.05" width="2.30" height="12.65" fill="#971921"/>
<rect x="505.00" y="94.00" width="2.30" height="12.65" fill="#de202c"/>
<rect x="505.00" y="105.95" width="2.30" height="12.65" fill="#1e0d0d"/>
<rect x="505.00" y="117.90" width="2.30" height="12.65" fill="#152217"/>
<rect x="505.00" y="129.85" width="2.30" height="12.65" fill="#152d1b"/>
<rect x="506.60" y="22.30" width="2.30" height="12.65" fill="#441113"/>
<rect x="506.60" y="34.25" width="2.30" height="12.65" fill="#152317"/>
<rect x="506.60" y="46.20" width="2.30" height="12.65" fill="#152217"/>
<rect x="506.60" y="58.15" width="2.30" height="12.65" fill="#1c0d0d"/>
<rect x="506.60" y="70.10" width="2.30" height="12.65" fill="#152d1c"/>
<rect x="506.60" y="82.05" width="2.30" height="12.65" fill="#152015"/>
<rect x="506.60" y="94.00" width="2.30" height="12.65" fill="#1e0d0d"/>
<rect x="506.60" y="105.95" width="2.30" height="12.65" fill="#144225"/>
<rect x="506.60" y="117.90" width="2.30" height="12.65" fill="#12763e"/>
<rect x="506.60" y="129.85" width="2.30" height="12.65" fill="#12763e"/>
<rect x="508.20" y="22.30" width="2.30" height="12.65" fill="#7b161c"/>
<rect x="508.20" y="34.25" width="2.30" height="12.65" fill="#13502c"/>
<rect x="508.20" y="46.20" width="2.30" height="12.65" fill="#152c1b"/>
<rect x="508.20" y="58.15" width="2.30" height="12.65" fill="#16110f"/>
<rect x="508.20" y="70.10" width="2.30" height="12.65" fill="#2e0e10"/>
<rect x="508.20" y="82.05" width="2.30" height="12.65" fill="#921820"/>
<rect x="508.20" y="94.00" width="2.30" height="12.65" fill="#a61a23"/>
<rect x="508.20" y="105.95" width="2.30" height="12.65" fill="#bd1d27"/>
<rect x="508.20" y="117.90" width="2.30" height="12.65" fill="#571316"/>
<rect x="508.20" y="129.85" width="2.30" height="12.65" fill="#2d0e10"/>
<rect x="509.80" y="22.30" width="2.30" height="12.65" fill="#360f11"/>
<rect x="509.80" y="34.25" width="2.30" height="12.65" fill="#143620"/>
<rect x="509.80" y="46.20" width="2.30" height="12.65" fill="#144c2a"/>
<rect x="509.80" y="58.15" width="2.30" height="12.65" fill="#144627"/>
<rect x="509.80" y="70.10" width="2.30" height="12.65" fill="#14341f"/>
<rect x="509.80" y="82.05" width="2.30" height="12.65" fill="#de202c"/>
<rect x="509.80" y="94.00" width="2.30" height="12.65" fill="#b61c26"/>
<rect x="509.80" y="105.95" width="2.30" height="12.65" fill="#511215"/>
<rect x="509.80" y="117.90" width="2.30" height="12.65" fill="#143620"/>
<rect x="509.80" y="129.85" width="2.30" height="12.65" fill="#144a29"/>
<rect x="511.40" y="22.30" width="2.30" height="12.65" fill="#9a1921"/>
<rect x="511.40" y="34.25" width="2.30" height="12.65" fill="#d11f2a"/>
<rect x="511.40" y="46.20" width="2.30" height="12.65" fill="#7f161d"/>
<rect x="511.40" y="58.15" width="2.30" height="12.65" fill="#161510"/>
<rect x="511.40" y="70.10" width="2.30" height="12.65" fill="#134f2c"/>
<rect x="511.40" y="82.05" width="2.30" height="12.65" fill="#83171e"/>
<rect x="511.40" y="94.00" width="2.30" height="12.65" fill="#152015"/>
<rect x="511.40" y="105.95" width="2.30" height="12.65" fill="#360f11"/>
<rect x="511.40" y="117.90" width="2.30" height="12.65" fill="#15321e"/>
<rect x="511.40" y="129.85" width="2.30" height="12.65" fill="#681419"/>
<rect x="513.00" y="22.30" width="2.30" height="12.65" fill="#16110e"/>
<rect x="513.00" y="34.25" width="2.30" height="12.65" fill="#71151b"/>
<rect x="513.00" y="46.20" width="2.30" height="12.65" fill="#461114"/>
<rect x="513.00" y="58.15" width="2.30" height="12.65" fill="#136737"/>
<rect x="513.00" y="70.10" width="2.30" height="12.65" fill="#12763e"/>
<rect x="513.00" y="82.05" width="2.30" height="12.65" fill="#152015"/>
<rect x="513.00" y="94.00" width="2.30" height="12.65" fill="#152f1d"/>
<rect x="513.00" y="105.95" width="2.30" height="12.65" fill="#126c39"/>
<rect x="513.00" y="117.90" width="2.30" height="12.65" fill="#144125"/>
<rect x="513.00" y="129.85" width="2.30" height="12.65" fill="#152417"/>
<rect x="514.60" y="22.30" width="2.30" height="12.65" fill="#671419"/>
<rect x="514.60" y="34.25" width="2.30" height="12.65" fill="#6d151a"/>
<rect x="514.60" y="46.20" width="2.30" height="12.65" fill="#360f11"/>
<rect x="514.60" y="58.15" width="2.30" height="12.65" fill="#491114"/>
<rect x="514.60" y="70.10" width="2.30" height="12.65" fill="#391012"/>
<rect x="514.60" y="82.05" width="2.30" height="12.65" fill="#136033"/>
<rect x="514.60" y="94.00" width="2.30" height="12.65" fill="#151d14"/>
<rect x="514.60" y="105.95" width="2.30" height="12.65" fill="#14351f"/>
<rect x="514.60" y="117.90" width="2.30" height="12.65" fill="#144c2a"/>
<rect x="514.60" y="129.85" width="2.30" height="12.65" fill="#481114"/>
<rect x="516.20" y="22.30" width="2.30" height="12.65" fill="#310f10"/>
<rect x="516.20" y="34.25" width="2.30" height="12.65" fill="#441113"/>
<rect x="516.20" y="46.20" width="2.30" height="12.65" fill="#180c0c"/>
<rect x="516.20" y="58.15" width="2.30" height="12.65" fill="#143620"/>
<rect x="516.20" y="70.10" width="2.30" height="12.65" fill="#160c0c"/>
<rect x="516.20" y="82.05" width="2.30" height="12.65" fill="#3a1012"/>
<rect x="516.20" y="94.00" width="2.30" height="12.65" fill="#661419"/>
<rect x="516.20" y="105.95" width="2.30" height="12.65" fill="#143f24"/>
<rect x="516.20" y="117.90" width="2.30" height="12.65" fill="#135c32"/>
<rect x="516.20" y="129.85" width="2.30" height="12.65" fill="#340f11"/>
<rect x="517.80" y="22.30" width="2.30" height="12.65" fill="#d51f2b"/>
<rect x="517.80" y="34.25" width="2.30" height="12.65" fill="#a51a23"/>
<rect x="517.80" y="46.20" width="2.30" height="12.65" fill="#3f1013"/>
<rect x="517.80" y="58.15" width="2.30" height="12.65" fill="#152417"/>
<rect x="517.80" y="70.10" width="2.30" height="12.65" fill="#1a0c0d"/>
<rect x="517.80" y="82.05" width="2.30" height="12.65" fill="#5b1317"/>
<rect x="517.80" y="94.00" width="2.30" height="12.65" fill="#b01b25"/>
<rect x="517.80" y="105.95" width="2.30" height="12.65" fill="#280e0f"/>
<rect x="517.80" y="117.90" width="2.30" height="12.65" fill="#300f10"/>
<rect x="517.80" y="129.85" width="2.30" height="12.65" fill="#9c1921"/>
<rect x="519.40" y="22.30" width="2.30" height="12.65" fill="#4c1115"/>
<rect x="519.40" y="34.25" width="2.30" height="12.65" fill="#921820"/>
<rect x="519.40" y="46.20" width="2.30" height="12.65" fill="#9e1a22"/>
<rect x="519.40" y="58.15" width="2.30" height="12.65" fill="#1f0d0d"/>
<rect x="519.40" y="70.10" width="2.30" height="12.65" fill="#151e14"/>
<rect x="519.40" y="82.05" width="2.30" height="12.65" fill="#16110e"/>
<rect x="519.40" y="94.00" width="2.30" height="12.65" fill="#170c0c"/>
<rect x="519.40" y="105.95" width="2.30" height="12.65" fill="#143821"/>
<rect x="519.40" y="117.90" width="2.30" height="12.65" fill="#144326"/>
<rect x="519.40" y="129.85" width="2.30" height="12.65" fill="#136234"/>
<rect x="521.00" y="22.30" width="2.30" height="12.65" fill="#350f11"/>
<rect x="521.00" y="34.25" width="2.30" height="12.65" fill="#79161c"/>
<rect x="521.00" y="46.20" width="2.30" height="12.65" fill="#691419"/>
<rect x="521.00" y="58.15" width="2.30" height="12.65" fill="#511216"/>
<rect x="521.00" y="70.10" width="2.30" height="12.65" fill="#152819"/>
<rect x="521.00" y="82.05" width="2.30" height="12.65" fill="#370f11"/>
<rect x="521.00" y="94.00" width="2.30" height="12.65" fill="#561216"/>
<rect x="521.00" y="105.95" width="2.30" height="12.65" fill="#143a22"/>
<rect x="521.00" y="117.90" width="2.30" height="12.65" fill="#143921"/>
<rect x="521.00" y="129.85" width="2.30" height="12.65" fill="#4f1215"/>
<rect x="522.60" y="22.30" width="2.30" height="12.65" fill="#631418"/>
<rect x="522.60" y="34.25" width="2.30" height="12.65" fill="#2d0e10"/>
<rect x="522.60" y="46.20" width="2.30" height="12.65" fill="#180c0c"/>
<rect x="522.60" y="58.15" width="2.30" height="12.65" fill="#6a1419"/>
<rect x="522.60" y="70.10" width="2.30" height="12.65" fill="#2d0e10"/>
<rect x="522.60" y="82.05" width="2.30" height="12.65" fill="#2f0e10"/>
<rect x="522.60" y="94.00" width="2.30" height="12.65" fill="#de202c"/>
<rect x="522.60" y="105.95" width="2.30" height="12.65" fill="#152c1b"/>
<rect x="522.60" y="117.90" width="2.30" height="12.65" fill="#2b0e0f"/>
<rect x="522.60" y="129.85" width="2.30" height="12.65" fill="#144125"/>
<rect x="524.20" y="22.30" width="2.30" height="12.65" fill="#152217"/>
<rect x="524.20" y="34.25" width="2.30" height="12.65" fill="#16110f"/>
<rect x="524.20" y="46.20" width="2.30" height="12.65" fill="#135b31"/>
<rect x="524.20" y="58.15" width="2.30" height="12.65" fill="#431013"/>
<rect x="524.20" y="70.10" width="2.30" height="12.65" fill="#151e15"/>
<rect x="524.20" y="82.05" width="2.30" height="12.65" fill="#77161c"/>
<rect x="524.20" y="94.00" width="2.30" height="12.65" fill="#a61a23"/>
<rect x="524.20" y="105.95" width="2.30" height="12.65" fill="#15331e"/>
<rect x="524.20" y="117.90" width="2.30" height="12.65" fill="#8c181f"/>
<rect x="524.20" y="129.85" width="2.30" height="12.65" fill="#591317"/>
<rect x="525.80" y="22.30" width="2.30" height="12.65" fill="#15321e"/>
<rect x="525.80" y="34.25" width="2.30" height="12.65" fill="#611318"/>
<rect x="525.80" y="46.20" width="2.30" height="12.65" fill="#451114"/>
<rect x="525.80" y="58.15" width="2.30" height="12.65" fill="#143821"/>
<rect x="525.80" y="70.10" width="2.30" height="12.65" fill="#431013"/>
<rect x="525.80" y="82.05" width="2.30" height="12.65" fill="#15311d"/>
<rect x="525.80" y="94.00" width="2.30" height="12.65" fill="#144d2b"/>
<rect x="525.80" y="105.95" width="2.30" height="12.65" fill="#152c1b"/>
<rect x="525.80" y="117.90" width="2.30" height="12.65" fill="#144527"/>
<rect x="525.80" y="129.85" width="2.30" height="12.65" fill="#551216"/>
<rect x="527.40" y="22.30" width="2.30" height="12.65" fill="#461114"/>
<rect x="527.40" y="34.25" width="2.30" height="12.65" fill="#73151b"/>
<rect x="527.40" y="46.20" width="2.30" height="12.65" fill="#3b1012"/>
<rect x="527.40" y="58.15" width="2.30" height="12.65" fill="#4b1114"/>
<rect x="527.40" y="70.10" width="2.30" height="12.65" fill="#340f11"/>
<rect x="527.40" y="82.05" width="2.30" height="12.65" fill="#9d1a22"/>
<rect x="527.40" y="94.00" width="2.30" height="12.65" fill="#370f11"/>
<rect x="527.40" y="105.95" width="2.30" height="12.65" fill="#16110e"/>
<rect x="527.40" y="117.90" width="2.30" height="12.65" fill="#ba1c26"/>
<rect x="527.40" y="129.85" width="2.30" height="12.65" fill="#4d1215"/>
<rect x="529.00" y="22.30" width="2.30" height="12.65" fill="#1f0d0d"/>
<rect x="529.00" y="34.25" width="2.30" height="12.65" fill="#451114"/>
<rect x="529.00" y="46.20" width="2.30" height="12.65" fill="#1c0d0d"/>
<rect x="529.00" y="58.15" width="2.30" height="12.65" fill="#151d14"/>
<rect x="529.00" y="70.10" width="2.30" height="12.65" fill="#310f10"/>
<rect x="529.00" y="82.05" width="2.30" height="12.65" fill="#161711"/>
<rect x="529.00" y="94.00" width="2.30" height="12.65" fill="#16120f"/>
<rect x="529.00" y="105.95" width="2.30" height="12.65" fill="#143e24"/>
<rect x="529.00" y="117.90" width="2.30" height="12.65" fill="#135f33"/>
<rect x="529.00" y="129.85" width="2.30" height="12.65" fill="#551216"/>
<rect x="530.60" y="22.30" width="2.30" height="12.65" fill="#152015"/>
<rect x="530.60" y="34.25" width="2.30" height="12.65" fill="#290e0f"/>
<rect x="530.60" y="46.20" width="2.30" height="12.65" fill="#471114"/>
<rect x="530.60" y="58.15" width="2.30" height="12.65" fill="#151f15"/>
<rect x="530.60" y="70.10" width="2.30" height="12.65" fill="#160c0c"/>
<rect x="530.60" y="82.05" width="2.30" height="12.65" fill="#136134"/>
<rect x="530.60" y="94.00" width="2.30" height="12.65" fill="#152116"/>
<rect x="530.60" y="105.95" width="2.30" height="12.65" fill="#135a31"/>
<rect x="530.60" y="117.90" width="2.30" height="12.65" fill="#421013"/>
<rect x="530.60" y="129.85" width="2.30" height="12.65" fill="#200d0e"/>
<rect x="532.20" y="22.30" width="2.30" height="12.65" fill="#571216"/>
<rect x="532.20" y="34.25" width="2.30" height="12.65" fill="#de202c"/>
<rect x="532.20" y="46.20" width="2.30" height="12.65" fill="#76161b"/>
<rect x="532.20" y="58.15" width="2.30" height="12.65" fill="#8a181f"/>
<rect x="532.20" y="70.10" width="2.30" height="12.65" fill="#651419"/>
<rect x="532.20" y="82.05" width="2.30" height="12.65" fill="#7a161c"/>
<rect x="532.20" y="94.00" width="2.30" height="12.65" fill="#81171d"/>
<rect x="532.20" y="105.95" width="2.30" height="12.65" fill="#152417"/>
<rect x="532.20" y="117.90" width="2.30" height="12.65" fill="#a71a23"/>
<rect x="532.20" y="129.85" width="2.30" height="12.65" fill="#501215"/>
<rect x="533.80" y="22.30" width="2.30" height="12.65" fill="#152d1c"/>
<rect x="533.80" y="34.25" width="2.30" height="12.65" fill="#151f15"/>
<rect x="533.80" y="46.20" width="2.30" height="12.65" fill="#152216"/>
<rect x="533.80" y="58.15" width="2.30" height="12.65" fill="#143520"/>
<rect x="533.80" y="70.10" width="2.30" height="12.65" fill="#152217"/>
<rect x="533.80" y="82.05" width="2.30" height="12.65" fill="#151f15"/>
<rect x="533.80" y="94.00" width="2.30" height="12.65" fill="#72151b"/>
<rect x="533.80" y="105.95" width="2.30" height="12.65" fill="#151b13"/>
<rect x="533.80" y="117.90" width="2.30" height="12.65" fill="#9f1a22"/>
<rect x="533.80" y="129.85" width="2.30" height="12.65" fill="#c11d27"/>
<rect x="535.40" y="22.30" width="2.30" height="12.65" fill="#161711"/>
<rect x="535.40" y="34.25" width="2.30" height="12.65" fill="#143c23"/>
<rect x="535.40" y="46.20" width="2.30" height="12.65" fill="#15321e"/>
<rect x="535.40" y="58.15" width="2.30" height="12.65" fill="#1d0d0d"/>
<rect x="535.40" y="70.10" width="2.30" height="12.65" fill="#152618"/>
<rect x="535.40" y="82.05" width="2.30" height="12.65" fill="#4e1215"/>
<rect x="535.40" y="94.00" width="2.30" height="12.65" fill="#9b1921"/>
<rect x="535.40" y="105.95" width="2.30" height="12.65" fill="#152f1c"/>
<rect x="535.40" y="117.90" width="2.30" height="12.65" fill="#491114"/>
<rect x="535.40" y="129.85" width="2.30" height="12.65" fill="#16130f"/>
<rect x="537.00" y="22.30" width="2.30" height="12.65" fill="#161611"/>
<rect x="537.00" y="34.25" width="2.30" height="12.65" fill="#143720"/>
<rect x="537.00" y="46.20" width="2.30" height="12.65" fill="#631418"/>
<rect x="537.00" y="58.15" width="2.30" height="12.65" fill="#b41c25"/>
<rect x="537.00" y="70.10" width="2.30" height="12.65" fill="#151c14"/>
<rect x="537.00" y="82.05" width="2.30" height="12.65" fill="#135f33"/>
<rect x="537.00" y="94.00" width="2.30" height="12.65" fill="#300f10"/>
<rect x="537.00" y="105.95" width="2.30" height="12.65" fill="#13542e"/>
<rect x="537.00" y="117.90" width="2.30" height="12.65" fill="#691419"/>
<rect x="537.00" y="129.85" width="2.30" height="12.65" fill="#151c14"/>
<rect x="538.60" y="22.30" width="2.30" height="12.65" fill="#1a0c0d"/>
<rect x="538.60" y="34.25" width="2.30" height="12.65" fill="#151e15"/>
<rect x="538.60" y="46.20" width="2.30" height="12.65" fill="#144024"/>
<rect x="538.60" y="58.15" width="2.30" height="12.65" fill="#220d0e"/>
<rect x="538.60" y="70.10" width="2.30" height="12.65" fill="#152f1d"/>
<rect x="538.60" y="82.05" width="2.30" height="12.65" fill="#5b1317"/>
<rect x="538.60" y="94.00" width="2.30" height="12.65" fill="#151f15"/>
<rect x="538.60" y="105.95" width="2.30" height="12.65" fill="#152719"/>
<rect x="538.60" y="117.90" width="2.30" height="12.65" fill="#b71c26"/>
<rect x="538.60" y="129.85" width="2.30" height="12.65" fill="#8b181f"/>
<rect x="540.20" y="22.30" width="2.30" height="12.65" fill="#631418"/>
<rect x="540.20" y="34.25" width="2.30" height="12.65" fill="#541216"/>
<rect x="540.20" y="46.20" width="2.30" height="12.65" fill="#de202c"/>
<rect x="540.20" y="58.15" width="2.30" height="12.65" fill="#de202c"/>
<rect x="540.20" y="70.10" width="2.30" height="12.65" fill="#cd1e29"/>
<rect x="540.20" y="82.05" width="2.30" height="12.65" fill="#12763e"/>
<rect x="540.20" y="94.00" width="2.30" height="12.65" fill="#126c39"/>
<rect x="540.20" y="105.95" width="2.30" height="12.65" fill="#143c23"/>
<rect x="540.20" y="117.90" width="2.30" height="12.65" fill="#12763e"/>
<rect x="540.20" y="129.85" width="2.30" height="12.65" fill="#5d1317"/>
<rect x="541.80" y="22.30" width="2.30" height="12.65" fill="#de202c"/>
<rect x="541.80" y="34.25" width="2.30" height="12.65" fill="#6f151a"/>
<rect x="541.80" y="46.20" width="2.30" height="12.65" fill="#de202c"/>
<rect x="541.80" y="58.15" width="2.30" height="12.65" fill="#de202c"/>
<rect x="541.80" y="70.10" width="2.30" height="12.65" fill="#de202c"/>
<rect x="541.80" y="82.05" width="2.30" height="12.65" fill="#135a31"/>
<rect x="541.80" y="94.00" width="2.30" height="12.65" fill="#13542e"/>
<rect x="541.80" y="105.95" width="2.30" height="12.65" fill="#14351f"/>
<rect x="541.80" y="117.90" width="2.30" height="12.65" fill="#13522d"/>
<rect x="541.80" y="129.85" width="2.30" height="12.65" fill="#151c14"/>
<rect x="543.40" y="22.30" width="2.30" height="12.65" fill="#8d181f"/>
<rect x="543.40" y="34.25" width="2.30" height="12.65" fill="#561216"/>
<rect x="543.40" y="46.20" width="2.30" height="12.65" fill="#7f161d"/>
<rect x="543.40" y="58.15" width="2.30" height="12.65" fill="#89171e"/>
<rect x="543.40" y="70.10" width="2.30" height="12.65" fill="#af1b25"/>
<rect x="543.40" y="82.05" width="2.30" height="12.65" fill="#143620"/>
<rect x="543.40" y="94.00" width="2.30" height="12.65" fill="#152618"/>
<rect x="543.40" y="105.95" width="2.30" height="12.65" fill="#152b1b"/>
<rect x="543.40" y="117.90" width="2.30" height="12.65" fill="#136837"/>
<rect x="543.40" y="129.85" width="2.30" height="12.65" fill="#330f11"/>
<rect x="545.00" y="22.30" width="2.30" height="12.65" fill="#431013"/>
<rect x="545.00" y="34.25" width="2.30" height="12.65" fill="#5c1317"/>
<rect x="545.00" y="46.20" width="2.30" height="12.65" fill="#d51f2b"/>
<rect x="545.00" y="58.15" width="2.30" height="12.65" fill="#921820"/>
<rect x="545.00" y="70.10" width="2.30" height="12.65" fill="#be1d27"/>
<rect x="545.00" y="82.05" width="2.30" height="12.65" fill="#126b39"/>
<rect x="545.00" y="94.00" width="2.30" height="12.65" fill="#13542e"/>
<rect x="545.00" y="105.95" width="2.30" height="12.65" fill="#151d14"/>
<rect x="545.00" y="117.90" width="2.30" height="12.65" fill="#12703b"/>
<rect x="545.00" y="129.85" width="2.30" height="12.65" fill="#77161c"/>
<rect x="546.60" y="22.30" width="2.30" height="12.65" fill="#a61a23"/>
<rect x="546.60" y="34.25" width="2.30" height="12.65" fill="#6a1419"/>
<rect x="546.60" y="46.20" width="2.30" height="12.65" fill="#de202c"/>
<rect x="546.60" y="58.15" width="2.30" height="12.65" fill="#da202b"/>
<rect x="546.60" y="70.10" width="2.30" height="12.65" fill="#de202c"/>
<rect x="546.60" y="82.05" width="2.30" height="12.65" fill="#12763e"/>
<rect x="546.60" y="94.00" width="2.30" height="12.65" fill="#12763e"/>
<rect x="546.60" y="105.95" width="2.30" height="12.65" fill="#143921"/>
<rect x="546.60" y="117.90" width="2.30" height="12.65" fill="#12763e"/>
<rect x="546.60" y="129.85" width="2.30" height="12.65" fill="#160d0c"/>
<rect x="548.20" y="22.30" width="2.30" height="12.65" fill="#152518"/>
<rect x="548.20" y="34.25" width="2.30" height="12.65" fill="#13552e"/>
<rect x="548.20" y="46.20" width="2.30" height="12.65" fill="#c61e28"/>
<rect x="548.20" y="58.15" width="2.30" height="12.65" fill="#931920"/>
<rect x="548.20" y="70.10" width="2.30" height="12.65" fill="#621418"/>
<rect x="548.20" y="82.05" width="2.30" height="12.65" fill="#13552f"/>
<rect x="548.20" y="94.00" width="2.30" height="12.65" fill="#12763e"/>
<rect x="548.20" y="105.95" width="2.30" height="12.65" fill="#152819"/>
<rect x="548.20" y="117.90" width="2.30" height="12.65" fill="#12763e"/>
<rect x="548.20" y="129.85" width="2.30" height="12.65" fill="#134f2c"/>
<rect x="549.80" y="22.30" width="2.30" height="12.65" fill="#de202c"/>
<rect x="549.80" y="34.25" width="2.30" height="12.65" fill="#de202c"/>
<rect x="549.80" y="46.20" width="2.30" height="12.65" fill="#de202c"/>
<rect x="549.80" y="58.15" width="2.30" height="12.65" fill="#de202c"/>
<rect x="549.80" y="70.10" width="2.30" height="12.65" fill="#de202c"/>
<rect x="549.80" y="82.05" width="2.30" height="12.65" fill="#12723c"/>
<rect x="549.80" y="94.00" width="2.30" height="12.65" fill="#12763e"/>
<rect x="549.80" y="105.95" width="2.30" height="12.65" fill="#126d3a"/>
<rect x="549.80" y="117.90" width="2.30" height="12.65" fill="#12763e"/>
<rect x="549.80" y="129.85" width="2.30" height="12.65" fill="#2e0e10"/>
<rect x="551.40" y="22.30" width="2.30" height="12.65" fill="#b71c26"/>
<rect x="551.40" y="34.25" width="2.30" height="12.65" fill="#ce1e29"/>
<rect x="551.40" y="46.20" width="2.30" height="12.65" fill="#de202c"/>
<rect x="551.40" y="58.15" width="2.30" height="12.65" fill="#d71f2b"/>
<rect x="551.40" y="70.10" width="2.30" height="12.65" fill="#de202c"/>
<rect x="551.40" y="82.05" width="2.30" height="12.65" fill="#134f2c"/>
<rect x="551.40" y="94.00" width="2.30" height="12.65" fill="#13522d"/>
<rect x="551.40" y="105.95" width="2.30" height="12.65" fill="#13552e"/>
<rect x="551.40" y="117.90" width="2.30" height="12.65" fill="#136335"/>
<rect x="551.40" y="129.85" width="2.30" height="12.65" fill="#12763e"/>
<rect x="553.00" y="22.30" width="2.30" height="12.65" fill="#de202c"/>
<rect x="553.00" y="34.25" width="2.30" height="12.65" fill="#de202c"/>
<rect x="553.00" y="46.20" width="2.30" height="12.65" fill="#de202c"/>
<rect x="553.00" y="58.15" width="2.30" height="12.65" fill="#de202c"/>
<rect x="553.00" y="70.10" width="2.30" height="12.65" fill="#de202c"/>
<rect x="553.00" y="82.05" width="2.30" height="12.65" fill="#136134"/>
<rect x="553.00" y="94.00" width="2.30" height="12.65" fill="#144d2b"/>
<rect x="553.00" y="105.95" width="2.30" height="12.65" fill="#135c32"/>
<rect x="553.00" y="117.90" width="2.30" height="12.65" fill="#144e2b"/>
<rect x="553.00" y="129.85" width="2.30" height="12.65" fill="#135f33"/>
<rect x="554.60" y="22.30" width="2.30" height="12.65" fill="#de202c"/>
<rect x="554.60" y="34.25" width="2.30" height="12.65" fill="#681419"/>
<rect x="554.60" y="46.20" width="2.30" height="12.65" fill="#86171e"/>
<rect x="554.60" y="58.15" width="2.30" height="12.65" fill="#9f1a22"/>
<rect x="554.60" y="70.10" width="2.30" height="12.65" fill="#a21a22"/>
<rect x="554.60" y="82.05" width="2.30" height="12.65" fill="#12723c"/>
<rect x="554.60" y="94.00" width="2.30" height="12.65" fill="#143921"/>
<rect x="554.60" y="105.95" width="2.30" height="12.65" fill="#12763e"/>
<rect x="554.60" y="117.90" width="2.30" height="12.65" fill="#143e24"/>
<rect x="554.60" y="129.85" width="2.30" height="12.65" fill="#143e24"/>
<rect x="556.20" y="22.30" width="2.30" height="12.65" fill="#d01f2a"/>
<rect x="556.20" y="34.25" width="2.30" height="12.65" fill="#d41f2a"/>
<rect x="556.20" y="46.20" width="2.30" height="12.65" fill="#6a1419"/>
<rect x="556.20" y="58.15" width="2.30" height="12.65" fill="#921820"/>
<rect x="556.20" y="70.10" width="2.30" height="12.65" fill="#de202c"/>
<rect x="556.20" y="82.05" width="2.30" height="12.65" fill="#12763e"/>
<rect x="556.20" y="94.00" width="2.30" height="12.65" fill="#12763e"/>
<rect x="556.20" y="105.95" width="2.30" height="12.65" fill="#12763e"/>
<rect x="556.20" y="117.90" width="2.30" height="12.65" fill="#12763e"/>
<rect x="556.20" y="129.85" width="2.30" height="12.65" fill="#12763e"/>
<rect x="557.80" y="22.30" width="2.30" height="12.65" fill="#de202c"/>
<rect x="557.80" y="34.25" width="2.30" height="12.65" fill="#de202c"/>
<rect x="557.80" y="46.20" width="2.30" height="12.65" fill="#de202c"/>
<rect x="557.80" y="58.15" width="2.30" height="12.65" fill="#de202c"/>
<rect x="557.80" y="70.10" width="2.30" height="12.65" fill="#de202c"/>
<rect x="557.80" y="82.05" width="2.30" height="12.65" fill="#126e3a"/>
<rect x="557.80" y="94.00" width="2.30" height="12.65" fill="#12763e"/>
<rect x="557.80" y="105.95" width="2.30" height="12.65" fill="#12763e"/>
<rect x="557.80" y="117.90" width="2.30" height="12.65" fill="#12763e"/>
<rect x="557.80" y="129.85" width="2.30" height="12.65" fill="#12763e"/>
<rect x="559.40" y="22.30" width="2.30" height="12.65" fill="#8a181f"/>
<rect x="559.40" y="34.25" width="2.30" height="12.65" fill="#c51d28"/>
<rect x="559.40" y="46.20" width="2.30" height="12.65" fill="#c41d28"/>
<rect x="559.40" y="58.15" width="2.30" height="12.65" fill="#4f1215"/>
<rect x="559.40" y="70.10" width="2.30" height="12.65" fill="#9d1922"/>
<rect x="559.40" y="82.05" width="2.30" height="12.65" fill="#136536"/>
<rect x="559.40" y="94.00" width="2.30" height="12.65" fill="#12763e"/>
<rect x="559.40" y="105.95" width="2.30" height="12.65" fill="#12763e"/>
<rect x="559.40" y="117.90" width="2.30" height="12.65" fill="#136536"/>
<rect x="559.40" y="129.85" width="2.30" height="12.65" fill="#12763e"/>
<rect x="561.00" y="22.30" width="2.30" height="12.65" fill="#d11f2a"/>
<rect x="561.00" y="34.25" width="2.30" height="12.65" fill="#af1b24"/>
<rect x="561.00" y="46.20" width="2.30" height="12.65" fill="#d31f2a"/>
<rect x="561.00" y="58.15" width="2.30" height="12.65" fill="#dd202c"/>
<rect x="561.00" y="70.10" width="2.30" height="12.65" fill="#de202c"/>
<rect x="561.00" y="82.05" width="2.30" height="12.65" fill="#12763e"/>
<rect x="561.00" y="94.00" width="2.30" height="12.65" fill="#12763e"/>
<rect x="561.00" y="105.95" width="2.30" height="12.65" fill="#12763e"/>
<rect x="561.00" y="117.90" width="2.30" height="12.65" fill="#12763e"/>
<rect x="561.00" y="129.85" width="2.30" height="12.65" fill="#12763e"/>
<rect x="562.60" y="22.30" width="2.30" height="12.65" fill="#a91b24"/>
<rect x="562.60" y="34.25" width="2.30" height="12.65" fill="#a91b24"/>
<rect x="562.60" y="46.20" width="2.30" height="12.65" fill="#cc1e29"/>
<rect x="562.60" y="58.15" width="2.30" height="12.65" fill="#de202c"/>
<rect x="562.60" y="70.10" width="2.30" height="12.65" fill="#ac1b24"/>
<rect x="562.60" y="82.05" width="2.30" height="12.65" fill="#126d3a"/>
<rect x="562.60" y="94.00" width="2.30" height="12.65" fill="#12733d"/>
<rect x="562.60" y="105.95" width="2.30" height="12.65" fill="#12763e"/>
<rect x="562.60" y="117.90" width="2.30" height="12.65" fill="#126b39"/>
<rect x="562.60" y="129.85" width="2.30" height="12.65" fill="#12763e"/>
<rect x="564.20" y="22.30" width="2.30" height="12.65" fill="#551216"/>
<rect x="564.20" y="34.25" width="2.30" height="12.65" fill="#de202c"/>
<rect x="564.20" y="46.20" width="2.30" height="12.65" fill="#de202c"/>
<rect x="564.20" y="58.15" width="2.30" height="12.65" fill="#de202c"/>
<rect x="564.20" y="70.10" width="2.30" height="12.65" fill="#c81e28"/>
<rect x="564.20" y="82.05" width="2.30" height="12.65" fill="#126b39"/>
<rect x="564.20" y="94.00" width="2.30" height="12.65" fill="#136536"/>
<rect x="564.20" y="105.95" width="2.30" height="12.65" fill="#12763e"/>
<rect x="564.20" y="117.90" width="2.30" height="12.65" fill="#13502c"/>
<rect x="564.20" y="129.85" width="2.30" height="12.65" fill="#136335"/>
<rect x="565.80" y="22.30" width="2.30" height="12.65" fill="#a41a23"/>
<rect x="565.80" y="34.25" width="2.30" height="12.65" fill="#de202c"/>
<rect x="565.80" y="46.20" width="2.30" height="12.65" fill="#de202c"/>
<rect x="565.80" y="58.15" width="2.30" height="12.65" fill="#431113"/>
<rect x="565.80" y="70.10" width="2.30" height="12.65" fill="#621418"/>
<rect x="565.80" y="82.05" width="2.30" height="12.65" fill="#12763e"/>
<rect x="565.80" y="94.00" width="2.30" height="12.65" fill="#12763e"/>
<rect x="565.80" y="105.95" width="2.30" height="12.65" fill="#12763e"/>
<rect x="565.80" y="117.90" width="2.30" height="12.65" fill="#12763e"/>
<rect x="565.80" y="129.85" width="2.30" height="12.65" fill="#12763e"/>
<rect x="567.40" y="22.30" width="2.30" height="12.65" fill="#b91c26"/>
<rect x="567.40" y="34.25" width="2.30" height="12.65" fill="#de202c"/>
<rect x="567.40" y="46.20" width="2.30" height="12.65" fill="#d71f2b"/>
<rect x="567.40" y="58.15" width="2.30" height="12.65" fill="#de202c"/>
<rect x="567.40" y="70.10" width="2.30" height="12.65" fill="#de202c"/>
<rect x="567.40" y="82.05" width="2.30" height="12.65" fill="#126e3a"/>
<rect x="567.40" y="94.00" width="2.30" height="12.65" fill="#126b39"/>
<rect x="567.40" y="105.95" width="2.30" height="12.65" fill="#12703b"/>
<rect x="567.40" y="117.90" width="2.30" height="12.65" fill="#12763e"/>
<rect x="567.40" y="129.85" width="2.30" height="12.65" fill="#12763e"/>
<rect x="569.00" y="22.30" width="2.30" height="12.65" fill="#ad1b24"/>
<rect x="569.00" y="34.25" width="2.30" height="12.65" fill="#de202c"/>
<rect x="569.00" y="46.20" width="2.30" height="12.65" fill="#de202c"/>
<rect x="569.00" y="58.15" width="2.30" height="12.65" fill="#aa1b24"/>
<rect x="569.00" y="70.10" width="2.30" height="12.65" fill="#de202c"/>
<rect x="569.00" y="82.05" width="2.30" height="12.65" fill="#12763e"/>
<rect x="569.00" y="94.00" width="2.30" height="12.65" fill="#12763e"/>
<rect x="569.00" y="105.95" width="2.30" height="12.65" fill="#12763e"/>
<rect x="569.00" y="117.90" width="2.30" height="12.65" fill="#12763e"/>
<rect x="569.00" y="129.85" width="2.30" height="12.65" fill="#12763e"/>
<rect x="570.60" y="22.30" width="2.30" height="12.65" fill="#c81e29"/>
<rect x="570.60" y="34.25" width="2.30" height="12.65" fill="#76161b"/>
<rect x="570.60" y="46.20" width="2.30" height="12.65" fill="#c41d28"/>
<rect x="570.60" y="58.15" width="2.30" height="12.65" fill="#de202c"/>
<rect x="570.60" y="70.10" width="2.30" height="12.65" fill="#b71c26"/>
<rect x="570.60" y="82.05" width="2.30" height="12.65" fill="#12763e"/>
<rect x="570.60" y="94.00" width="2.30" height="12.65" fill="#12763e"/>
<rect x="570.60" y="105.95" width="2.30" height="12.65" fill="#135e33"/>
<rect x="570.60" y="117.90" width="2.30" height="12.65" fill="#12763e"/>
<rect x="570.60" y="129.85" width="2.30" height="12.65" fill="#136938"/>
<rect x="572.20" y="22.30" width="2.30" height="12.65" fill="#de202c"/>
<rect x="572.20" y="34.25" width="2.30" height="12.65" fill="#ba1c26"/>
<rect x="572.20" y="46.20" width="2.30" height="12.65" fill="#de202c"/>
<rect x="572.20" y="58.15" width="2.30" height="12.65" fill="#de202c"/>
<rect x="572.20" y="70.10" width="2.30" height="12.65" fill="#de202c"/>
<rect x="572.20" y="82.05" width="2.30" height="12.65" fill="#12763e"/>
<rect x="572.20" y="94.00" width="2.30" height="12.65" fill="#12763e"/>
<rect x="572.20" y="105.95" width="2.30" height="12.65" fill="#12763e"/>
<rect x="572.20" y="117.90" width="2.30" height="12.65" fill="#12763e"/>
<rect x="572.20" y="129.85" width="2.30" height="12.65" fill="#12763e"/>
<rect x="573.80" y="22.30" width="2.30" height="12.65" fill="#de202c"/>
<rect x="573.80" y="34.25" width="2.30" height="12.65" fill="#621418"/>
<rect x="573.80" y="46.20" width="2.30" height="12.65" fill="#9c1921"/>
<rect x="573.80" y="58.15" width="2.30" height="12.65" fill="#d71f2b"/>
<rect x="573.80" y="70.10" width="2.30" height="12.65" fill="#4b1114"/>
<rect x="573.80" y="82.05" width="2.30" height="12.65" fill="#126e3a"/>
<rect x="573.80" y="94.00" width="2.30" height="12.65" fill="#13512c"/>
<rect x="573.80" y="105.95" width="2.30" height="12.65" fill="#152d1b"/>
<rect x="573.80" y="117.90" width="2.30" height="12.65" fill="#12723c"/>
<rect x="573.80" y="129.85" width="2.30" height="12.65" fill="#143921"/>
<rect x="575.40" y="22.30" width="2.30" height="12.65" fill="#de202c"/>
<rect x="575.40" y="34.25" width="2.30" height="12.65" fill="#de202c"/>
<rect x="575.40" y="46.20" width="2.30" height="12.65" fill="#de202c"/>
<rect x="575.40" y="58.15" width="2.30" height="12.65" fill="#de202c"/>
<rect x="575.40" y="70.10" width="2.30" height="12.65" fill="#de202c"/>
<rect x="575.40" y="82.05" width="2.30" height="12.65" fill="#13542e"/>
<rect x="575.40" y="94.00" width="2.30" height="12.65" fill="#144b2a"/>
<rect x="575.40" y="105.95" width="2.30" height="12.65" fill="#151f15"/>
<rect x="575.40" y="117.90" width="2.30" height="12.65" fill="#15301d"/>
<rect x="575.40" y="129.85" width="2.30" height="12.65" fill="#144c2a"/>
<rect x="577.00" y="22.30" width="2.30" height="12.65" fill="#de202c"/>
<rect x="577.00" y="34.25" width="2.30" height="12.65" fill="#8f181f"/>
<rect x="577.00" y="46.20" width="2.30" height="12.65" fill="#d21f2a"/>
<rect x="577.00" y="58.15" width="2.30" height="12.65" fill="#ce1e29"/>
<rect x="577.00" y="70.10" width="2.30" height="12.65" fill="#dc202c"/>
<rect x="577.00" y="82.05" width="2.30" height="12.65" fill="#126d3a"/>
<rect x="577.00" y="94.00" width="2.30" height="12.65" fill="#12763e"/>
<rect x="577.00" y="105.95" width="2.30" height="12.65" fill="#12763e"/>
<rect x="577.00" y="117.90" width="2.30" height="12.65" fill="#144929"/>
<rect x="577.00" y="129.85" width="2.30" height="12.65" fill="#12763e"/>
<rect x="578.60" y="22.30" width="2.30" height="12.65" fill="#de202c"/>
<rect x="578.60" y="34.25" width="2.30" height="12.65" fill="#7a161c"/>
<rect x="578.60" y="46.20" width="2.30" height="12.65" fill="#8a181f"/>
<rect x="578.60" y="58.15" width="2.30" height="12.65" fill="#6c151a"/>
<rect x="578.60" y="70.10" width="2.30" height="12.65" fill="#84171e"/>
<rect x="578.60" y="82.05" width="2.30" height="12.65" fill="#12763e"/>
<rect x="578.60" y="94.00" width="2.30" height="12.65" fill="#12763e"/>
<rect x="578.60" y="105.95" width="2.30" height="12.65" fill="#126b39"/>
<rect x="578.60" y="117.90" width="2.30" height="12.65" fill="#12763e"/>
<rect x="578.60" y="129.85" width="2.30" height="12.65" fill="#12763e"/>
<rect x="580.20" y="22.30" width="2.30" height="12.65" fill="#ad1b24"/>
<rect x="580.20" y="34.25" width="2.30" height="12.65" fill="#ac1b24"/>
<rect x="580.20" y="46.20" width="2.30" height="12.65" fill="#9b1921"/>
<rect x="580.20" y="58.15" width="2.30" height="12.65" fill="#ad1b24"/>
<rect x="580.20" y="70.10" width="2.30" height="12.65" fill="#de202c"/>
<rect x="580.20" y="82.05" width="2.30" height="12.65" fill="#12763e"/>
<rect x="580.20" y="94.00" width="2.30" height="12.65" fill="#12763e"/>
<rect x="580.20" y="105.95" width="2.30" height="12.65" fill="#136737"/>
<rect x="580.20" y="117.90" width="2.30" height="12.65" fill="#12763e"/>
<rect x="580.20" y="129.85" width="2.30" height="12.65" fill="#12763e"/>
<rect x="581.80" y="22.30" width="2.30" height="12.65" fill="#82171d"/>
<rect x="581.80" y="34.25" width="2.30" height="12.65" fill="#de202c"/>
<rect x="581.80" y="46.20" width="2.30" height="12.65" fill="#de202c"/>
<rect x="581.80" y="58.15" width="2.30" height="12.65" fill="#de202c"/>
<rect x="581.80" y="70.10" width="2.30" height="12.65" fill="#ae1b24"/>
<rect x="581.80" y="82.05" width="2.30" height="12.65" fill="#12763e"/>
<rect x="581.80" y="94.00" width="2.30" height="12.65" fill="#12763e"/>
<rect x="581.80" y="105.95" width="2.30" height="12.65" fill="#12763e"/>
<rect x="581.80" y="117.90" width="2.30" height="12.65" fill="#12763e"/>
<rect x="581.80" y="129.85" width="2.30" height="12.65" fill="#12763e"/>
<rect x="583.40" y="22.30" width="2.30" height="12.65" fill="#de202c"/>
<rect x="583.40" y="34.25" width="2.30" height="12.65" fill="#de202c"/>
<rect x="583.40" y="46.20" width="2.30" height="12.65" fill="#de202c"/>
<rect x="583.40" y="58.15" width="2.30" height="12.65" fill="#b81c26"/>
<rect x="583.40" y="70.10" width="2.30" height="12.65" fill="#de202c"/>
<rect x="583.40" y="82.05" width="2.30" height="12.65" fill="#136636"/>
<rect x="583.40" y="94.00" width="2.30" height="12.65" fill="#12763e"/>
<rect x="583.40" y="105.95" width="2.30" height="12.65" fill="#12763e"/>
<rect x="583.40" y="117.90" width="2.30" height="12.65" fill="#12763e"/>
<rect x="583.40" y="129.85" width="2.30" height="12.65" fill="#12763e"/>
<rect x="585.00" y="22.30" width="2.30" height="12.65" fill="#de202c"/>
<rect x="585.00" y="34.25" width="2.30" height="12.65" fill="#de202c"/>
<rect x="585.00" y="46.20" width="2.30" height="12.65" fill="#de202c"/>
<rect x="585.00" y="58.15" width="2.30" height="12.65" fill="#9a1921"/>
<rect x="585.00" y="70.10" width="2.30" height="12.65" fill="#d51f2b"/>
<rect x="585.00" y="82.05" width="2.30" height="12.65" fill="#152317"/>
<rect x="585.00" y="94.00" width="2.30" height="12.65" fill="#143620"/>
<rect x="585.00" y="105.95" width="2.30" height="12.65" fill="#12743d"/>
<rect x="585.00" y="117.90" width="2.30" height="12.65" fill="#12763e"/>
<rect x="585.00" y="129.85" width="2.30" height="12.65" fill="#136234"/>
<rect x="586.60" y="22.30" width="2.30" height="12.65" fill="#d71f2b"/>
<rect x="586.60" y="34.25" width="2.30" height="12.65" fill="#de202c"/>
<rect x="586.60" y="46.20" width="2.30" height="12.65" fill="#de202c"/>
<rect x="586.60" y="58.15" width="2.30" height="12.65" fill="#de202c"/>
<rect x="586.60" y="70.10" width="2.30" height="12.65" fill="#de202c"/>
<rect x="586.60" y="82.05" width="2.30" height="12.65" fill="#12763e"/>
<rect x="586.60" y="94.00" width="2.30" height="12.65" fill="#12763e"/>
<rect x="586.60" y="105.95" width="2.30" height="12.65" fill="#12763e"/>
<rect x="586.60" y="117.90" width="2.30" height="12.65" fill="#12763e"/>
<rect x="586.60" y="129.85" width="2.30" height="12.65" fill="#136436"/>
<rect x="588.20" y="22.30" width="2.30" height="12.65" fill="#de202c"/>
<rect x="588.20" y="34.25" width="2.30" height="12.65" fill="#cd1e29"/>
<rect x="588.20" y="46.20" width="2.30" height="12.65" fill="#a11a22"/>
<rect x="588.20" y="58.15" width="2.30" height="12.65" fill="#d01f2a"/>
<rect x="588.20" y="70.10" width="2.30" height="12.65" fill="#c61e28"/>
<rect x="588.20" y="82.05" width="2.30" height="12.65" fill="#12763e"/>
<rect x="588.20" y="94.00" width="2.30" height="12.65" fill="#12763e"/>
<rect x="588.20" y="105.95" width="2.30" height="12.65" fill="#12763e"/>
<rect x="588.20" y="117.90" width="2.30" height="12.65" fill="#12763e"/>
<rect x="588.20" y="129.85" width="2.30" height="12.65" fill="#12763e"/>
<rect x="589.80" y="22.30" width="2.30" height="12.65" fill="#ac1b24"/>
<rect x="589.80" y="34.25" width="2.30" height="12.65" fill="#ab1b24"/>
<rect x="589.80" y="46.20" width="2.30" height="12.65" fill="#8c181f"/>
<rect x="589.80" y="58.15" width="2.30" height="12.65" fill="#9a1921"/>
<rect x="589.80" y="70.10" width="2.30" height="12.65" fill="#d21f2a"/>
<rect x="589.80" y="82.05" width="2.30" height="12.65" fill="#13562f"/>
<rect x="589.80" y="94.00" width="2.30" height="12.65" fill="#126d3a"/>
<rect x="589.80" y="105.95" width="2.30" height="12.65" fill="#12763e"/>
<rect x="589.80" y="117.90" width="2.30" height="12.65" fill="#135a31"/>
<rect x="589.80" y="129.85" width="2.30" height="12.65" fill="#135931"/>
<rect x="591.40" y="22.30" width="2.30" height="12.65" fill="#de202c"/>
<rect x="591.40" y="34.25" width="2.30" height="12.65" fill="#de202c"/>
<rect x="591.40" y="46.20" width="2.30" height="12.65" fill="#de202c"/>
<rect x="591.40" y="58.15" width="2.30" height="12.65" fill="#de202c"/>
<rect x="591.40" y="70.10" width="2.30" height="12.65" fill="#de202c"/>
<rect x="591.40" y="82.05" width="2.30" height="12.65" fill="#12763e"/>
<rect x="591.40" y="94.00" width="2.30" height="12.65" fill="#12763e"/>
<rect x="591.40" y="105.95" width="2.30" height="12.65" fill="#126b39"/>
<rect x="591.40" y="117.90" width="2.30" height="12.65" fill="#126d3a"/>
<rect x="591.40" y="129.85" width="2.30" height="12.65" fill="#136637"/>
<rect x="593.00" y="22.30" width="2.30" height="12.65" fill="#5f1318"/>
<rect x="593.00" y="34.25" width="2.30" height="12.65" fill="#a91b24"/>
<rect x="593.00" y="46.20" width="2.30" height="12.65" fill="#190c0d"/>
<rect x="593.00" y="58.15" width="2.30" height="12.65" fill="#87171e"/>
<rect x="593.00" y="70.10" width="2.30" height="12.65" fill="#611418"/>
<rect x="593.00" y="82.05" width="2.30" height="12.65" fill="#143f24"/>
<rect x="593.00" y="94.00" width="2.30" height="12.65" fill="#135d32"/>
<rect x="593.00" y="105.95" width="2.30" height="12.65" fill="#143e24"/>
<rect x="593.00" y="117.90" width="2.30" height="12.65" fill="#126b39"/>
<rect x="593.00" y="129.85" width="2.30" height="12.65" fill="#152d1c"/>
<rect x="594.60" y="22.30" width="2.30" height="12.65" fill="#b01b25"/>
<rect x="594.60" y="34.25" width="2.30" height="12.65" fill="#981921"/>
<rect x="594.60" y="46.20" width="2.30" height="12.65" fill="#de202c"/>
<rect x="594.60" y="58.15" width="2.30" height="12.65" fill="#b41c25"/>
<rect x="594.60" y="70.10" width="2.30" height="12.65" fill="#c51e28"/>
<rect x="594.60" y="82.05" width="2.30" height="12.65" fill="#136637"/>
<rect x="594.60" y="94.00" width="2.30" height="12.65" fill="#144d2a"/>
<rect x="594.60" y="105.95" width="2.30" height="12.65" fill="#144125"/>
<rect x="594.60" y="117.90" width="2.30" height="12.65" fill="#13562f"/>
<rect x="594.60" y="129.85" width="2.30" height="12.65" fill="#143a21"/>
<rect x="596.20" y="22.30" width="2.30" height="12.65" fill="#571316"/>
<rect x="596.20" y="34.25" width="2.30" height="12.65" fill="#b31c25"/>
<rect x="596.20" y="46.20" width="2.30" height="12.65" fill="#5a1317"/>
<rect x="596.20" y="58.15" width="2.30" height="12.65" fill="#4b1114"/>
<rect x="596.20" y="70.10" width="2.30" height="12.65" fill="#551216"/>
<rect x="596.20" y="82.05" width="2.30" height="12.65" fill="#13572f"/>
<rect x="596.20" y="94.00" width="2.30" height="12.65" fill="#134f2c"/>
<rect x="596.20" y="105.95" width="2.30" height="12.65" fill="#126a38"/>
<rect x="596.20" y="117.90" width="2.30" height="12.65" fill="#12733c"/>
<rect x="596.20" y="129.85" width="2.30" height="12.65" fill="#13532e"/>
<rect x="597.80" y="22.30" width="2.30" height="12.65" fill="#d41f2a"/>
<rect x="597.80" y="34.25" width="2.30" height="12.65" fill="#de202c"/>
<rect x="597.80" y="46.20" width="2.30" height="12.65" fill="#de202c"/>
<rect x="597.80" y="58.15" width="2.30" height="12.65" fill="#de202c"/>
<rect x="597.80" y="70.10" width="2.30" height="12.65" fill="#de202c"/>
<rect x="597.80" y="82.05" width="2.30" height="12.65" fill="#12763e"/>
<rect x="597.80" y="94.00" width="2.30" height="12.65" fill="#12763e"/>
<rect x="597.80" y="105.95" width="2.30" height="12.65" fill="#12763e"/>
<rect x="597.80" y="117.90" width="2.30" height="12.65" fill="#12763e"/>
<rect x="597.80" y="129.85" width="2.30" height="12.65" fill="#12763e"/>
<rect x="599.40" y="22.30" width="2.30" height="12.65" fill="#de202c"/>
<rect x="599.40" y="34.25" width="2.30" height="12.65" fill="#de202c"/>
<rect x="599.40" y="46.20" width="2.30" height="12.65" fill="#de202c"/>
<rect x="599.40" y="58.15" width="2.30" height="12.65" fill="#de202c"/>
<rect x="599.40" y="70.10" width="2.30" height="12.65" fill="#de202c"/>
<rect x="599.40" y="82.05" width="2.30" height="12.65" fill="#12763e"/>
<rect x="599.40" y="94.00" width="2.30" height="12.65" fill="#12763e"/>
<rect x="599.40" y="105.95" width="2.30" height="12.65" fill="#12763e"/>
<rect x="599.40" y="117.90" width="2.30" height="12.65" fill="#135830"/>
<rect x="599.40" y="129.85" width="2.30" height="12.65" fill="#12763e"/>
<rect x="601.00" y="22.30" width="2.30" height="12.65" fill="#de202c"/>
<rect x="601.00" y="34.25" width="2.30" height="12.65" fill="#72151b"/>
<rect x="601.00" y="46.20" width="2.30" height="12.65" fill="#7c161c"/>
<rect x="601.00" y="58.15" width="2.30" height="12.65" fill="#70151a"/>
<rect x="601.00" y="70.10" width="2.30" height="12.65" fill="#de202c"/>
<rect x="601.00" y="82.05" width="2.30" height="12.65" fill="#126c39"/>
<rect x="601.00" y="94.00" width="2.30" height="12.65" fill="#136235"/>
<rect x="601.00" y="105.95" width="2.30" height="12.65" fill="#136134"/>
<rect x="601.00" y="117.90" width="2.30" height="12.65" fill="#136837"/>
<rect x="601.00" y="129.85" width="2.30" height="12.65" fill="#152b1b"/>
<rect x="602.60" y="22.30" width="2.30" height="12.65" fill="#de202c"/>
<rect x="602.60" y="34.25" width="2.30" height="12.65" fill="#af1b25"/>
<rect x="602.60" y="46.20" width="2.30" height="12.65" fill="#88171e"/>
<rect x="602.60" y="58.15" width="2.30" height="12.65" fill="#d61f2b"/>
<rect x="602.60" y="70.10" width="2.30" height="12.65" fill="#de202c"/>
<rect x="602.60" y="82.05" width="2.30" height="12.65" fill="#143d23"/>
<rect x="602.60" y="94.00" width="2.30" height="12.65" fill="#144929"/>
<rect x="602.60" y="105.95" width="2.30" height="12.65" fill="#12763e"/>
<rect x="602.60" y="117.90" width="2.30" height="12.65" fill="#135f33"/>
<rect x="602.60" y="129.85" width="2.30" height="12.65" fill="#152f1c"/>
<rect x="604.20" y="22.30" width="2.30" height="12.65" fill="#de202c"/>
<rect x="604.20" y="34.25" width="2.30" height="12.65" fill="#981921"/>
<rect x="604.20" y="46.20" width="2.30" height="12.65" fill="#d21f2a"/>
<rect x="604.20" y="58.15" width="2.30" height="12.65" fill="#dd202c"/>
<rect x="604.20" y="70.10" width="2.30" height="12.65" fill="#de202c"/>
<rect x="604.20" y="82.05" width="2.30" height="12.65" fill="#12763e"/>
<rect x="604.20" y="94.00" width="2.30" height="12.65" fill="#135930"/>
<rect x="604.20" y="105.95" width="2.30" height="12.65" fill="#12763e"/>
<rect x="604.20" y="117.90" width="2.30" height="12.65" fill="#12763e"/>
<rect x="604.20" y="129.85" width="2.30" height="12.65" fill="#12763e"/>
<rect x="605.80" y="22.30" width="2.30" height="12.65" fill="#de202c"/>
<rect x="605.80" y="34.25" width="2.30" height="12.65" fill="#de202c"/>
<rect x="605.80" y="46.20" width="2.30" height="12.65" fill="#de202c"/>
<rect x="605.80" y="58.15" width="2.30" height="12.65" fill="#de202c"/>
<rect x="605.80" y="70.10" width="2.30" height="12.65" fill="#de202c"/>
<rect x="605.80" y="82.05" width="2.30" height="12.65" fill="#13502c"/>
<rect x="605.80" y="94.00" width="2.30" height="12.65" fill="#143a22"/>
<rect x="605.80" y="105.95" width="2.30" height="12.65" fill="#135a31"/>
<rect x="605.80" y="117.90" width="2.30" height="12.65" fill="#13552e"/>
<rect x="605.80" y="129.85" width="2.30" height="12.65" fill="#126b39"/>
<rect x="607.40" y="22.30" width="2.30" height="12.65" fill="#da202b"/>
<rect x="607.40" y="34.25" width="2.30" height="12.65" fill="#a31a23"/>
<rect x="607.40" y="46.20" width="2.30" height="12.65" fill="#3d1012"/>
<rect x="607.40" y="58.15" width="2.30" height="12.65" fill="#bd1d27"/>
<rect x="607.40" y="70.10" width="2.30" height="12.65" fill="#dd202c"/>
<rect x="607.40" y="82.05" width="2.30" height="12.65" fill="#12763e"/>
<rect x="607.40" y="94.00" width="2.30" height="12.65" fill="#143620"/>
<rect x="607.40" y="105.95" width="2.30" height="12.65" fill="#12763e"/>
<rect x="607.40" y="117.90" width="2.30" height="12.65" fill="#13532d"/>
<rect x="607.40" y="129.85" width="2.30" height="12.65" fill="#12763e"/>
<rect x="609.00" y="22.30" width="2.30" height="12.65" fill="#de202c"/>
<rect x="609.00" y="34.25" width="2.30" height="12.65" fill="#152518"/>
<rect x="609.00" y="46.20" width="2.30" height="12.65" fill="#3f1012"/>
<rect x="609.00" y="58.15" width="2.30" height="12.65" fill="#a91b23"/>
<rect x="609.00" y="70.10" width="2.30" height="12.65" fill="#d81f2b"/>
<rect x="609.00" y="82.05" width="2.30" height="12.65" fill="#143b22"/>
<rect x="609.00" y="94.00" width="2.30" height="12.65" fill="#15331e"/>
<rect x="609.00" y="105.95" width="2.30" height="12.65" fill="#12763e"/>
<rect x="609.00" y="117.90" width="2.30" height="12.65" fill="#13502c"/>
<rect x="609.00" y="129.85" width="2.30" height="12.65" fill="#144828"/>
<rect x="610.60" y="22.30" width="2.30" height="12.65" fill="#161912"/>
<rect x="610.60" y="34.25" width="2.30" height="12.65" fill="#de202c"/>
<rect x="610.60" y="46.20" width="2.30" height="12.65" fill="#bb1d26"/>
<rect x="610.60" y="58.15" width="2.30" height="12.65" fill="#ac1b24"/>
<rect x="610.60" y="70.10" width="2.30" height="12.65" fill="#de202c"/>
<rect x="610.60" y="82.05" width="2.30" height="12.65" fill="#143921"/>
<rect x="610.60" y="94.00" width="2.30" height="12.65" fill="#152f1d"/>
<rect x="610.60" y="105.95" width="2.30" height="12.65" fill="#126a38"/>
<rect x="610.60" y="117.90" width="2.30" height="12.65" fill="#921820"/>
<rect x="610.60" y="129.85" width="2.30" height="12.65" fill="#134f2b"/>
<rect x="612.20" y="22.30" width="2.30" height="12.65" fill="#144b2a"/>
<rect x="612.20" y="34.25" width="2.30" height="12.65" fill="#135e33"/>
<rect x="612.20" y="46.20" width="2.30" height="12.65" fill="#de202c"/>
<rect x="612.20" y="58.15" width="2.30" height="12.65" fill="#ae1b24"/>
<rect x="612.20" y="70.10" width="2.30" height="12.65" fill="#5a1317"/>
<rect x="612.20" y="82.05" width="2.30" height="12.65" fill="#152819"/>
<rect x="612.20" y="94.00" width="2.30" height="12.65" fill="#143921"/>
<rect x="612.20" y="105.95" width="2.30" height="12.65" fill="#144e2b"/>
<rect x="612.20" y="117.90" width="2.30" height="12.65" fill="#561216"/>
<rect x="612.20" y="129.85" width="2.30" height="12.65" fill="#126f3b"/>
<rect x="613.80" y="22.30" width="2.30" height="12.65" fill="#144728"/>
<rect x="613.80" y="34.25" width="2.30" height="12.65" fill="#152015"/>
<rect x="613.80" y="46.20" width="2.30" height="12.65" fill="#8b181f"/>
<rect x="613.80" y="58.15" width="2.30" height="12.65" fill="#d11f2a"/>
<rect x="613.80" y="70.10" width="2.30" height="12.65" fill="#de202c"/>
<rect x="613.80" y="82.05" width="2.30" height="12.65" fill="#151f15"/>
<rect x="613.80" y="94.00" width="2.30" height="12.65" fill="#16110e"/>
<rect x="613.80" y="105.95" width="2.30" height="12.65" fill="#13562f"/>
<rect x="613.80" y="117.90" width="2.30" height="12.65" fill="#161410"/>
<rect x="613.80" y="129.85" width="2.30" height="12.65" fill="#126938"/>
<rect x="615.40" y="22.30" width="2.30" height="12.65" fill="#151f15"/>
<rect x="615.40" y="34.25" width="2.30" height="12.65" fill="#461114"/>
<rect x="615.40" y="46.20" width="2.30" height="12.65" fill="#bf1d27"/>
<rect x="615.40" y="58.15" width="2.30" height="12.65" fill="#de202c"/>
<rect x="615.40" y="70.10" width="2.30" height="12.65" fill="#de202c"/>
<rect x="615.40" y="82.05" width="2.30" height="12.65" fill="#13552e"/>
<rect x="615.40" y="94.00" width="2.30" height="12.65" fill="#151d14"/>
<rect x="615.40" y="105.95" width="2.30" height="12.65" fill="#136938"/>
<rect x="615.40" y="117.90" width="2.30" height="12.65" fill="#3c1012"/>
<rect x="615.40" y="129.85" width="2.30" height="12.65" fill="#126b39"/>
<rect x="617.00" y="22.30" width="2.30" height="12.65" fill="#12763e"/>
<rect x="617.00" y="34.25" width="2.30" height="12.65" fill="#15311e"/>
<rect x="617.00" y="46.20" width="2.30" height="12.65" fill="#591317"/>
<rect x="617.00" y="58.15" width="2.30" height="12.65" fill="#931820"/>
<rect x="617.00" y="70.10" width="2.30" height="12.65" fill="#431013"/>
<rect x="617.00" y="82.05" width="2.30" height="12.65" fill="#12763e"/>
<rect x="617.00" y="94.00" width="2.30" height="12.65" fill="#12743d"/>
<rect x="617.00" y="105.95" width="2.30" height="12.65" fill="#12763e"/>
<rect x="617.00" y="117.90" width="2.30" height="12.65" fill="#12763e"/>
<rect x="617.00" y="129.85" width="2.30" height="12.65" fill="#12763e"/>
<rect x="618.60" y="22.30" width="2.30" height="12.65" fill="#310f10"/>
<rect x="618.60" y="34.25" width="2.30" height="12.65" fill="#681419"/>
<rect x="618.60" y="46.20" width="2.30" height="12.65" fill="#de202c"/>
<rect x="618.60" y="58.15" width="2.30" height="12.65" fill="#c21d28"/>
<rect x="618.60" y="70.10" width="2.30" height="12.65" fill="#de202c"/>
<rect x="618.60" y="82.05" width="2.30" height="12.65" fill="#13532e"/>
<rect x="618.60" y="94.00" width="2.30" height="12.65" fill="#144828"/>
<rect x="618.60" y="105.95" width="2.30" height="12.65" fill="#144d2a"/>
<rect x="618.60" y="117.90" width="2.30" height="12.65" fill="#ca1e29"/>
<rect x="618.60" y="129.85" width="2.30" height="12.65" fill="#144d2a"/>
<rect x="620.20" y="22.30" width="2.30" height="12.65" fill="#144b2a"/>
<rect x="620.20" y="34.25" width="2.30" height="12.65" fill="#160c0c"/>
<rect x="620.20" y="46.20" width="2.30" height="12.65" fill="#a41a23"/>
<rect x="620.20" y="58.15" width="2.30" height="12.65" fill="#b01b25"/>
<rect x="620.20" y="70.10" width="2.30" height="12.65" fill="#de202c"/>
<rect x="620.20" y="82.05" width="2.30" height="12.65" fill="#12763e"/>
<rect x="620.20" y="94.00" width="2.30" height="12.65" fill="#3f1013"/>
<rect x="620.20" y="105.95" width="2.30" height="12.65" fill="#12763e"/>
<rect x="620.20" y="117.90" width="2.30" height="12.65" fill="#12763e"/>
<rect x="620.20" y="129.85" width="2.30" height="12.65" fill="#12763e"/>
<rect x="621.80" y="22.30" width="2.30" height="12.65" fill="#151f15"/>
<rect x="621.80" y="34.25" width="2.30" height="12.65" fill="#135830"/>
<rect x="621.80" y="46.20" width="2.30" height="12.65" fill="#72151b"/>
<rect x="621.80" y="58.15" width="2.30" height="12.65" fill="#d51f2b"/>
<rect x="621.80" y="70.10" width="2.30" height="12.65" fill="#d31f2a"/>
<rect x="621.80" y="82.05" width="2.30" height="12.65" fill="#12763e"/>
<rect x="621.80" y="94.00" width="2.30" height="12.65" fill="#143f24"/>
<rect x="621.80" y="105.95" width="2.30" height="12.65" fill="#12763e"/>
<rect x="621.80" y="117.90" width="2.30" height="12.65" fill="#230d0e"/>
<rect x="621.80" y="129.85" width="2.30" height="12.65" fill="#12763e"/>
<rect x="623.40" y="22.30" width="2.30" height="12.65" fill="#143d23"/>
<rect x="623.40" y="34.25" width="2.30" height="12.65" fill="#13562f"/>
<rect x="623.40" y="46.20" width="2.30" height="12.65" fill="#571216"/>
<rect x="623.40" y="58.15" width="2.30" height="12.65" fill="#de202c"/>
<rect x="623.40" y="70.10" width="2.30" height="12.65" fill="#de202c"/>
<rect x="623.40" y="82.05" width="2.30" height="12.65" fill="#12763e"/>
<rect x="623.40" y="94.00" width="2.30" height="12.65" fill="#15321e"/>
<rect x="623.40" y="105.95" width="2.30" height="12.65" fill="#12763e"/>
<rect x="623.40" y="117.90" width="2.30" height="12.65" fill="#320f10"/>
<rect x="623.40" y="129.85" width="2.30" height="12.65" fill="#12723c"/>
<rect x="625.00" y="22.30" width="2.30" height="12.65" fill="#144a29"/>
<rect x="625.00" y="34.25" width="2.30" height="12.65" fill="#144b2a"/>
<rect x="625.00" y="46.20" width="2.30" height="12.65" fill="#320f10"/>
<rect x="625.00" y="58.15" width="2.30" height="12.65" fill="#de202c"/>
<rect x="625.00" y="70.10" width="2.30" height="12.65" fill="#591317"/>
<rect x="625.00" y="82.05" width="2.30" height="12.65" fill="#12763e"/>
<rect x="625.00" y="94.00" width="2.30" height="12.65" fill="#15291a"/>
<rect x="625.00" y="105.95" width="2.30" height="12.65" fill="#12763e"/>
<rect x="625.00" y="117.90" width="2.30" height="12.65" fill="#12763e"/>
<rect x="625.00" y="129.85" width="2.30" height="12.65" fill="#12763e"/>
<rect x="626.60" y="22.30" width="2.30" height="12.65" fill="#152317"/>
<rect x="626.60" y="34.25" width="2.30" height="12.65" fill="#151b13"/>
<rect x="626.60" y="46.20" width="2.30" height="12.65" fill="#9b1921"/>
<rect x="626.60" y="58.15" width="2.30" height="12.65" fill="#de202c"/>
<rect x="626.60" y="70.10" width="2.30" height="12.65" fill="#de202c"/>
<rect x="626.60" y="82.05" width="2.30" height="12.65" fill="#12763e"/>
<rect x="626.60" y="94.00" width="2.30" height="12.65" fill="#16120f"/>
<rect x="626.60" y="105.95" width="2.30" height="12.65" fill="#134f2c"/>
<rect x="626.60" y="117.90" width="2.30" height="12.65" fill="#190c0c"/>
<rect x="626.60" y="129.85" width="2.30" height="12.65" fill="#14341f"/>
<rect x="628.20" y="22.30" width="2.30" height="12.65" fill="#16100e"/>
<rect x="628.20" y="34.25" width="2.30" height="12.65" fill="#270e0f"/>
<rect x="628.20" y="46.20" width="2.30" height="12.65" fill="#cb1e29"/>
<rect x="628.20" y="58.15" width="2.30" height="12.65" fill="#de202c"/>
<rect x="628.20" y="70.10" width="2.30" height="12.65" fill="#de202c"/>
<rect x="628.20" y="82.05" width="2.30" height="12.65" fill="#144728"/>
<rect x="628.20" y="94.00" width="2.30" height="12.65" fill="#160e0d"/>
<rect x="628.20" y="105.95" width="2.30" height="12.65" fill="#126c39"/>
<rect x="628.20" y="117.90" width="2.30" height="12.65" fill="#160d0c"/>
<rect x="628.20" y="129.85" width="2.30" height="12.65" fill="#144627"/>
<rect x="629.80" y="22.30" width="2.30" height="12.65" fill="#134f2b"/>
<rect x="629.80" y="34.25" width="2.30" height="12.65" fill="#144426"/>
<rect x="629.80" y="46.20" width="2.30" height="12.65" fill="#c21d27"/>
<rect x="629.80" y="58.15" width="2.30" height="12.65" fill="#de202c"/>
<rect x="629.80" y="70.10" width="2.30" height="12.65" fill="#de202c"/>
<rect x="629.80" y="82.05" width="2.30" height="12.65" fill="#12763e"/>
<rect x="629.80" y="94.00" width="2.30" height="12.65" fill="#152c1b"/>
<rect x="629.80" y="105.95" width="2.30" height="12.65" fill="#136134"/>
<rect x="629.80" y="117.90" width="2.30" height="12.65" fill="#144125"/>
<rect x="629.80" y="129.85" width="2.30" height="12.65" fill="#12763e"/>
<rect x="631.40" y="22.30" width="2.30" height="12.65" fill="#390f12"/>
<rect x="631.40" y="34.25" width="2.30" height="12.65" fill="#d41f2a"/>
<rect x="631.40" y="46.20" width="2.30" height="12.65" fill="#961920"/>
<rect x="631.40" y="58.15" width="2.30" height="12.65" fill="#de202c"/>
<rect x="631.40" y="70.10" width="2.30" height="12.65" fill="#b91c26"/>
<rect x="631.40" y="82.05" width="2.30" height="12.65" fill="#12763e"/>
<rect x="631.40" y="94.00" width="2.30" height="12.65" fill="#87171e"/>
<rect x="631.40" y="105.95" width="2.30" height="12.65" fill="#1e0d0d"/>
<rect x="631.40" y="117.90" width="2.30" height="12.65" fill="#7f161d"/>
<rect x="631.40" y="129.85" width="2.30" height="12.65" fill="#4b1114"/>
<rect x="633.00" y="22.30" width="2.30" height="12.65" fill="#152417"/>
<rect x="633.00" y="34.25" width="2.30" height="12.65" fill="#941920"/>
<rect x="633.00" y="46.20" width="2.30" height="12.65" fill="#c71e28"/>
<rect x="633.00" y="58.15" width="2.30" height="12.65" fill="#8e181f"/>
<rect x="633.00" y="70.10" width="2.30" height="12.65" fill="#a71a23"/>
<rect x="633.00" y="82.05" width="2.30" height="12.65" fill="#12763e"/>
<rect x="633.00" y="94.00" width="2.30" height="12.65" fill="#152719"/>
<rect x="633.00" y="105.95" width="2.30" height="12.65" fill="#1a0c0d"/>
<rect x="633.00" y="117.90" width="2.30" height="12.65" fill="#b51c25"/>
<rect x="633.00" y="129.85" width="2.30" height="12.65" fill="#152f1d"/>
<rect x="634.60" y="22.30" width="2.30" height="12.65" fill="#2b0e0f"/>
<rect x="634.60" y="34.25" width="2.30" height="12.65" fill="#152015"/>
<rect x="634.60" y="46.20" width="2.30" height="12.65" fill="#981921"/>
<rect x="634.60" y="58.15" width="2.30" height="12.65" fill="#be1d27"/>
<rect x="634.60" y="70.10" width="2.30" height="12.65" fill="#d31f2a"/>
<rect x="634.60" y="82.05" width="2.30" height="12.65" fill="#12763e"/>
<rect x="634.60" y="94.00" width="2.30" height="12.65" fill="#161611"/>
<rect x="634.60" y="105.95" width="2.30" height="12.65" fill="#144b2a"/>
<rect x="634.60" y="117.90" width="2.30" height="12.65" fill="#c11d27"/>
<rect x="634.60" y="129.85" width="2.30" height="12.65" fill="#144c2a"/>
<rect x="636.20" y="22.30" width="2.30" height="12.65" fill="#671419"/>
<rect x="636.20" y="34.25" width="2.30" height="12.65" fill="#152a1a"/>
<rect x="636.20" y="46.20" width="2.30" height="12.65" fill="#541216"/>
<rect x="636.20" y="58.15" width="2.30" height="12.65" fill="#c81e28"/>
<rect x="636.20" y="70.10" width="2.30" height="12.65" fill="#c71e28"/>
<rect x="636.20" y="82.05" width="2.30" height="12.65" fill="#12763e"/>
<rect x="636.20" y="94.00" width="2.30" height="12.65" fill="#152b1b"/>
<rect x="636.20" y="105.95" width="2.30" height="12.65" fill="#152417"/>
<rect x="636.20" y="117.90" width="2.30" height="12.65" fill="#2e0e10"/>
<rect x="636.20" y="129.85" width="2.30" height="12.65" fill="#15311e"/>
<rect x="637.80" y="22.30" width="2.30" height="12.65" fill="#3e1012"/>
<rect x="637.80" y="34.25" width="2.30" height="12.65" fill="#431013"/>
<rect x="637.80" y="46.20" width="2.30" height="12.65" fill="#6e151a"/>
<rect x="637.80" y="58.15" width="2.30" height="12.65" fill="#9a1921"/>
<rect x="637.80" y="70.10" width="2.30" height="12.65" fill="#ca1e29"/>
<rect x="637.80" y="82.05" width="2.30" height="12.65" fill="#144527"/>
<rect x="637.80" y="94.00" width="2.30" height="12.65" fill="#631418"/>
<rect x="637.80" y="105.95" width="2.30" height="12.65" fill="#2a0e0f"/>
<rect x="637.80" y="117.90" width="2.30" height="12.65" fill="#de202c"/>
<rect x="637.80" y="129.85" width="2.30" height="12.65" fill="#152a1a"/>
<rect x="639.40" y="22.30" width="2.30" height="12.65" fill="#15331e"/>
<rect x="639.40" y="34.25" width="2.30" height="12.65" fill="#135b31"/>
<rect x="639.40" y="46.20" width="2.30" height="12.65" fill="#160d0d"/>
<rect x="639.40" y="58.15" width="2.30" height="12.65" fill="#151f15"/>
<rect x="639.40" y="70.10" width="2.30" height="12.65" fill="#b41c25"/>
<rect x="639.40" y="82.05" width="2.30" height="12.65" fill="#12763e"/>
<rect x="639.40" y="94.00" width="2.30" height="12.65" fill="#7a161c"/>
<rect x="639.40" y="105.95" width="2.30" height="12.65" fill="#180c0c"/>
<rect x="639.40" y="117.90" width="2.30" height="12.65" fill="#1f0d0d"/>
<rect x="639.40" y="129.85" width="2.30" height="12.65" fill="#3e1012"/>
<rect x="641.00" y="22.30" width="2.30" height="12.65" fill="#4e1215"/>
<rect x="641.00" y="34.25" width="2.30" height="12.65" fill="#bc1d27"/>
<rect x="641.00" y="46.20" width="2.30" height="12.65" fill="#b91c26"/>
<rect x="641.00" y="58.15" width="2.30" height="12.65" fill="#161711"/>
<rect x="641.00" y="70.10" width="2.30" height="12.65" fill="#152719"/>
<rect x="641.00" y="82.05" width="2.30" height="12.65" fill="#136335"/>
<rect x="641.00" y="94.00" width="2.30" height="12.65" fill="#151f15"/>
<rect x="641.00" y="105.95" width="2.30" height="12.65" fill="#de202c"/>
<rect x="641.00" y="117.90" width="2.30" height="12.65" fill="#dc202c"/>
<rect x="641.00" y="129.85" width="2.30" height="12.65" fill="#de202c"/>
<rect x="642.60" y="22.30" width="2.30" height="12.65" fill="#85171e"/>
<rect x="642.60" y="34.25" width="2.30" height="12.65" fill="#661419"/>
<rect x="642.60" y="46.20" width="2.30" height="12.65" fill="#5d1317"/>
<rect x="642.60" y="58.15" width="2.30" height="12.65" fill="#151b13"/>
<rect x="642.60" y="70.10" width="2.30" height="12.65" fill="#431113"/>
<rect x="642.60" y="82.05" width="2.30" height="12.65" fill="#12763e"/>
<rect x="642.60" y="94.00" width="2.30" height="12.65" fill="#144527"/>
<rect x="642.60" y="105.95" width="2.30" height="12.65" fill="#611418"/>
<rect x="642.60" y="117.90" width="2.30" height="12.65" fill="#151e15"/>
<rect x="642.60" y="129.85" width="2.30" height="12.65" fill="#5e1317"/>
<rect x="644.20" y="22.30" width="2.30" height="12.65" fill="#de202c"/>
<rect x="644.20" y="34.25" width="2.30" height="12.65" fill="#b51c25"/>
<rect x="644.20" y="46.20" width="2.30" height="12.65" fill="#de202c"/>
<rect x="644.20" y="58.15" width="2.30" height="12.65" fill="#16120f"/>
<rect x="644.20" y="70.10" width="2.30" height="12.65" fill="#4f1215"/>
<rect x="644.20" y="82.05" width="2.30" height="12.65" fill="#12713c"/>
<rect x="644.20" y="94.00" width="2.30" height="12.65" fill="#144d2a"/>
<rect x="644.20" y="105.95" width="2.30" height="12.65" fill="#84171e"/>
<rect x="644.20" y="117.90" width="2.30" height="12.65" fill="#152518"/>
<rect x="644.20" y="129.85" width="2.30" height="12.65" fill="#82171d"/>
<rect x="645.80" y="22.30" width="2.30" height="12.65" fill="#4f1215"/>
<rect x="645.80" y="34.25" width="2.30" height="12.65" fill="#2c0e10"/>
<rect x="645.80" y="46.20" width="2.30" height="12.65" fill="#491114"/>
<rect x="645.80" y="58.15" width="2.30" height="12.65" fill="#152216"/>
<rect x="645.80" y="70.10" width="2.30" height="12.65" fill="#13522d"/>
<rect x="645.80" y="82.05" width="2.30" height="12.65" fill="#12733d"/>
<rect x="645.80" y="94.00" width="2.30" height="12.65" fill="#152217"/>
<rect x="645.80" y="105.95" width="2.30" height="12.65" fill="#73151b"/>
<rect x="645.80" y="117.90" width="2.30" height="12.65" fill="#3d1012"/>
<rect x="645.80" y="129.85" width="2.30" height="12.65" fill="#9c1921"/>
<rect x="647.40" y="22.30" width="2.30" height="12.65" fill="#d01f2a"/>
<rect x="647.40" y="34.25" width="2.30" height="12.65" fill="#240d0e"/>
<rect x="647.40" y="46.20" width="2.30" height="12.65" fill="#be1d27"/>
<rect x="647.40" y="58.15" width="2.30" height="12.65" fill="#144225"/>
<rect x="647.40" y="70.10" width="2.30" height="12.65" fill="#471114"/>
<rect x="647.40" y="82.05" width="2.30" height="12.65" fill="#12763e"/>
<rect x="647.40" y="94.00" width="2.30" height="12.65" fill="#280e0f"/>
<rect x="647.40" y="105.95" width="2.30" height="12.65" fill="#c71e28"/>
<rect x="647.40" y="117.90" width="2.30" height="12.65" fill="#160c0c"/>
<rect x="647.40" y="129.85" width="2.30" height="12.65" fill="#981921"/>
<rect x="649.00" y="22.30" width="2.30" height="12.65" fill="#5c1317"/>
<rect x="649.00" y="34.25" width="2.30" height="12.65" fill="#411013"/>
<rect x="649.00" y="46.20" width="2.30" height="12.65" fill="#15311d"/>
<rect x="649.00" y="58.15" width="2.30" height="12.65" fill="#143c23"/>
<rect x="649.00" y="70.10" width="2.30" height="12.65" fill="#151f15"/>
<rect x="649.00" y="82.05" width="2.30" height="12.65" fill="#12763e"/>
<rect x="649.00" y="94.00" width="2.30" height="12.65" fill="#152f1c"/>
<rect x="649.00" y="105.95" width="2.30" height="12.65" fill="#151c13"/>
<rect x="649.00" y="117.90" width="2.30" height="12.65" fill="#152216"/>
<rect x="649.00" y="129.85" width="2.30" height="12.65" fill="#531216"/>
<rect x="650.60" y="22.30" width="2.30" height="12.65" fill="#152216"/>
<rect x="650.60" y="34.25" width="2.30" height="12.65" fill="#3b1012"/>
<rect x="650.60" y="46.20" width="2.30" height="12.65" fill="#a61a23"/>
<rect x="650.60" y="58.15" width="2.30" height="12.65" fill="#135e33"/>
<rect x="650.60" y="70.10" width="2.30" height="12.65" fill="#152618"/>
<rect x="650.60" y="82.05" width="2.30" height="12.65" fill="#136636"/>
<rect x="650.60" y="94.00" width="2.30" height="12.65" fill="#152015"/>
<rect x="650.60" y="105.95" width="2.30" height="12.65" fill="#12763e"/>
<rect x="650.60" y="117.90" width="2.30" height="12.65" fill="#135930"/>
<rect x="650.60" y="129.85" width="2.30" height="12.65" fill="#135b31"/>
<rect x="652.20" y="22.30" width="2.30" height="12.65" fill="#6c151a"/>
<rect x="652.20" y="34.25" width="2.30" height="12.65" fill="#161711"/>
<rect x="652.20" y="46.20" width="2.30" height="12.65" fill="#611418"/>
<rect x="652.20" y="58.15" width="2.30" height="12.65" fill="#152d1c"/>
<rect x="652.20" y="70.10" width="2.30" height="12.65" fill="#136636"/>
<rect x="652.20" y="82.05" width="2.30" height="12.65" fill="#15321e"/>
<rect x="652.20" y="94.00" width="2.30" height="12.65" fill="#280e0f"/>
<rect x="652.20" y="105.95" width="2.30" height="12.65" fill="#161410"/>
<rect x="652.20" y="117.90" width="2.30" height="12.65" fill="#15291a"/>
<rect x="652.20" y="129.85" width="2.30" height="12.65" fill="#d81f2b"/>
<rect x="653.80" y="22.30" width="2.30" height="12.65" fill="#250e0e"/>
<rect x="653.80" y="34.25" width="2.30" height="12.65" fill="#76161b"/>
<rect x="653.80" y="46.20" width="2.30" height="12.65" fill="#931920"/>
<rect x="653.80" y="58.15" width="2.30" height="12.65" fill="#13532d"/>
<rect x="653.80" y="70.10" width="2.30" height="12.65" fill="#143921"/>
<rect x="653.80" y="82.05" width="2.30" height="12.65" fill="#16100e"/>
<rect x="653.80" y="94.00" width="2.30" height="12.65" fill="#320f11"/>
<rect x="653.80" y="105.95" width="2.30" height="12.65" fill="#8b181f"/>
<rect x="653.80" y="117.90" width="2.30" height="12.65" fill="#143720"/>
<rect x="653.80" y="129.85" width="2.30" height="12.65" fill="#c51d28"/>
<rect x="655.40" y="22.30" width="2.30" height="12.65" fill="#160c0c"/>
<rect x="655.40" y="34.25" width="2.30" height="12.65" fill="#641418"/>
<rect x="655.40" y="46.20" width="2.30" height="12.65" fill="#81171d"/>
<rect x="655.40" y="58.15" width="2.30" height="12.65" fill="#136134"/>
<rect x="655.40" y="70.10" width="2.30" height="12.65" fill="#15331e"/>
<rect x="655.40" y="82.05" width="2.30" height="12.65" fill="#13502c"/>
<rect x="655.40" y="94.00" width="2.30" height="12.65" fill="#a91b24"/>
<rect x="655.40" y="105.95" width="2.30" height="12.65" fill="#7a161c"/>
<rect x="655.40" y="117.90" width="2.30" height="12.65" fill="#15311d"/>
<rect x="655.40" y="129.85" width="2.30" height="12.65" fill="#72151b"/>
<rect x="657.00" y="22.30" width="2.30" height="12.65" fill="#12763e"/>
<rect x="657.00" y="34.25" width="2.30" height="12.65" fill="#134e2b"/>
<rect x="657.00" y="46.20" width="2.30" height="12.65" fill="#79161c"/>
<rect x="657.00" y="58.15" width="2.30" height="12.65" fill="#12763e"/>
<rect x="657.00" y="70.10" width="2.30" height="12.65" fill="#12763e"/>
<rect x="657.00" y="82.05" width="2.30" height="12.65" fill="#16110e"/>
<rect x="657.00" y="94.00" width="2.30" height="12.65" fill="#9a1921"/>
<rect x="657.00" y="105.95" width="2.30" height="12.65" fill="#16130f"/>
<rect x="657.00" y="117.90" width="2.30" height="12.65" fill="#15321e"/>
<rect x="657.00" y="129.85" width="2.30" height="12.65" fill="#de202c"/>
<rect x="658.60" y="22.30" width="2.30" height="12.65" fill="#13532e"/>
<rect x="658.60" y="34.25" width="2.30" height="12.65" fill="#144226"/>
<rect x="658.60" y="46.20" width="2.30" height="12.65" fill="#161410"/>
<rect x="658.60" y="58.15" width="2.30" height="12.65" fill="#144b2a"/>
<rect x="658.60" y="70.10" width="2.30" height="12.65" fill="#14351f"/>
<rect x="658.60" y="82.05" width="2.30" height="12.65" fill="#15311e"/>
<rect x="658.60" y="94.00" width="2.30" height="12.65" fill="#290e0f"/>
<rect x="658.60" y="105.95" width="2.30" height="12.65" fill="#4d1115"/>
<rect x="658.60" y="117.90" width="2.30" height="12.65" fill="#152819"/>
<rect x="658.60" y="129.85" width="2.30" height="12.65" fill="#280e0f"/>
<rect x="660.20" y="22.30" width="2.30" height="12.65" fill="#de202c"/>
<rect x="660.20" y="34.25" width="2.30" height="12.65" fill="#7e161d"/>
<rect x="660.20" y="46.20" width="2.30" height="12.65" fill="#152618"/>
<rect x="660.20" y="58.15" width="2.30" height="12.65" fill="#c11d27"/>
<rect x="660.20" y="70.10" width="2.30" height="12.65" fill="#80171d"/>
<rect x="660.20" y="82.05" width="2.30" height="12.65" fill="#152317"/>
<rect x="660.20" y="94.00" width="2.30" height="12.65" fill="#c31d28"/>
<rect x="660.20" y="105.95" width="2.30" height="12.65" fill="#de202c"/>
<rect x="660.20" y="117.90" width="2.30" height="12.65" fill="#dd202c"/>
<rect x="660.20" y="129.85" width="2.30" height="12.65" fill="#de202c"/>
<rect x="661.80" y="22.30" width="2.30" height="12.65" fill="#de202c"/>
<rect x="661.80" y="34.25" width="2.30" height="12.65" fill="#a81b23"/>
<rect x="661.80" y="46.20" width="2.30" height="12.65" fill="#4d1115"/>
<rect x="661.80" y="58.15" width="2.30" height="12.65" fill="#7e161d"/>
<rect x="661.80" y="70.10" width="2.30" height="12.65" fill="#4d1215"/>
<rect x="661.80" y="82.05" width="2.30" height="12.65" fill="#13572f"/>
<rect x="661.80" y="94.00" width="2.30" height="12.65" fill="#151d14"/>
<rect x="661.80" y="105.95" width="2.30" height="12.65" fill="#b61c26"/>
<rect x="661.80" y="117.90" width="2.30" height="12.65" fill="#143921"/>
<rect x="661.80" y="129.85" width="2.30" height="12.65" fill="#541216"/>
<rect x="663.40" y="22.30" width="2.30" height="12.65" fill="#9d1922"/>
<rect x="663.40" y="34.25" width="2.30" height="12.65" fill="#9c1921"/>
<rect x="663.40" y="46.20" width="2.30" height="12.65" fill="#144225"/>
<rect x="663.40" y="58.15" width="2.30" height="12.65" fill="#152015"/>
<rect x="663.40" y="70.10" width="2.30" height="12.65" fill="#16100e"/>
<rect x="663.40" y="82.05" width="2.30" height="12.65" fill="#12763e"/>
<rect x="663.40" y="94.00" width="2.30" height="12.65" fill="#581317"/>
<rect x="663.40" y="105.95" width="2.30" height="12.65" fill="#de202c"/>
<rect x="663.40" y="117.90" width="2.30" height="12.65" fill="#421013"/>
<rect x="663.40" y="129.85" width="2.30" height="12.65" fill="#ae1b24"/>
<rect x="665.00" y="22.30" width="2.30" height="12.65" fill="#921820"/>
<rect x="665.00" y="34.25" width="2.30" height="12.65" fill="#451113"/>
<rect x="665.00" y="46.20" width="2.30" height="12.65" fill="#16100e"/>
<rect x="665.00" y="58.15" width="2.30" height="12.65" fill="#210d0e"/>
<rect x="665.00" y="70.10" width="2.30" height="12.65" fill="#143d23"/>
<rect x="665.00" y="82.05" width="2.30" height="12.65" fill="#13552f"/>
<rect x="665.00" y="94.00" width="2.30" height="12.65" fill="#af1b25"/>
<rect x="665.00" y="105.95" width="2.30" height="12.65" fill="#af1b25"/>
<rect x="665.00" y="117.90" width="2.30" height="12.65" fill="#230d0e"/>
<rect x="665.00" y="129.85" width="2.30" height="12.65" fill="#dc202c"/>
<rect x="666.60" y="22.30" width="2.30" height="12.65" fill="#c71e28"/>
<rect x="666.60" y="34.25" width="2.30" height="12.65" fill="#de202c"/>
<rect x="666.60" y="46.20" width="2.30" height="12.65" fill="#4f1215"/>
<rect x="666.60" y="58.15" width="2.30" height="12.65" fill="#3e1012"/>
<rect x="666.60" y="70.10" width="2.30" height="12.65" fill="#461114"/>
<rect x="666.60" y="82.05" width="2.30" height="12.65" fill="#12763e"/>
<rect x="666.60" y="94.00" width="2.30" height="12.65" fill="#161812"/>
<rect x="666.60" y="105.95" width="2.30" height="12.65" fill="#b91c26"/>
<rect x="666.60" y="117.90" width="2.30" height="12.65" fill="#16110e"/>
<rect x="666.60" y="129.85" width="2.30" height="12.65" fill="#961920"/>
<rect x="668.20" y="22.30" width="2.30" height="12.65" fill="#901820"/>
<rect x="668.20" y="34.25" width="2.30" height="12.65" fill="#d51f2b"/>
<rect x="668.20" y="46.20" width="2.30" height="12.65" fill="#143f24"/>
<rect x="668.20" y="58.15" width="2.30" height="12.65" fill="#1a0c0d"/>
<rect x="668.20" y="70.10" width="2.30" height="12.65" fill="#152116"/>
<rect x="668.20" y="82.05" width="2.30" height="12.65" fill="#126d3a"/>
<rect x="668.20" y="94.00" width="2.30" height="12.65" fill="#5d1317"/>
<rect x="668.20" y="105.95" width="2.30" height="12.65" fill="#de202c"/>
<rect x="668.20" y="117.90" width="2.30" height="12.65" fill="#571216"/>
<rect x="668.20" y="129.85" width="2.30" height="12.65" fill="#911820"/>
<rect x="669.80" y="22.30" width="1.70" height="12.65" fill="#180c0c"/>
<rect x="669.80" y="34.25" width="1.70" height="12.65" fill="#661419"/>
<rect x="669.80" y="46.20" width="1.70" height="12.65" fill="#15331e"/>
<rect x="669.80" y="58.15" width="1.70" height="12.65" fill="#220d0e"/>
<rect x="669.80" y="70.10" width="1.70" height="12.65" fill="#2b0e0f"/>
<rect x="669.80" y="82.05" width="1.70" height="12.65" fill="#12763e"/>
<rect x="669.80" y="94.00" width="1.70" height="12.65" fill="#144a29"/>
<rect x="669.80" y="105.95" width="1.70" height="12.65" fill="#dc202c"/>
<rect x="669.80" y="117.90" width="1.70" height="12.65" fill="#144326"/>
<rect x="669.80" y="129.85" width="1.70" height="12.65" fill="#681419"/>
</g></g>
<defs><linearGradient id="cb" x1="0" x2="1" y1="0" y2="0"><stop offset="0" stop-color="#e21f2e"/><stop offset="0.25" stop-color="#e21f2e"/><stop offset="0.5" stop-color="#120808"/><stop offset="0.75" stop-color="#0d7a3d"/><stop offset="1" stop-color="#0d7a3d"/></linearGradient></defs>
<rect x="604.6" y="153.2" width="60.6" height="4.6" fill="url(#cb)"/>
<text x="629.9" y="151.5" font-size="8.54" text-anchor="middle" fill="#1a1a1a">Z-scored Expression</text>
<path d="M604.8,157.8 L604.8,159.6" stroke="#222" stroke-width="0.6"/>
<text x="608.0" y="160.2" font-size="9" text-anchor="end" fill="#1a1a1a" transform="rotate(-90 608.0 160.2)">2</text>
<path d="M619.6,157.8 L619.6,159.6" stroke="#222" stroke-width="0.6"/>
<text x="622.9" y="160.2" font-size="9" text-anchor="end" fill="#1a1a1a" transform="rotate(-90 622.9 160.2)">1</text>
<path d="M634.5,157.8 L634.5,159.6" stroke="#222" stroke-width="0.6"/>
<text x="637.7" y="160.2" font-size="9" text-anchor="end" fill="#1a1a1a" transform="rotate(-90 637.7 160.2)">0</text>
<path d="M649.3,157.8 L649.3,159.6" stroke="#222" stroke-width="0.6"/>
<text x="652.5" y="160.2" font-size="9" text-anchor="end" fill="#1a1a1a" transform="rotate(-90 652.5 160.2)">-1</text>
<path d="M664.2,157.8 L664.2,159.6" stroke="#222" stroke-width="0.6"/>
<text x="667.4" y="160.2" font-size="9" text-anchor="end" fill="#1a1a1a" transform="rotate(-90 667.4 160.2)">-2</text>
<text x="9.0" y="219.6" font-size="14.6" text-anchor="start" fill="#1a1a1a">GO terms significant</text>
<text x="9.0" y="236.8" font-size="14.6" text-anchor="start" fill="#1a1a1a">protein-protein interactions</text>
<circle cx="25.5" cy="253.0" r="1.4" fill="#000"/>
<circle cx="25.5" cy="260.7" r="2.6" fill="#000"/>
<circle cx="25.5" cy="272.6" r="4.5" fill="#000"/>
<circle cx="25.5" cy="287.0" r="6.1" fill="#000"/>
<text x="35.6" y="260.0" font-size="10" text-anchor="start" fill="#1a1a1a">5</text>
<text x="36.2" y="290.4" font-size="10" text-anchor="start" fill="#1a1a1a">100</text>
<g fill="none" stroke="#8a7fd0" stroke-opacity="0.3" stroke-width="1.4">
<path d="M265.4,203.6 L292.2,253.0"/>
<path d="M285.6,203.6 L292.2,253.0"/>
<path d="M308.0,206.0 L292.2,253.0"/>
<path d="M328.7,210.2 L292.2,253.0"/>
<path d="M265.4,203.6 C265.4,174.0 285.6,174.0 285.6,203.6"/>
<path d="M285.6,203.6 C285.6,174.0 308.0,174.0 308.0,206.0"/>
<path d="M308.0,206.0 C308.0,176.0 328.7,176.0 328.7,210.2"/>
<path d="M265.4,203.6 C265.4,170.0 308.0,170.0 308.0,206.0"/>
<path d="M285.6,203.6 C285.6,171.0 328.7,171.0 328.7,210.2"/>
<path d="M265.4,203.6 C265.4,169.0 328.7,169.0 328.7,210.2"/>
<path d="M265.4,203.6 C265.4,172.0 308.0,172.0 308.0,206.0"/>
<path d="M285.6,203.6 C285.6,173.0 328.7,173.0 328.7,210.2"/>
<path d="M292.2,253.0 L285.9,311.4"/>
<path d="M292.2,253.0 L253.9,312.6"/>
<path d="M292.2,253.0 Q276.3,305.2 271.0,359.5"/>
<path d="M215.2,263.3 C210.0,225.0 250.0,225.0 242.5,255.4"/>
<path d="M215.2,263.3 C205.0,232.0 240.0,228.0 253.9,312.6"/>
<path d="M215.2,263.3 L236.3,317.8"/>
<path d="M215.2,263.3 L220.1,325.8"/>
<path d="M215.2,263.3 Q202.3,299.4 204.3,337.7"/>
<path d="M242.5,255.4 L236.3,317.8"/>
<path d="M242.5,255.4 L253.9,312.6"/>
<path d="M242.5,255.4 Q258.6,287.7 285.9,311.4"/>
<path d="M242.5,255.4 L220.1,325.8"/>
<path d="M215.2,263.3 C60.0,245.0 60.0,505.0 140.2,513.8" stroke-opacity="0.55"/>
<path d="M215.2,263.3 C62.0,248.0 63.0,502.0 140.2,513.8" stroke-opacity="0.4"/>
<path d="M215.2,263.3 C64.0,242.0 58.0,500.0 140.2,513.8" stroke-opacity="0.3"/>
<path d="M285.9,311.4 C190.0,272.0 100.0,350.0 124.6,487.1"/>
<path d="M253.9,312.6 C182.0,272.0 104.0,372.0 140.2,513.8"/>
<path d="M253.9,312.6 C186.0,276.0 108.0,364.0 124.6,487.1"/>
<path d="M285.9,311.4 C195.0,276.0 112.0,360.0 140.2,513.8"/>
<path d="M204.3,337.7 C165.0,345.0 130.0,440.0 184.2,474.6"/>
<path d="M220.1,325.8 C168.0,330.0 128.0,430.0 184.2,474.6"/>
<path d="M238.3,373.0 C170.0,360.0 140.0,445.0 184.2,474.6"/>
<path d="M236.3,317.8 C175.0,315.0 120.0,420.0 184.2,474.6"/>
<path d="M204.3,337.7 C150.0,350.0 110.0,470.0 124.6,487.1"/>
<path d="M285.9,311.4 C215.0,265.0 60.0,420.0 184.2,474.6" stroke-opacity="0.42"/>
<path d="M253.9,312.6 C210.0,268.0 62.0,418.0 184.2,474.6" stroke-opacity="0.42"/>
<path d="M242.5,255.4 C205.0,262.0 58.0,425.0 184.2,474.6" stroke-opacity="0.38"/>
<path d="M285.9,311.4 C218.0,262.0 64.0,415.0 184.2,474.6" stroke-opacity="0.35"/>
<path d="M253.9,312.6 C214.0,266.0 66.0,412.0 168.5,434.0" stroke-opacity="0.3"/>
<path d="M236.3,317.8 Q244.7,313.8 253.9,312.6"/>
<path d="M236.3,317.8 Q261.2,315.3 285.9,311.4"/>
<path d="M236.3,317.8 Q228.5,322.4 220.1,325.8"/>
<path d="M236.3,317.8 Q219.7,326.8 204.3,337.7"/>
<path d="M253.9,312.6 Q228.2,323.3 204.3,337.7"/>
<path d="M220.1,325.8 Q213.8,333.8 204.3,337.7"/>
<path d="M253.9,312.6 Q269.3,333.6 271.0,359.5"/>
<path d="M285.9,311.4 Q273.6,333.9 271.0,359.5"/>
<path d="M285.9,311.4 Q297.9,337.6 302.0,366.2"/>
<path d="M253.9,312.6 Q282.2,335.6 302.0,366.2"/>
<path d="M285.9,311.4 Q338.4,318.1 386.1,295.0"/>
<path d="M285.9,311.4 Q316.6,324.4 346.9,338.4"/>
<path d="M285.9,311.4 Q318.4,338.7 359.0,351.3"/>
<path d="M204.3,337.7 Q221.6,355.1 238.3,373.0"/>
<path d="M220.1,325.8 Q227.2,350.2 238.3,373.0"/>
<path d="M204.3,337.7 Q239.9,341.6 271.0,359.5"/>
<path d="M220.1,325.8 Q244.2,344.7 271.0,359.5"/>
<path d="M236.3,317.8 Q231.2,345.6 238.3,373.0"/>
<path d="M236.3,317.8 Q253.4,338.9 271.0,359.5"/>
<path d="M204.3,337.7 Q197.5,342.7 192.3,349.4"/>
<path d="M204.3,337.7 Q235.6,295.2 285.9,311.4"/>
<path d="M204.3,337.7 Q234.6,291.9 285.9,311.4"/>
<path d="M220.1,325.8 Q247.2,292.3 285.9,311.4"/>
<path d="M220.1,325.8 Q246.7,289.6 285.9,311.4"/>
<path d="M204.3,337.7 Q285.0,272.7 386.1,295.0"/>
<path d="M204.3,337.7 Q283.2,265.4 386.1,295.0"/>
<path d="M220.1,325.8 Q295.7,270.6 386.1,295.0"/>
<path d="M220.1,325.8 Q294.5,263.9 386.1,295.0"/>
<path d="M238.3,373.0 Q238.7,324.1 285.9,311.4"/>
<path d="M238.3,373.0 Q236.2,322.2 285.9,311.4"/>
<path d="M204.3,337.7 Q275.8,303.8 346.9,338.4"/>
<path d="M204.3,337.7 Q275.8,298.1 346.9,338.4"/>
<path d="M192.3,349.4 Q224.7,294.8 285.9,311.4"/>
<path d="M192.3,349.4 Q223.1,291.1 285.9,311.4"/>
<path d="M238.3,373.0 Q293.5,298.5 386.1,295.0"/>
<path d="M238.3,373.0 Q290.4,292.6 386.1,295.0"/>
<path d="M204.3,337.7 Q219.6,306.3 253.9,312.6"/>
<path d="M204.3,337.7 Q218.6,304.3 253.9,312.6"/>
<path d="M220.1,325.8 Q231.3,304.7 253.9,312.6"/>
<path d="M220.1,325.8 Q230.8,303.3 253.9,312.6"/>
<path d="M275.2,417.7 L271.0,359.5"/>
<path d="M275.2,417.7 L302.0,366.2"/>
<path d="M275.2,417.7 L326.9,390.5"/>
<path d="M275.2,417.7 L333.0,425.0"/>
<path d="M275.2,417.7 L326.6,445.2"/>
<path d="M275.2,417.7 L314.5,461.1"/>
<path d="M275.2,417.7 L291.6,473.7"/>
<path d="M275.2,417.7 L261.6,474.7"/>
<path d="M275.2,417.7 L240.0,464.3"/>
<path d="M275.2,417.7 L225.6,448.9"/>
<path d="M275.2,417.7 L217.7,428.3"/>
<path d="M275.2,417.7 L217.4,408.0"/>
<path d="M275.2,417.7 L223.1,390.8"/>
<path d="M275.2,417.7 L238.3,373.0"/>
<path d="M275.2,417.7 L184.2,474.6"/>
<path d="M275.2,417.7 L168.5,434.0"/>
<path d="M275.2,417.7 L370.2,368.7"/>
<path d="M275.2,417.7 L377.5,387.0"/>
<path d="M275.2,417.7 L204.3,337.7"/>
<path d="M275.2,417.7 L422.3,341.9"/>
<path d="M275.2,417.7 L359.0,351.3"/>
<path d="M271.0,359.5 Q319.0,338.9 326.9,390.5" stroke-opacity="0.22"/>
<path d="M271.0,359.5 Q370.0,356.4 326.6,445.2" stroke-opacity="0.22"/>
<path d="M302.0,366.2 Q394.5,402.3 314.5,461.1" stroke-opacity="0.22"/>
<path d="M302.0,366.2 Q415.4,431.6 291.6,473.7" stroke-opacity="0.22"/>
<path d="M302.0,366.2 Q140.6,333.2 240.0,464.3" stroke-opacity="0.22"/>
<path d="M326.9,390.5 Q354.0,403.4 333.0,425.0" stroke-opacity="0.22"/>
<path d="M326.9,390.5 Q378.5,461.6 291.6,473.7" stroke-opacity="0.22"/>
<path d="M326.9,390.5 Q377.3,497.3 261.6,474.7" stroke-opacity="0.22"/>
<path d="M333.0,425.0 Q279.7,584.6 217.7,428.3" stroke-opacity="0.22"/>
<path d="M326.6,445.2 Q279.9,550.1 225.6,448.9" stroke-opacity="0.22"/>
<path d="M326.6,445.2 Q225.5,563.3 217.4,408.0" stroke-opacity="0.22"/>
<path d="M314.5,461.1 Q279.7,520.3 240.0,464.3" stroke-opacity="0.22"/>
<path d="M314.5,461.1 Q260.6,523.3 225.6,448.9" stroke-opacity="0.22"/>
<path d="M314.5,461.1 Q232.6,543.2 217.7,428.3" stroke-opacity="0.22"/>
<path d="M314.5,461.1 Q176.7,545.9 223.1,390.8" stroke-opacity="0.22"/>
<path d="M291.6,473.7 Q277.2,494.0 261.6,474.7" stroke-opacity="0.22"/>
<path d="M291.6,473.7 Q141.1,488.8 238.3,373.0" stroke-opacity="0.22"/>
<path d="M261.6,474.7 Q230.2,480.5 225.6,448.9" stroke-opacity="0.22"/>
<path d="M261.6,474.7 Q205.7,483.6 217.7,428.3" stroke-opacity="0.22"/>
<path d="M261.6,474.7 Q192.1,472.8 217.4,408.0" stroke-opacity="0.22"/>
<path d="M261.6,474.7 Q134.2,450.3 238.3,373.0" stroke-opacity="0.22"/>
<path d="M225.6,448.9 Q179.8,421.7 223.1,390.8" stroke-opacity="0.22"/>
<path d="M225.6,448.9 Q174.0,401.2 238.3,373.0" stroke-opacity="0.22"/>
<path d="M217.7,428.3 Q205.0,418.2 217.4,408.0" stroke-opacity="0.22"/>
<path d="M217.7,428.3 Q186.7,385.3 238.3,373.0" stroke-opacity="0.22"/>
<path d="M217.7,428.3 Q196.5,311.4 302.0,366.2" stroke-opacity="0.22"/>
<path d="M217.4,408.0 Q227.3,321.5 302.0,366.2" stroke-opacity="0.22"/>
<path d="M217.4,408.0 Q223.5,569.3 326.6,445.2" stroke-opacity="0.22"/>
<path d="M223.1,390.8 Q245.7,324.5 302.0,366.2" stroke-opacity="0.22"/>
<path d="M223.1,390.8 Q274.7,294.6 326.9,390.5" stroke-opacity="0.22"/>
<path d="M223.1,390.8 Q317.7,281.0 333.0,425.0" stroke-opacity="0.22"/>
<path d="M223.1,390.8 Q177.1,545.3 314.5,461.1" stroke-opacity="0.22"/>
<path d="M238.3,373.0 Q296.6,309.9 326.9,390.5" stroke-opacity="0.22"/>
<path d="M238.3,373.0 Q333.9,310.7 333.0,425.0" stroke-opacity="0.22"/>
<path d="M238.3,373.0 Q368.4,303.7 326.6,445.2" stroke-opacity="0.22"/>
<path d="M238.3,373.0 Q394.6,314.3 314.5,461.1" stroke-opacity="0.22"/>
<path d="M238.3,373.0 Q130.4,494.5 291.6,473.7" stroke-opacity="0.22"/>
<path d="M238.3,373.0 Q153.2,420.3 240.0,464.3" stroke-opacity="0.22"/>
<path d="M238.3,373.0 Q137.5,449.5 261.6,474.7" stroke-opacity="0.22"/>
<path d="M271.0,359.5 Q149.1,380.8 240.0,464.3" stroke-opacity="0.22"/>
<path d="M223.1,390.8 Q166.3,467.8 261.6,474.7" stroke-opacity="0.22"/>
<path d="M223.1,390.8 Q160.1,443.9 240.0,464.3" stroke-opacity="0.22"/>
<path d="M238.3,373.0 Q152.8,397.7 225.6,448.9" stroke-opacity="0.22"/>
<path d="M271.0,359.5 Q161.0,360.0 225.6,448.9" stroke-opacity="0.22"/>
<path d="M271.0,359.5 Q185.0,348.0 217.7,428.3" stroke-opacity="0.22"/>
<path d="M238.3,373.0 Q180.7,383.1 217.7,428.3" stroke-opacity="0.22"/>
<path d="M223.1,390.8 Q166.1,422.2 225.6,448.9" stroke-opacity="0.22"/>
<path d="M271.0,359.5 Q132.0,406.4 261.6,474.7" stroke-opacity="0.22"/>
<path d="M238.3,373.0 Q138.6,490.2 291.6,473.7" stroke-opacity="0.22"/>
<path d="M271.0,359.5 Q194.4,328.6 217.4,408.0" stroke-opacity="0.22"/>
<path d="M302.0,366.2 Q174.6,325.2 225.6,448.9" stroke-opacity="0.22"/>
<path d="M302.0,366.2 Q198.8,314.6 217.7,428.3" stroke-opacity="0.22"/>
<path d="M302.0,366.2 Q138.9,332.2 240.0,464.3" stroke-opacity="0.22"/>
<path d="M271.0,359.5 Q329.9,319.3 326.9,390.5" stroke-opacity="0.22"/>
<path d="M238.3,373.0 Q344.3,291.8 333.0,425.0" stroke-opacity="0.22"/>
<path d="M238.3,373.0 Q298.3,301.7 326.9,390.5" stroke-opacity="0.22"/>
<path d="M223.1,390.8 Q274.7,294.5 326.9,390.5" stroke-opacity="0.22"/>
<path d="M302.0,366.2 Q383.1,384.3 326.6,445.2" stroke-opacity="0.22"/>
<path d="M271.0,359.5 Q389.9,343.4 326.6,445.2" stroke-opacity="0.22"/>
<path d="M271.0,359.5 Q398.8,365.0 314.5,461.1" stroke-opacity="0.22"/>
<path d="M326.9,390.5 Q384.3,464.1 291.6,473.7" stroke-opacity="0.22"/>
<path d="M333.0,425.0 Q342.6,515.0 261.6,474.7" stroke-opacity="0.22"/>
<path d="M326.6,445.2 Q321.0,519.2 261.6,474.7" stroke-opacity="0.22"/>
<path d="M333.0,425.0 Q324.9,535.9 240.0,464.3" stroke-opacity="0.22"/>
<path d="M326.9,390.5 Q388.9,506.3 261.6,474.7" stroke-opacity="0.22"/>
<path d="M204.3,337.7 Q191.7,409.6 240.0,464.3"/>
<path d="M204.3,337.7 Q185.4,411.4 240.0,464.3"/>
<path d="M204.3,337.7 Q189.9,398.1 225.6,448.9"/>
<path d="M204.3,337.7 Q184.3,399.2 225.6,448.9"/>
<path d="M204.3,337.7 Q182.1,387.3 217.7,428.3"/>
<path d="M204.3,337.7 Q177.5,387.9 217.7,428.3"/>
<path d="M220.1,325.8 Q193.0,366.1 217.4,408.0"/>
<path d="M220.1,325.8 Q188.9,365.9 217.4,408.0"/>
<path d="M220.1,325.8 Q185.2,401.5 240.0,464.3"/>
<path d="M220.1,325.8 Q178.3,402.5 240.0,464.3"/>
<path d="M204.3,337.7 Q196.2,421.6 261.6,474.7"/>
<path d="M204.3,337.7 Q189.3,424.4 261.6,474.7"/>
<path d="M223.1,390.8 Q186.9,424.9 184.2,474.6"/>
<path d="M223.1,390.8 Q189.3,404.2 168.5,434.0"/>
<path d="M217.4,408.0 Q187.5,434.7 184.2,474.6"/>
<path d="M217.4,408.0 Q189.0,413.7 168.5,434.0"/>
<path d="M217.7,428.3 Q191.7,444.8 184.2,474.6"/>
<path d="M217.7,428.3 Q194.0,438.5 168.5,434.0"/>
<path d="M225.6,448.9 Q210.0,470.0 184.2,474.6"/>
<path d="M225.6,448.9 Q194.8,450.0 168.5,434.0"/>
<path d="M240.0,464.3 Q214.2,480.6 184.2,474.6"/>
<path d="M240.0,464.3 Q199.7,459.9 168.5,434.0"/>
<path d="M238.3,373.0 Q190.9,413.0 184.2,474.6"/>
<path d="M238.3,373.0 Q194.2,393.0 168.5,434.0"/>
<path d="M261.6,474.7 Q222.9,490.1 184.2,474.6"/>
<path d="M261.6,474.7 Q208.9,468.3 168.5,434.0"/>
<path d="M168.5,434.0 Q165.8,458.4 184.2,474.6"/>
<path d="M168.5,434.0 Q162.5,459.6 184.2,474.6"/>
<path d="M184.2,474.6 L124.6,487.1"/>
<path d="M184.2,474.6 L140.2,513.8"/>
<path d="M168.5,434.0 L124.6,487.1"/>
<path d="M124.6,487.1 C100.0,500.0 110.0,525.0 140.2,513.8"/>
<path d="M124.6,487.1 Q127.1,503.6 140.2,513.8"/>
<path d="M386.1,295.0 Q361.8,312.5 346.9,338.4"/>
<path d="M386.1,295.0 Q366.8,320.4 359.0,351.3"/>
<path d="M386.1,295.0 Q337.1,309.9 285.9,311.4"/>
<path d="M346.9,338.4 Q352.2,345.6 359.0,351.3"/>
<path d="M359.0,351.3 Q354.7,410.6 369.4,468.3"/>
<path d="M346.9,338.4 Q353.1,404.2 369.4,468.3"/>
<path d="M422.3,341.9 Q396.1,355.1 370.2,368.7"/>
<path d="M422.3,341.9 Q397.6,357.9 370.2,368.7"/>
<path d="M422.3,341.9 Q401.6,366.2 377.5,387.0"/>
<path d="M370.2,368.7 Q375.0,377.4 377.5,387.0"/>
<path d="M370.2,368.7 Q402.0,362.9 433.5,370.2"/>
<path d="M377.5,387.0 Q405.9,379.8 433.5,370.2"/>
<path d="M377.5,387.0 Q408.7,388.3 439.1,395.8"/>
<path d="M377.5,387.0 Q432.2,396.6 487.3,389.9"/>
<path d="M433.5,370.2 Q462.6,374.2 487.3,389.9"/>
<path d="M433.5,370.2 Q391.9,413.0 369.4,468.3"/>
<path d="M439.1,395.8 Q463.5,395.1 487.3,389.9"/>
<path d="M381.0,404.0 Q410.9,405.8 439.1,395.8"/>
<path d="M381.0,404.0 Q398.4,445.1 429.7,477.0"/>
<path d="M487.3,389.9 Q450.1,427.9 429.7,477.0"/>
<path d="M439.1,395.8 Q432.9,436.2 429.7,477.0"/>
<path d="M377.5,387.0 Q382.9,428.6 369.4,468.3"/>
<path d="M370.2,368.7 Q347.3,377.1 326.9,390.5"/>
<path d="M422.3,341.9 Q378.4,373.7 326.9,390.5"/>
<path d="M326.9,390.5 Q352.0,386.3 377.5,387.0"/>
<path d="M333.0,425.0 Q356.7,407.7 377.5,387.0"/>
<path d="M359.0,351.3 Q342.7,370.7 326.9,390.5"/>
<path d="M302.0,366.2 Q330.2,357.6 359.0,351.3"/>
<path d="M302.0,366.2 Q335.8,374.6 370.2,368.7"/>
<path d="M271.0,359.5 Q320.4,366.8 370.2,368.7"/>
<path d="M369.4,468.3 Q399.9,470.4 429.7,477.0"/>
<path d="M369.4,468.3 Q395.1,483.5 416.5,504.2"/>
<path d="M429.7,477.0 Q420.7,489.5 416.5,504.2"/>
<path d="M381.0,404.0 Q375.6,436.2 369.4,468.3"/>
<path d="M370.2,368.7 Q373.2,387.1 381.0,404.0"/>
<path d="M433.5,370.2 Q437.2,382.8 439.1,395.8"/>
<path d="M422.3,341.9 C470.0,330.0 470.0,380.0 439.1,395.8"/>
<path d="M433.5,370.2 C475.0,390.0 470.0,470.0 429.7,477.0"/>
<path d="M433.5,370.2 C468.0,395.0 468.0,470.0 429.7,477.0"/>
<path d="M487.3,389.9 C470.0,440.0 460.0,475.0 429.7,477.0"/>
<path d="M369.4,468.3 C395.0,490.0 420.0,490.0 429.7,477.0"/>
<path d="M326.9,390.5 Q355.2,425.5 369.4,468.3"/>
<path d="M333.0,425.0 Q350.8,447.0 369.4,468.3"/>
<path d="M326.6,445.2 Q345.8,460.8 369.4,468.3"/>
<path d="M333.0,425.0 Q329.6,474.9 307.6,519.7"/>
<path d="M326.6,445.2 Q310.6,480.8 307.6,519.7"/>
<path d="M314.5,461.1 Q303.6,489.5 307.6,519.7"/>
<path d="M291.6,473.7 Q295.4,498.2 307.6,519.7"/>
<path d="M326.9,390.5 Q304.7,453.2 307.6,519.7"/>
<path d="M314.5,461.1 Q309.7,496.9 286.2,524.4"/>
<path d="M291.6,473.7 Q286.9,498.8 286.2,524.4"/>
<path d="M261.6,474.7 Q250.7,497.2 250.2,522.2"/>
<path d="M326.6,445.2 Q335.3,478.6 325.9,511.9"/>
<path d="M333.0,425.0 Q335.4,468.9 325.9,511.9"/>
<path d="M314.5,461.1 Q323.7,485.7 325.9,511.9"/>
<path d="M369.4,468.3 Q347.3,489.7 325.9,511.9"/>
<path d="M326.6,445.2 Q329.0,510.5 325.3,575.7"/>
<path d="M333.0,425.0 Q330.4,500.4 325.3,575.7"/>
<path d="M326.9,390.5 Q349.6,459.9 307.6,519.7"/>
<path d="M333.0,425.0 Q351.2,470.2 325.9,511.9"/>
<path d="M326.6,445.2 Q335.7,487.2 307.6,519.7"/>
<path d="M333.0,425.0 Q362.0,437.5 369.4,468.3"/>
<path d="M140.2,513.8 Q117.2,523.2 95.7,535.5"/>
<path d="M140.2,513.8 Q127.1,535.9 109.2,554.2"/>
<path d="M95.7,535.5 Q76.8,551.0 55.0,562.2"/>
<path d="M109.2,554.2 Q82.5,560.6 55.0,562.2"/>
<path d="M250.2,522.2 Q235.7,548.9 216.6,572.6"/>
<path d="M250.2,522.2 Q249.5,551.5 242.9,580.1"/>
<path d="M250.2,522.2 Q253.5,553.5 263.7,583.2"/>
<path d="M216.6,572.6 Q201.3,592.2 189.5,614.2"/>
<path d="M216.6,572.6 Q215.4,597.6 209.4,621.9"/>
<path d="M189.5,614.2 Q179.6,636.4 169.8,658.7"/>
<path d="M189.5,614.2 Q193.2,641.3 194.5,668.6"/>
<path d="M209.4,621.9 Q190.4,641.2 169.8,658.7"/>
<path d="M209.4,621.9 Q202.8,645.5 194.5,668.6"/>
<path d="M169.8,658.7 Q161.4,676.3 154.2,694.4"/>
<path d="M194.5,668.6 Q174.1,681.1 154.2,694.4"/>
<path d="M189.5,614.2 Q173.2,654.9 154.2,694.4"/>
<path d="M286.2,524.4 Q291.3,553.3 292.0,582.6"/>
<path d="M286.2,524.4 Q290.3,553.4 292.0,582.6"/>
<path d="M307.6,519.7 Q302.6,551.9 292.0,582.6"/>
<path d="M307.6,519.7 Q316.1,547.8 325.3,575.7"/>
<path d="M286.2,524.4 Q297.0,522.6 307.6,519.7"/>
<path d="M307.6,519.7 Q316.6,515.5 325.9,511.9"/>
<path d="M325.9,511.9 Q370.8,503.5 416.5,504.2"/>
<path d="M416.5,504.2 Q438.2,515.1 457.9,529.2"/>
<path d="M457.9,529.2 Q481.4,537.1 504.3,546.5"/>
<path d="M457.9,529.2 Q472.7,550.5 488.6,571.0"/>
<path d="M504.3,546.5 Q520.6,557.1 538.2,565.4"/>
<path d="M325.3,575.7 Q390.9,550.5 457.9,529.2"/>
<path d="M314.5,461.1 Q308.9,490.2 307.6,519.7"/>
<path d="M291.6,473.7 Q290.2,528.2 292.0,582.6"/>
<path d="M95.7,535.5 Q91.2,553.0 109.2,554.2"/>
<path d="M216.6,572.6 Q223.0,600.0 242.9,580.1"/>
<path d="M242.9,580.1 Q250.2,602.5 263.7,583.2"/>
<path d="M216.6,572.6 Q232.2,613.2 263.7,583.2"/>
<path d="M216.6,572.6 Q225.2,592.1 242.9,580.1"/>
<path d="M242.9,580.1 Q251.1,596.2 263.7,583.2"/>
<path d="M189.5,614.2 Q166.3,630.5 169.8,658.7"/>
<path d="M209.4,621.9 Q180.4,630.4 169.8,658.7"/>
<path d="M169.8,658.7 Q178.7,672.3 194.5,668.6"/>
<path d="M189.5,614.2 Q202.9,640.4 194.5,668.6"/>
<path d="M169.8,658.7 Q151.3,671.9 154.2,694.4"/>
<path d="M504.3,546.5 C520.0,560.0 520.0,600.0 488.6,571.0"/>
<path d="M504.3,546.5 C525.0,560.0 515.0,605.0 488.6,571.0"/>
<path d="M307.6,519.7 C330.0,500.0 350.0,490.0 325.9,511.9"/>
<path d="M307.6,519.7 Q320.7,524.9 325.9,511.9"/>
<path d="M325.9,511.9 Q365.1,507.5 369.4,468.3"/>
<path d="M307.6,519.7 Q353.9,512.5 369.4,468.3"/>
</g>
<g stroke="#4b3f9a" stroke-width="0.6">
<circle cx="265.4" cy="203.6" r="5.3" fill="#f07b77"/>
<circle cx="285.6" cy="203.6" r="5.5" fill="#3daf4c"/>
<circle cx="308" cy="206" r="5.3" fill="#f07b77"/>
<circle cx="328.7" cy="210.2" r="5.3" fill="#f07b77"/>
<circle cx="292.2" cy="253" r="4.8" fill="#f07b77"/>
<circle cx="242.5" cy="255.4" r="4.5" fill="#a9d58a"/>
<circle cx="215.2" cy="263.3" r="3.5" fill="#a0522d"/>
<circle cx="236.3" cy="317.8" r="3.1" fill="#a0522d"/>
<circle cx="253.9" cy="312.6" r="5.4" fill="#a9d58a"/>
<circle cx="285.9" cy="311.4" r="4.5" fill="#b27ac8"/>
<circle cx="220.1" cy="325.8" r="4.5" fill="#f8c4dc"/>
<circle cx="204.3" cy="337.7" r="5.5" fill="#3daf4c"/>
<circle cx="192.3" cy="349.4" r="2.1" fill="#88c8e0"/>
<circle cx="271" cy="359.5" r="5.5" fill="#8a4aa8"/>
<circle cx="302" cy="366.2" r="5.5" fill="#f0e33e"/>
<circle cx="238.3" cy="373" r="5.5" fill="#80d2c3"/>
<circle cx="386.1" cy="295" r="2.8" fill="#b27ac8"/>
<circle cx="346.9" cy="338.4" r="3" fill="#b27ac8"/>
<circle cx="359" cy="351.3" r="5.6" fill="#b27ac8"/>
<circle cx="422.3" cy="341.9" r="5.5" fill="#8e8e8e"/>
<circle cx="370.2" cy="368.7" r="5.5" fill="#8e8e8e"/>
<circle cx="433.5" cy="370.2" r="4" fill="#f6a863"/>
<circle cx="223.1" cy="390.8" r="4.6" fill="#8a4aa8"/>
<circle cx="217.4" cy="408" r="4.6" fill="#8a4aa8"/>
<circle cx="217.7" cy="428.3" r="5.5" fill="#8a4aa8"/>
<circle cx="275.2" cy="417.7" r="5.5" fill="#ef84bb"/>
<circle cx="326.9" cy="390.5" r="5.5" fill="#e8304f"/>
<circle cx="333" cy="425" r="5.5" fill="#e8304f"/>
<circle cx="326.6" cy="445.2" r="5.5" fill="#b27ac8"/>
<circle cx="225.6" cy="448.9" r="5.5" fill="#80d2c3"/>
<circle cx="240" cy="464.3" r="5.5" fill="#80d2c3"/>
<circle cx="261.6" cy="474.7" r="5.5" fill="#e8222f"/>
<circle cx="314.5" cy="461.1" r="4.5" fill="#f08131"/>
<circle cx="291.6" cy="473.7" r="4" fill="#f08131"/>
<circle cx="168.5" cy="434" r="5.5" fill="#f08131"/>
<circle cx="184.2" cy="474.6" r="5.5" fill="#8a4aa8"/>
<circle cx="377.5" cy="387" r="4.5" fill="#8e8e8e"/>
<circle cx="381" cy="404" r="3.6" fill="#d3d3d6"/>
<circle cx="439.1" cy="395.8" r="3" fill="#f6a863"/>
<circle cx="487.3" cy="389.9" r="3" fill="#f6a863"/>
<circle cx="369.4" cy="468.3" r="4.2" fill="#d3d3d6"/>
<circle cx="429.7" cy="477" r="3" fill="#f6a863"/>
<circle cx="124.6" cy="487.1" r="3.1" fill="#a0522d"/>
<circle cx="140.2" cy="513.8" r="5.5" fill="#a0522d"/>
<circle cx="95.7" cy="535.5" r="2.5" fill="#7eb3e4"/>
<circle cx="109.2" cy="554.2" r="2.5" fill="#7eb3e4"/>
<circle cx="55" cy="562.2" r="1.8" fill="#7eb3e4"/>
<circle cx="250.2" cy="522.2" r="5.5" fill="#aeaad8"/>
<circle cx="286.2" cy="524.4" r="5.5" fill="#f8f1b5"/>
<circle cx="307.6" cy="519.7" r="5.5" fill="#f08131"/>
<circle cx="325.9" cy="511.9" r="4.5" fill="#d3d3d6"/>
<circle cx="216.6" cy="572.6" r="5.5" fill="#aeaad8"/>
<circle cx="242.9" cy="580.1" r="5.5" fill="#aeaad8"/>
<circle cx="263.7" cy="583.2" r="5.5" fill="#aeaad8"/>
<circle cx="292" cy="582.6" r="5.5" fill="#f8f1b5"/>
<circle cx="325.3" cy="575.7" r="5.5" fill="#3175c2"/>
<circle cx="416.5" cy="504.2" r="5.5" fill="#3175c2"/>
<circle cx="457.9" cy="529.2" r="5.5" fill="#3175c2"/>
<circle cx="504.3" cy="546.5" r="3" fill="#c8e6c6"/>
<circle cx="488.6" cy="571" r="5.5" fill="#c8e6c6"/>
<circle cx="538.2" cy="565.4" r="4" fill="#c8e6c6"/>
<circle cx="189.5" cy="614.2" r="5.5" fill="#e87ab8"/>
<circle cx="209.4" cy="621.9" r="5.5" fill="#e87ab8"/>
<circle cx="169.8" cy="658.7" r="3.5" fill="#e87ab8"/>
<circle cx="194.5" cy="668.6" r="2.5" fill="#e87ab8"/>
<circle cx="154.2" cy="694.4" r="1.8" fill="#e87ab8"/>
</g>
<text x="212.8" y="198.3" font-size="11" text-anchor="start" fill="#1a1a1a">Synaptic</text>
<text x="212.8" y="209.1" font-size="11" text-anchor="start" fill="#1a1a1a">plasticity</text>
<text x="212.8" y="220.1" font-size="11" text-anchor="start" fill="#1a1a1a">regulation</text>
<text x="337.6" y="207.3" font-size="11" text-anchor="start" fill="#1a1a1a">Learning or</text>
<text x="337.6" y="218.5" font-size="11" text-anchor="start" fill="#1a1a1a">memory</text>
<text x="235.8" y="271.3" font-size="11" text-anchor="start" fill="#1a1a1a">Ligand-gated ion</text>
<text x="235.8" y="282.0" font-size="11" text-anchor="start" fill="#1a1a1a">channel signaling</text>
<text x="294.6" y="300.6" font-size="11" text-anchor="start" fill="#1a1a1a">NMDA receptors</text>
<text x="294.6" y="311.5" font-size="11" text-anchor="start" fill="#1a1a1a">and postsynaptic</text>
<text x="294.6" y="322.5" font-size="11" text-anchor="start" fill="#1a1a1a">events</text>
<text x="392.5" y="298.9" font-size="11" text-anchor="start" fill="#1a1a1a">Calcium signaling</text>
<text x="188.6" y="304.1" font-size="11" text-anchor="start" fill="#1a1a1a">Glutamatergic</text>
<text x="188.6" y="315.3" font-size="11" text-anchor="start" fill="#1a1a1a">synapse</text>
<text x="366.0" y="332.4" font-size="11" text-anchor="start" fill="#1a1a1a">RAS signaling</text>
<text x="366.0" y="343.8" font-size="11" text-anchor="start" fill="#1a1a1a">pathway</text>
<text x="284.2" y="345.3" font-size="11" text-anchor="start" fill="#1a1a1a">Calcium</text>
<text x="284.2" y="356.5" font-size="11" text-anchor="start" fill="#1a1a1a">regulation</text>
<text x="442.9" y="374.1" font-size="11" text-anchor="start" fill="#1a1a1a">Action potential regulation</text>
<text x="188.6" y="363.2" font-size="11" text-anchor="start" fill="#1a1a1a">Serotonergic</text>
<text x="188.6" y="374.3" font-size="11" text-anchor="start" fill="#1a1a1a">synapse</text>
<text x="253.6" y="397.5" font-size="11" text-anchor="start" fill="#1a1a1a">Oxytocin</text>
<text x="253.6" y="410.4" font-size="11" text-anchor="start" fill="#1a1a1a">signaling</text>
<text x="314.2" y="407.2" font-size="11" text-anchor="start" fill="#1a1a1a">Adrenergic</text>
<text x="314.2" y="417.6" font-size="11" text-anchor="start" fill="#1a1a1a">signaling</text>
<text x="387.5" y="408.9" font-size="11" text-anchor="start" fill="#1a1a1a">Ion transport by</text>
<text x="387.5" y="419.3" font-size="11" text-anchor="start" fill="#1a1a1a">P-type ATPases</text>
<text x="90.5" y="425.7" font-size="11" text-anchor="start" fill="#1a1a1a">Gαi signaling events</text>
<text x="335.6" y="449.9" font-size="11" text-anchor="start" fill="#1a1a1a">MAPK signaling</text>
<text x="236.5" y="441.7" font-size="11" text-anchor="start" fill="#1a1a1a">Dopaminergic</text>
<text x="236.5" y="455.1" font-size="11" text-anchor="start" fill="#1a1a1a">synapse</text>
<text x="28.3" y="478.8" font-size="11" text-anchor="start" fill="#1a1a1a">Ionotropic glutamate</text>
<text x="28.3" y="489.0" font-size="11" text-anchor="start" fill="#1a1a1a">receptor signaling</text>
<text x="159.1" y="492.5" font-size="11" text-anchor="start" fill="#1a1a1a">GPCR signaling</text>
<text x="300.8" y="477.6" font-size="11" text-anchor="start" fill="#1a1a1a">cAMP</text>
<text x="300.8" y="489.3" font-size="11" text-anchor="start" fill="#1a1a1a">signaling</text>
<text x="334.5" y="510.7" font-size="11" text-anchor="start" fill="#1a1a1a">Ion channel</text>
<text x="334.5" y="521.7" font-size="11" text-anchor="start" fill="#1a1a1a">transport</text>
<text x="116.9" y="529.9" font-size="11" text-anchor="start" fill="#1a1a1a">G protein-coupled</text>
<text x="116.9" y="540.9" font-size="11" text-anchor="start" fill="#1a1a1a">pathway</text>
<text x="467.4" y="523.2" font-size="11" text-anchor="start" fill="#1a1a1a">Voltage gated</text>
<text x="467.4" y="534.6" font-size="11" text-anchor="start" fill="#1a1a1a">potassium channels</text>
<text x="265.4" y="542.2" font-size="11" text-anchor="start" fill="#1a1a1a">Calcium</text>
<text x="265.4" y="552.7" font-size="11" text-anchor="start" fill="#1a1a1a">transport</text>
<text x="433.6" y="562.7" font-size="11" text-anchor="start" fill="#1a1a1a">Potassium</text>
<text x="433.6" y="573.7" font-size="11" text-anchor="start" fill="#1a1a1a">channels</text>
<text x="546.4" y="562.6" font-size="11" text-anchor="start" fill="#1a1a1a">Protein complex</text>
<text x="546.4" y="573.3" font-size="11" text-anchor="start" fill="#1a1a1a">oligomerization</text>
<text x="335.7" y="567.6" font-size="11" text-anchor="start" fill="#1a1a1a">Intracellular</text>
<text x="335.7" y="579.0" font-size="11" text-anchor="start" fill="#1a1a1a">calcium</text>
<text x="335.7" y="589.6" font-size="11" text-anchor="start" fill="#1a1a1a">homeostasis</text>
<text x="34.4" y="575.9" font-size="11" text-anchor="start" fill="#1a1a1a">Glutamate signaling</text>
<text x="34.4" y="586.6" font-size="11" text-anchor="start" fill="#1a1a1a">receptors pathway</text>
<text x="218.4" y="626.5" font-size="11" text-anchor="start" fill="#1a1a1a">Gliogenesis</text>
<text x="200.9" y="664.1" font-size="11" text-anchor="start" fill="#1a1a1a">Astrocyte</text>
<text x="200.9" y="676.3" font-size="11" text-anchor="start" fill="#1a1a1a">activation</text>
<text x="29.7" y="724.3" font-size="13.4" text-anchor="start" fill="#1a1a1a">Total = 3681 GSEA Terms</text>
<circle cx="33.4" cy="736.6" r="3.7" fill="#666"/>
<circle cx="33.4" cy="752.2" r="3.7" fill="#ec6a4a"/>
<text x="41.5" y="739.5" font-size="13" text-anchor="start" fill="#1a1a1a">Non-Significant</text>
<text x="41.5" y="754.9" font-size="13" text-anchor="start" fill="#1a1a1a">adj P-value and GSEA FC</text>
<g stroke="#dfe2f2" stroke-width="0.8">
<path d="M172.9,763 L172.9,908"/>
<path d="M246.8,763 L246.8,908"/>
<path d="M299.6,763 L299.6,908"/>
</g>
<g stroke="#222" stroke-width="1" fill="none">
<path d="M42.7,777.9 L42.7,899.8"/>
<path d="M38.6,899.5 L42.7,899.5"/>
<path d="M38.6,838.7 L42.7,838.7"/>
<path d="M38.6,777.9 L42.7,777.9"/>
<path d="M46.2,908.9 L300,908.9"/>
<path d="M46.4,908.9 L46.4,912.4"/>
<path d="M109.7,908.9 L109.7,912.4"/>
<path d="M173.0,908.9 L173.0,912.4"/>
<path d="M236.3,908.9 L236.3,912.4"/>
<path d="M299.6,908.9 L299.6,912.4"/>
</g>
<text x="36.2" y="903.7" font-size="13" text-anchor="end" fill="#1a1a1a">0</text>
<text x="36.2" y="842.9" font-size="13" text-anchor="end" fill="#1a1a1a">4</text>
<text x="36.2" y="782.1" font-size="13" text-anchor="end" fill="#1a1a1a">8</text>
<text x="46.4" y="927.3" font-size="13" text-anchor="middle" fill="#1a1a1a">-15</text>
<text x="109.7" y="927.3" font-size="13" text-anchor="middle" fill="#1a1a1a">-10</text>
<text x="173.0" y="927.3" font-size="13" text-anchor="middle" fill="#1a1a1a">-5</text>
<text x="236.3" y="927.3" font-size="13" text-anchor="middle" fill="#1a1a1a">0</text>
<text x="299.6" y="927.3" font-size="13" text-anchor="middle" fill="#1a1a1a">5</text>
<text x="183.2" y="945.9" font-size="13.6" text-anchor="middle" fill="#1a1a1a">GSEA Terms Mean fold changes</text>
<text x="19.2" y="840.0" font-size="13.4" text-anchor="middle" fill="#1a1a1a" transform="rotate(-90 19.2 840.0)">-Log10 adj P-values</text>
<g fill="#4b5054">
<circle cx="244.2" cy="878.6" r="2.5"/>
<circle cx="251.4" cy="877.0" r="2.5"/>
<circle cx="249.1" cy="876.1" r="2.5"/>
<circle cx="219.3" cy="896.0" r="2.5"/>
<circle cx="257.6" cy="888.2" r="2.5"/>
<circle cx="255.8" cy="893.3" r="2.5"/>
<circle cx="237.7" cy="889.6" r="2.5"/>
<circle cx="240.9" cy="881.1" r="2.5"/>
<circle cx="218.6" cy="898.0" r="2.5"/>
<circle cx="229.8" cy="883.3" r="2.5"/>
<circle cx="250.2" cy="889.9" r="2.5"/>
<circle cx="251.5" cy="890.9" r="2.5"/>
<circle cx="243.9" cy="890.8" r="2.5"/>
<circle cx="218.1" cy="897.9" r="2.5"/>
<circle cx="226.8" cy="892.5" r="2.5"/>
<circle cx="259.2" cy="893.2" r="2.5"/>
<circle cx="230.2" cy="882.6" r="2.5"/>
<circle cx="240.7" cy="879.7" r="2.5"/>
<circle cx="226.7" cy="884.9" r="2.5"/>
<circle cx="247.0" cy="875.6" r="2.5"/>
<circle cx="255.5" cy="889.0" r="2.5"/>
<circle cx="233.2" cy="892.1" r="2.5"/>
<circle cx="224.2" cy="896.2" r="2.5"/>
<circle cx="230.7" cy="886.0" r="2.5"/>
<circle cx="218.2" cy="897.9" r="2.5"/>
<circle cx="232.2" cy="889.6" r="2.5"/>
<circle cx="252.4" cy="883.8" r="2.5"/>
<circle cx="231.3" cy="887.3" r="2.5"/>
<circle cx="247.6" cy="893.7" r="2.5"/>
<circle cx="258.9" cy="898.0" r="2.5"/>
<circle cx="249.5" cy="877.1" r="2.5"/>
<circle cx="218.8" cy="896.1" r="2.5"/>
<circle cx="233.4" cy="885.7" r="2.5"/>
<circle cx="218.5" cy="898.0" r="2.5"/>
<circle cx="225.7" cy="885.5" r="2.5"/>
<circle cx="226.3" cy="886.6" r="2.5"/>
<circle cx="257.0" cy="884.5" r="2.5"/>
<circle cx="232.5" cy="888.8" r="2.5"/>
<circle cx="240.1" cy="879.1" r="2.5"/>
<circle cx="222.6" cy="890.3" r="2.5"/>
<circle cx="251.5" cy="878.0" r="2.5"/>
<circle cx="219.6" cy="893.5" r="2.5"/>
<circle cx="221.9" cy="893.9" r="2.5"/>
<circle cx="243.7" cy="876.2" r="2.5"/>
<circle cx="232.3" cy="882.3" r="2.5"/>
<circle cx="240.9" cy="885.9" r="2.5"/>
<circle cx="231.3" cy="892.1" r="2.5"/>
<circle cx="221.3" cy="896.1" r="2.5"/>
<circle cx="246.9" cy="875.2" r="2.5"/>
<circle cx="224.8" cy="896.5" r="2.5"/>
<circle cx="259.4" cy="895.4" r="2.5"/>
<circle cx="235.1" cy="890.4" r="2.5"/>
<circle cx="243.0" cy="877.4" r="2.5"/>
<circle cx="237.2" cy="887.0" r="2.5"/>
<circle cx="220.4" cy="892.2" r="2.5"/>
<circle cx="219.4" cy="895.5" r="2.5"/>
<circle cx="253.2" cy="891.5" r="2.5"/>
<circle cx="248.7" cy="875.8" r="2.5"/>
<circle cx="244.5" cy="877.9" r="2.5"/>
<circle cx="222.5" cy="892.5" r="2.5"/>
<circle cx="224.3" cy="887.5" r="2.5"/>
<circle cx="230.4" cy="887.8" r="2.5"/>
<circle cx="259.9" cy="897.2" r="2.5"/>
<circle cx="259.0" cy="893.9" r="2.5"/>
<circle cx="238.5" cy="881.5" r="2.5"/>
<circle cx="238.1" cy="888.5" r="2.5"/>
<circle cx="235.0" cy="892.4" r="2.5"/>
<circle cx="233.9" cy="881.3" r="2.5"/>
<circle cx="258.3" cy="889.8" r="2.5"/>
<circle cx="239.0" cy="886.9" r="2.5"/>
<circle cx="221.8" cy="894.5" r="2.5"/>
<circle cx="250.8" cy="877.6" r="2.5"/>
<circle cx="233.2" cy="883.4" r="2.5"/>
<circle cx="250.5" cy="879.7" r="2.5"/>
<circle cx="245.9" cy="878.3" r="2.5"/>
<circle cx="233.3" cy="884.3" r="2.5"/>
<circle cx="229.8" cy="887.6" r="2.5"/>
<circle cx="250.3" cy="879.7" r="2.5"/>
<circle cx="230.4" cy="882.6" r="2.5"/>
<circle cx="245.3" cy="881.0" r="2.5"/>
<circle cx="218.6" cy="897.3" r="2.5"/>
<circle cx="228.6" cy="886.2" r="2.5"/>
<circle cx="237.5" cy="881.9" r="2.5"/>
<circle cx="245.2" cy="877.8" r="2.5"/>
<circle cx="232.6" cy="885.1" r="2.5"/>
<circle cx="249.0" cy="877.4" r="2.5"/>
<circle cx="232.7" cy="883.0" r="2.5"/>
<circle cx="254.5" cy="881.8" r="2.5"/>
<circle cx="259.0" cy="891.4" r="2.5"/>
<circle cx="239.8" cy="882.9" r="2.5"/>
<circle cx="225.0" cy="886.7" r="2.5"/>
<circle cx="257.4" cy="889.4" r="2.5"/>
<circle cx="247.0" cy="878.9" r="2.5"/>
<circle cx="248.7" cy="889.4" r="2.5"/>
<circle cx="250.8" cy="881.5" r="2.5"/>
<circle cx="246.0" cy="883.7" r="2.5"/>
<circle cx="244.2" cy="878.1" r="2.5"/>
<circle cx="244.8" cy="878.9" r="2.5"/>
<circle cx="219.2" cy="897.5" r="2.5"/>
<circle cx="236.6" cy="884.1" r="2.5"/>
<circle cx="227.2" cy="886.8" r="2.5"/>
<circle cx="244.5" cy="894.5" r="2.5"/>
<circle cx="237.8" cy="890.0" r="2.5"/>
<circle cx="220.3" cy="896.8" r="2.5"/>
<circle cx="231.4" cy="892.0" r="2.5"/>
<circle cx="226.2" cy="896.7" r="2.5"/>
<circle cx="237.6" cy="887.4" r="2.5"/>
<circle cx="243.7" cy="880.8" r="2.5"/>
<circle cx="228.0" cy="884.4" r="2.5"/>
<circle cx="218.1" cy="898.0" r="2.5"/>
<circle cx="229.7" cy="888.6" r="2.5"/>
<circle cx="222.9" cy="889.4" r="2.5"/>
<circle cx="233.7" cy="896.0" r="2.5"/>
<circle cx="243.8" cy="892.0" r="2.5"/>
<circle cx="240.9" cy="885.3" r="2.5"/>
<circle cx="242.4" cy="875.7" r="2.5"/>
<circle cx="252.4" cy="884.9" r="2.5"/>
<circle cx="252.1" cy="881.3" r="2.5"/>
<circle cx="233.6" cy="892.6" r="2.5"/>
<circle cx="243.0" cy="881.2" r="2.5"/>
<circle cx="258.2" cy="887.2" r="2.5"/>
<circle cx="243.6" cy="885.1" r="2.5"/>
<circle cx="255.5" cy="898.0" r="2.5"/>
<circle cx="222.6" cy="891.5" r="2.5"/>
<circle cx="243.8" cy="890.4" r="2.5"/>
<circle cx="244.4" cy="876.5" r="2.5"/>
<circle cx="233.8" cy="887.5" r="2.5"/>
<circle cx="227.6" cy="891.1" r="2.5"/>
<circle cx="258.8" cy="893.8" r="2.5"/>
<circle cx="258.3" cy="888.0" r="2.5"/>
<circle cx="243.0" cy="887.1" r="2.5"/>
<circle cx="259.2" cy="894.5" r="2.5"/>
<circle cx="235.5" cy="888.9" r="2.5"/>
<circle cx="259.3" cy="895.1" r="2.5"/>
<circle cx="230.1" cy="887.7" r="2.5"/>
<circle cx="223.2" cy="890.5" r="2.5"/>
<circle cx="236.7" cy="889.2" r="2.5"/>
<circle cx="250.8" cy="878.1" r="2.5"/>
<circle cx="218.6" cy="897.2" r="2.5"/>
<circle cx="229.5" cy="883.2" r="2.5"/>
<circle cx="250.8" cy="887.8" r="2.5"/>
<circle cx="229.3" cy="892.9" r="2.5"/>
<circle cx="259.5" cy="896.7" r="2.5"/>
<circle cx="243.5" cy="882.7" r="2.5"/>
<circle cx="245.1" cy="880.6" r="2.5"/>
<circle cx="249.2" cy="891.1" r="2.5"/>
<circle cx="249.9" cy="886.3" r="2.5"/>
<circle cx="240.4" cy="885.8" r="2.5"/>
<circle cx="230.5" cy="886.9" r="2.5"/>
<circle cx="237.5" cy="887.7" r="2.5"/>
<circle cx="249.3" cy="880.8" r="2.5"/>
<circle cx="219.6" cy="896.4" r="2.5"/>
<circle cx="237.2" cy="881.1" r="2.5"/>
<circle cx="255.3" cy="884.8" r="2.5"/>
<circle cx="218.7" cy="896.5" r="2.5"/>
<circle cx="236.0" cy="885.1" r="2.5"/>
<circle cx="247.7" cy="880.2" r="2.5"/>
<circle cx="238.3" cy="879.8" r="2.5"/>
<circle cx="234.2" cy="888.0" r="2.5"/>
<circle cx="253.8" cy="889.9" r="2.5"/>
<circle cx="230.5" cy="883.7" r="2.5"/>
<circle cx="220.8" cy="892.0" r="2.5"/>
<circle cx="247.2" cy="883.5" r="2.5"/>
<circle cx="230.1" cy="884.3" r="2.5"/>
<circle cx="256.2" cy="892.9" r="2.5"/>
<circle cx="238.1" cy="884.4" r="2.5"/>
<circle cx="238.9" cy="887.1" r="2.5"/>
<circle cx="224.5" cy="889.4" r="2.5"/>
<circle cx="252.1" cy="893.5" r="2.5"/>
<circle cx="227.7" cy="885.3" r="2.5"/>
<circle cx="251.2" cy="880.5" r="2.5"/>
<circle cx="219.1" cy="895.5" r="2.5"/>
<circle cx="259.1" cy="891.9" r="2.5"/>
<circle cx="247.5" cy="894.1" r="2.5"/>
<circle cx="253.4" cy="889.2" r="2.5"/>
<circle cx="245.1" cy="875.8" r="2.5"/>
<circle cx="247.9" cy="890.6" r="2.5"/>
<circle cx="230.3" cy="882.9" r="2.5"/>
<circle cx="224.3" cy="889.3" r="2.5"/>
<circle cx="235.4" cy="892.0" r="2.5"/>
<circle cx="244.2" cy="894.4" r="2.5"/>
<circle cx="222.6" cy="892.9" r="2.5"/>
<circle cx="221.1" cy="897.4" r="2.5"/>
<circle cx="242.2" cy="878.5" r="2.5"/>
<circle cx="254.9" cy="891.8" r="2.5"/>
<circle cx="236.2" cy="888.9" r="2.5"/>
<circle cx="243.2" cy="882.5" r="2.5"/>
<circle cx="257.4" cy="890.6" r="2.5"/>
<circle cx="220.4" cy="893.1" r="2.5"/>
<circle cx="224.4" cy="889.1" r="2.5"/>
<circle cx="239.3" cy="878.4" r="2.5"/>
<circle cx="241.3" cy="880.3" r="2.5"/>
<circle cx="229.1" cy="887.2" r="2.5"/>
<circle cx="228.7" cy="885.4" r="2.5"/>
<circle cx="239.7" cy="891.2" r="2.5"/>
<circle cx="227.9" cy="889.9" r="2.5"/>
<circle cx="248.9" cy="889.2" r="2.5"/>
<circle cx="248.0" cy="879.8" r="2.5"/>
<circle cx="221.6" cy="891.9" r="2.5"/>
<circle cx="221.9" cy="896.1" r="2.5"/>
<circle cx="243.0" cy="887.6" r="2.5"/>
<circle cx="254.8" cy="884.9" r="2.5"/>
<circle cx="231.6" cy="883.7" r="2.5"/>
<circle cx="219.3" cy="895.1" r="2.5"/>
<circle cx="220.3" cy="896.6" r="2.5"/>
<circle cx="258.0" cy="888.7" r="2.5"/>
<circle cx="227.4" cy="894.2" r="2.5"/>
<circle cx="258.8" cy="892.0" r="2.5"/>
<circle cx="252.5" cy="891.1" r="2.5"/>
<circle cx="244.3" cy="885.0" r="2.5"/>
<circle cx="227.9" cy="890.4" r="2.5"/>
<circle cx="243.8" cy="885.1" r="2.5"/>
<circle cx="234.2" cy="892.7" r="2.5"/>
<circle cx="252.9" cy="881.6" r="2.5"/>
<circle cx="251.8" cy="884.4" r="2.5"/>
<circle cx="253.8" cy="883.8" r="2.5"/>
<circle cx="242.9" cy="881.1" r="2.5"/>
<circle cx="249.1" cy="884.2" r="2.5"/>
<circle cx="222.1" cy="897.7" r="2.5"/>
<circle cx="226.6" cy="896.5" r="2.5"/>
<circle cx="255.3" cy="885.8" r="2.5"/>
<circle cx="249.9" cy="898.0" r="2.5"/>
<circle cx="237.8" cy="880.7" r="2.5"/>
<circle cx="244.0" cy="883.6" r="2.5"/>
<circle cx="237.6" cy="893.3" r="2.5"/>
<circle cx="224.6" cy="894.2" r="2.5"/>
<circle cx="233.8" cy="888.1" r="2.5"/>
<circle cx="255.0" cy="891.4" r="2.5"/>
<circle cx="228.7" cy="890.9" r="2.5"/>
<circle cx="224.8" cy="892.2" r="2.5"/>
<circle cx="227.9" cy="888.5" r="2.5"/>
<circle cx="219.4" cy="894.2" r="2.5"/>
<circle cx="233.5" cy="881.8" r="2.5"/>
<circle cx="246.9" cy="879.5" r="2.5"/>
<circle cx="237.8" cy="880.0" r="2.5"/>
<circle cx="223.0" cy="890.3" r="2.5"/>
<circle cx="230.3" cy="885.3" r="2.5"/>
<circle cx="248.6" cy="889.7" r="2.5"/>
<circle cx="226.5" cy="897.1" r="2.5"/>
<circle cx="227.7" cy="895.1" r="2.5"/>
<circle cx="234.9" cy="881.1" r="2.5"/>
<circle cx="233.3" cy="889.4" r="2.5"/>
<circle cx="237.7" cy="888.9" r="2.5"/>
<circle cx="248.8" cy="878.9" r="2.5"/>
<circle cx="224.9" cy="892.7" r="2.5"/>
<circle cx="246.2" cy="875.9" r="2.5"/>
<circle cx="245.1" cy="883.5" r="2.5"/>
<circle cx="258.9" cy="898.0" r="2.5"/>
<circle cx="220.6" cy="892.5" r="2.5"/>
<circle cx="235.3" cy="895.5" r="2.5"/>
<circle cx="241.1" cy="875.3" r="2.5"/>
<circle cx="239.8" cy="886.0" r="2.5"/>
<circle cx="222.0" cy="896.9" r="2.5"/>
<circle cx="255.7" cy="886.4" r="2.5"/>
<circle cx="257.3" cy="896.1" r="2.5"/>
<circle cx="228.3" cy="895.9" r="2.5"/>
<circle cx="234.7" cy="894.9" r="2.5"/>
<circle cx="228.8" cy="889.1" r="2.5"/>
<circle cx="230.9" cy="895.5" r="2.5"/>
<circle cx="219.6" cy="893.3" r="2.5"/>
<circle cx="225.6" cy="889.3" r="2.5"/>
<circle cx="234.9" cy="885.9" r="2.5"/>
<circle cx="221.6" cy="894.3" r="2.5"/>
<circle cx="222.6" cy="891.7" r="2.5"/>
<circle cx="256.7" cy="886.9" r="2.5"/>
<circle cx="254.0" cy="889.5" r="2.5"/>
<circle cx="218.8" cy="896.8" r="2.5"/>
<circle cx="238.5" cy="883.7" r="2.5"/>
<circle cx="233.9" cy="885.0" r="2.5"/>
<circle cx="248.5" cy="876.3" r="2.5"/>
<circle cx="231.0" cy="887.8" r="2.5"/>
<circle cx="252.7" cy="888.9" r="2.5"/>
<circle cx="222.9" cy="893.3" r="2.5"/>
<circle cx="221.7" cy="891.2" r="2.5"/>
<circle cx="252.4" cy="886.9" r="2.5"/>
<circle cx="223.5" cy="896.1" r="2.5"/>
<circle cx="228.3" cy="894.8" r="2.5"/>
<circle cx="236.0" cy="885.1" r="2.5"/>
<circle cx="228.4" cy="895.5" r="2.5"/>
<circle cx="247.4" cy="894.2" r="2.5"/>
<circle cx="226.4" cy="891.5" r="2.5"/>
<circle cx="233.7" cy="893.8" r="2.5"/>
<circle cx="235.7" cy="888.9" r="2.5"/>
<circle cx="249.6" cy="881.4" r="2.5"/>
<circle cx="255.6" cy="884.1" r="2.5"/>
<circle cx="249.9" cy="881.2" r="2.5"/>
<circle cx="236.6" cy="882.2" r="2.5"/>
<circle cx="245.5" cy="875.7" r="2.5"/>
<circle cx="248.6" cy="879.1" r="2.5"/>
<circle cx="229.3" cy="884.5" r="2.5"/>
<circle cx="234.1" cy="892.9" r="2.5"/>
<circle cx="220.8" cy="896.1" r="2.5"/>
<circle cx="229.1" cy="885.9" r="2.5"/>
<circle cx="230.0" cy="895.2" r="2.5"/>
<circle cx="250.1" cy="881.6" r="2.5"/>
<circle cx="219.2" cy="898.0" r="2.5"/>
<circle cx="223.5" cy="892.4" r="2.5"/>
<circle cx="254.1" cy="878.5" r="2.5"/>
<circle cx="243.7" cy="887.8" r="2.5"/>
<circle cx="236.0" cy="888.1" r="2.5"/>
<circle cx="231.9" cy="897.5" r="2.5"/>
<circle cx="242.6" cy="877.4" r="2.5"/>
<circle cx="248.5" cy="892.0" r="2.5"/>
<circle cx="240.3" cy="889.8" r="2.5"/>
<circle cx="247.8" cy="883.3" r="2.5"/>
<circle cx="257.4" cy="886.6" r="2.5"/>
<circle cx="223.0" cy="893.2" r="2.5"/>
<circle cx="256.4" cy="888.0" r="2.5"/>
<circle cx="236.3" cy="886.9" r="2.5"/>
<circle cx="250.2" cy="876.3" r="2.5"/>
<circle cx="240.4" cy="876.2" r="2.5"/>
<circle cx="243.0" cy="891.7" r="2.5"/>
<circle cx="252.2" cy="884.8" r="2.5"/>
<circle cx="220.3" cy="892.2" r="2.5"/>
<circle cx="219.4" cy="895.2" r="2.5"/>
<circle cx="238.3" cy="880.1" r="2.5"/>
<circle cx="234.5" cy="890.9" r="2.5"/>
<circle cx="229.7" cy="891.9" r="2.5"/>
<circle cx="241.6" cy="885.0" r="2.5"/>
<circle cx="249.5" cy="887.5" r="2.5"/>
<circle cx="232.8" cy="890.5" r="2.5"/>
<circle cx="259.2" cy="893.4" r="2.5"/>
<circle cx="253.7" cy="882.4" r="2.5"/>
<circle cx="234.9" cy="892.5" r="2.5"/>
<circle cx="252.9" cy="883.9" r="2.5"/>
<circle cx="219.7" cy="896.9" r="2.5"/>
<circle cx="222.2" cy="890.9" r="2.5"/>
<circle cx="255.8" cy="891.2" r="2.5"/>
<circle cx="251.5" cy="886.3" r="2.5"/>
<circle cx="246.7" cy="876.9" r="2.5"/>
<circle cx="244.2" cy="877.7" r="2.5"/>
<circle cx="233.8" cy="897.7" r="2.5"/>
<circle cx="239.5" cy="882.3" r="2.5"/>
<circle cx="225.8" cy="890.5" r="2.5"/>
<circle cx="231.4" cy="896.6" r="2.5"/>
<circle cx="231.1" cy="888.6" r="2.5"/>
<circle cx="238.0" cy="882.5" r="2.5"/>
<circle cx="234.8" cy="881.1" r="2.5"/>
<circle cx="252.2" cy="877.7" r="2.5"/>
<circle cx="247.1" cy="879.6" r="2.5"/>
<circle cx="240.6" cy="878.1" r="2.5"/>
<circle cx="233.3" cy="885.5" r="2.5"/>
<circle cx="246.5" cy="881.9" r="2.5"/>
<circle cx="230.0" cy="894.7" r="2.5"/>
<circle cx="221.7" cy="893.9" r="2.5"/>
<circle cx="242.4" cy="878.3" r="2.5"/>
<circle cx="248.0" cy="886.0" r="2.5"/>
<circle cx="257.0" cy="891.4" r="2.5"/>
<circle cx="248.1" cy="893.0" r="2.5"/>
<circle cx="249.6" cy="879.6" r="2.5"/>
<circle cx="258.2" cy="887.6" r="2.5"/>
<circle cx="246.9" cy="877.2" r="2.5"/>
<circle cx="249.0" cy="880.5" r="2.5"/>
<circle cx="226.8" cy="888.6" r="2.5"/>
<circle cx="255.6" cy="890.2" r="2.5"/>
<circle cx="258.9" cy="893.1" r="2.5"/>
<circle cx="234.6" cy="898.0" r="2.5"/>
<circle cx="234.4" cy="891.7" r="2.5"/>
<circle cx="245.4" cy="876.4" r="2.5"/>
<circle cx="256.2" cy="885.8" r="2.5"/>
<circle cx="234.3" cy="893.4" r="2.5"/>
<circle cx="246.9" cy="881.4" r="2.5"/>
<circle cx="248.0" cy="884.6" r="2.5"/>
<circle cx="255.2" cy="890.3" r="2.5"/>
<circle cx="230.9" cy="890.5" r="2.5"/>
<circle cx="244.1" cy="876.5" r="2.5"/>
<circle cx="225.1" cy="888.3" r="2.5"/>
<circle cx="250.2" cy="888.1" r="2.5"/>
<circle cx="220.7" cy="893.5" r="2.5"/>
<circle cx="252.9" cy="878.6" r="2.5"/>
<circle cx="248.6" cy="883.8" r="2.5"/>
<circle cx="235.9" cy="885.8" r="2.5"/>
<circle cx="256.0" cy="889.6" r="2.5"/>
<circle cx="229.8" cy="886.3" r="2.5"/>
<circle cx="258.6" cy="894.9" r="2.5"/>
<circle cx="219.3" cy="897.7" r="2.5"/>
<circle cx="241.6" cy="880.6" r="2.5"/>
<circle cx="225.8" cy="893.2" r="2.5"/>
<circle cx="243.0" cy="879.9" r="2.5"/>
<circle cx="247.0" cy="878.7" r="2.5"/>
<circle cx="220.6" cy="894.0" r="2.5"/>
<circle cx="253.0" cy="877.8" r="2.5"/>
<circle cx="231.4" cy="883.2" r="2.5"/>
<circle cx="245.1" cy="876.1" r="2.5"/>
<circle cx="227.7" cy="886.4" r="2.5"/>
<circle cx="253.3" cy="884.3" r="2.5"/>
<circle cx="222.3" cy="895.0" r="2.5"/>
<circle cx="224.6" cy="895.4" r="2.5"/>
<circle cx="224.4" cy="889.2" r="2.5"/>
<circle cx="222.5" cy="890.4" r="2.5"/>
<circle cx="248.9" cy="877.5" r="2.5"/>
<circle cx="251.7" cy="880.1" r="2.5"/>
<circle cx="256.8" cy="883.8" r="2.5"/>
<circle cx="244.3" cy="875.6" r="2.5"/>
<circle cx="222.4" cy="896.2" r="2.5"/>
<circle cx="220.8" cy="895.8" r="2.5"/>
<circle cx="233.8" cy="887.1" r="2.5"/>
<circle cx="246.6" cy="878.5" r="2.5"/>
<circle cx="221.6" cy="893.6" r="2.5"/>
<circle cx="240.8" cy="884.6" r="2.5"/>
<circle cx="223.0" cy="890.9" r="2.5"/>
<circle cx="233.8" cy="884.4" r="2.5"/>
<circle cx="238.8" cy="878.4" r="2.5"/>
<circle cx="257.7" cy="895.8" r="2.5"/>
<circle cx="249.9" cy="879.0" r="2.5"/>
<circle cx="230.5" cy="893.6" r="2.5"/>
<circle cx="238.1" cy="887.3" r="2.5"/>
<circle cx="249.0" cy="876.2" r="2.5"/>
<circle cx="234.1" cy="889.6" r="2.5"/>
<circle cx="239.0" cy="881.4" r="2.5"/>
<circle cx="251.1" cy="881.8" r="2.5"/>
<circle cx="230.5" cy="889.4" r="2.5"/>
<circle cx="253.6" cy="883.8" r="2.5"/>
<circle cx="220.2" cy="894.8" r="2.5"/>
<circle cx="228.0" cy="886.5" r="2.5"/>
<circle cx="221.1" cy="895.0" r="2.5"/>
<circle cx="222.1" cy="892.6" r="2.5"/>
<circle cx="259.3" cy="895.0" r="2.5"/>
<circle cx="234.3" cy="881.7" r="2.5"/>
<circle cx="221.9" cy="893.7" r="2.5"/>
<circle cx="252.0" cy="897.9" r="2.5"/>
<circle cx="250.2" cy="885.1" r="2.5"/>
<circle cx="218.8" cy="897.7" r="2.5"/>
<circle cx="237.3" cy="887.6" r="2.5"/>
<circle cx="239.7" cy="894.3" r="2.5"/>
<circle cx="227.2" cy="884.3" r="2.5"/>
<circle cx="236.6" cy="886.4" r="2.5"/>
<circle cx="221.6" cy="894.6" r="2.5"/>
<circle cx="258.1" cy="888.9" r="2.5"/>
<circle cx="239.3" cy="894.4" r="2.5"/>
<circle cx="234.5" cy="883.2" r="2.5"/>
<circle cx="236.3" cy="884.9" r="2.5"/>
<circle cx="255.9" cy="884.8" r="2.5"/>
<circle cx="244.7" cy="894.9" r="2.5"/>
<circle cx="219.1" cy="895.5" r="2.5"/>
<circle cx="235.4" cy="882.0" r="2.5"/>
<circle cx="252.7" cy="878.0" r="2.5"/>
<circle cx="233.9" cy="881.2" r="2.5"/>
<circle cx="249.8" cy="876.6" r="2.5"/>
<circle cx="224.3" cy="888.1" r="2.5"/>
<circle cx="235.8" cy="880.9" r="2.5"/>
<circle cx="259.7" cy="897.8" r="2.5"/>
<circle cx="235.7" cy="889.7" r="2.5"/>
<circle cx="237.8" cy="888.8" r="2.5"/>
<circle cx="246.0" cy="891.0" r="2.5"/>
<circle cx="225.2" cy="890.0" r="2.5"/>
<circle cx="221.2" cy="894.2" r="2.5"/>
<circle cx="255.7" cy="881.7" r="2.5"/>
<circle cx="226.3" cy="897.5" r="2.5"/>
<circle cx="252.8" cy="877.6" r="2.5"/>
<circle cx="243.2" cy="890.5" r="2.5"/>
<circle cx="228.0" cy="884.3" r="2.5"/>
<circle cx="257.4" cy="896.9" r="2.5"/>
<circle cx="225.8" cy="890.0" r="2.5"/>
<circle cx="229.2" cy="885.1" r="2.5"/>
<circle cx="233.7" cy="883.4" r="2.5"/>
<circle cx="224.4" cy="890.0" r="2.5"/>
<circle cx="258.9" cy="892.3" r="2.5"/>
<circle cx="221.8" cy="896.3" r="2.5"/>
<circle cx="245.0" cy="884.6" r="2.5"/>
<circle cx="233.5" cy="886.9" r="2.5"/>
<circle cx="242.4" cy="875.6" r="2.5"/>
<circle cx="228.2" cy="887.5" r="2.5"/>
<circle cx="229.1" cy="887.3" r="2.5"/>
<circle cx="248.7" cy="890.6" r="2.5"/>
<circle cx="238.2" cy="882.2" r="2.5"/>
<circle cx="218.4" cy="897.3" r="2.5"/>
<circle cx="235.6" cy="886.1" r="2.5"/>
<circle cx="243.7" cy="877.8" r="2.5"/>
<circle cx="220.4" cy="894.1" r="2.5"/>
<circle cx="219.7" cy="895.6" r="2.5"/>
<circle cx="232.6" cy="896.9" r="2.5"/>
<circle cx="230.5" cy="887.8" r="2.5"/>
<circle cx="245.5" cy="876.1" r="2.5"/>
<circle cx="233.6" cy="886.2" r="2.5"/>
<circle cx="248.0" cy="876.0" r="2.5"/>
<circle cx="257.9" cy="886.2" r="2.5"/>
<circle cx="230.7" cy="892.4" r="2.5"/>
<circle cx="257.1" cy="895.3" r="2.5"/>
<circle cx="236.9" cy="883.0" r="2.5"/>
<circle cx="240.2" cy="884.9" r="2.5"/>
<circle cx="256.8" cy="890.7" r="2.5"/>
<circle cx="241.2" cy="877.3" r="2.5"/>
<circle cx="223.9" cy="892.2" r="2.5"/>
<circle cx="238.8" cy="883.4" r="2.5"/>
<circle cx="226.8" cy="889.3" r="2.5"/>
<circle cx="220.6" cy="897.2" r="2.5"/>
<circle cx="232.4" cy="892.7" r="2.5"/>
<circle cx="258.6" cy="894.1" r="2.5"/>
<circle cx="229.6" cy="884.6" r="2.5"/>
<circle cx="249.1" cy="887.0" r="2.5"/>
<circle cx="252.8" cy="881.8" r="2.5"/>
<circle cx="234.4" cy="884.9" r="2.5"/>
<circle cx="228.4" cy="891.2" r="2.5"/>
<circle cx="254.8" cy="885.5" r="2.5"/>
<circle cx="255.7" cy="891.6" r="2.5"/>
<circle cx="223.8" cy="896.7" r="2.5"/>
<circle cx="249.1" cy="881.3" r="2.5"/>
<circle cx="218.5" cy="898.0" r="2.5"/>
<circle cx="252.6" cy="883.7" r="2.5"/>
<circle cx="254.6" cy="895.3" r="2.5"/>
<circle cx="242.7" cy="891.2" r="2.5"/>
<circle cx="248.3" cy="880.5" r="2.5"/>
<circle cx="243.7" cy="888.1" r="2.5"/>
<circle cx="257.8" cy="895.0" r="2.5"/>
<circle cx="220.8" cy="892.8" r="2.5"/>
<circle cx="222.0" cy="897.0" r="2.5"/>
<circle cx="237.4" cy="883.9" r="2.5"/>
<circle cx="255.5" cy="883.0" r="2.5"/>
<circle cx="221.0" cy="892.8" r="2.5"/>
<circle cx="253.4" cy="891.9" r="2.5"/>
<circle cx="249.7" cy="887.2" r="2.5"/>
<circle cx="230.6" cy="898.0" r="2.5"/>
<circle cx="249.8" cy="882.1" r="2.5"/>
<circle cx="255.9" cy="887.0" r="2.5"/>
<circle cx="224.6" cy="893.3" r="2.5"/>
<circle cx="229.1" cy="883.4" r="2.5"/>
<circle cx="226.7" cy="895.0" r="2.5"/>
<circle cx="232.9" cy="894.4" r="2.5"/>
<circle cx="235.9" cy="884.6" r="2.5"/>
<circle cx="245.3" cy="889.3" r="2.5"/>
<circle cx="223.9" cy="890.8" r="2.5"/>
<circle cx="246.9" cy="883.2" r="2.5"/>
<circle cx="242.1" cy="876.3" r="2.5"/>
<circle cx="224.1" cy="892.9" r="2.5"/>
<circle cx="238.8" cy="883.9" r="2.5"/>
<circle cx="255.8" cy="885.7" r="2.5"/>
<circle cx="245.8" cy="883.7" r="2.5"/>
<circle cx="250.9" cy="878.0" r="2.5"/>
<circle cx="230.4" cy="893.8" r="2.5"/>
<circle cx="228.9" cy="889.7" r="2.5"/>
<circle cx="255.4" cy="889.4" r="2.5"/>
<circle cx="244.4" cy="880.0" r="2.5"/>
<circle cx="258.1" cy="895.2" r="2.5"/>
<circle cx="250.3" cy="885.7" r="2.5"/>
<circle cx="222.4" cy="891.3" r="2.5"/>
<circle cx="253.5" cy="882.7" r="2.5"/>
<circle cx="220.2" cy="892.3" r="2.5"/>
<circle cx="234.2" cy="884.8" r="2.5"/>
<circle cx="248.4" cy="887.1" r="2.5"/>
<circle cx="235.2" cy="888.8" r="2.5"/>
<circle cx="222.1" cy="897.0" r="2.5"/>
<circle cx="248.1" cy="883.9" r="2.5"/>
<circle cx="254.5" cy="894.2" r="2.5"/>
<circle cx="230.7" cy="892.1" r="2.5"/>
<circle cx="257.6" cy="887.1" r="2.5"/>
<circle cx="255.6" cy="886.0" r="2.5"/>
<circle cx="222.4" cy="892.8" r="2.5"/>
<circle cx="227.5" cy="896.9" r="2.5"/>
<circle cx="241.7" cy="886.4" r="2.5"/>
<circle cx="222.6" cy="891.9" r="2.5"/>
<circle cx="257.2" cy="884.8" r="2.5"/>
<circle cx="237.6" cy="893.2" r="2.5"/>
<circle cx="250.3" cy="891.4" r="2.5"/>
<circle cx="240.6" cy="892.6" r="2.5"/>
<circle cx="259.4" cy="895.5" r="2.5"/>
<circle cx="236.4" cy="889.6" r="2.5"/>
<circle cx="241.2" cy="875.5" r="2.5"/>
<circle cx="236.0" cy="890.8" r="2.5"/>
<circle cx="239.6" cy="877.9" r="2.5"/>
<circle cx="234.1" cy="884.9" r="2.5"/>
<circle cx="256.6" cy="890.0" r="2.5"/>
<circle cx="252.0" cy="882.9" r="2.5"/>
<circle cx="223.9" cy="896.6" r="2.5"/>
<circle cx="257.4" cy="889.6" r="2.5"/>
<circle cx="236.6" cy="881.2" r="2.5"/>
<circle cx="242.1" cy="882.3" r="2.5"/>
<circle cx="230.0" cy="884.8" r="2.5"/>
<circle cx="228.8" cy="888.3" r="2.5"/>
<circle cx="249.9" cy="880.7" r="2.5"/>
<circle cx="223.7" cy="894.0" r="2.5"/>
<circle cx="247.2" cy="878.7" r="2.5"/>
<circle cx="222.4" cy="889.2" r="2.5"/>
<circle cx="223.7" cy="894.5" r="2.5"/>
<circle cx="221.8" cy="893.1" r="2.5"/>
<circle cx="244.0" cy="877.0" r="2.5"/>
<circle cx="224.9" cy="888.0" r="2.5"/>
<circle cx="222.5" cy="891.5" r="2.5"/>
<circle cx="228.6" cy="889.8" r="2.5"/>
<circle cx="220.3" cy="893.2" r="2.5"/>
<circle cx="223.2" cy="889.5" r="2.5"/>
<circle cx="232.2" cy="885.8" r="2.5"/>
<circle cx="244.9" cy="882.5" r="2.5"/>
<circle cx="254.7" cy="879.2" r="2.5"/>
<circle cx="229.9" cy="889.7" r="2.5"/>
<circle cx="254.8" cy="891.8" r="2.5"/>
<circle cx="235.7" cy="887.4" r="2.5"/>
<circle cx="259.0" cy="896.6" r="2.5"/>
<circle cx="245.5" cy="878.3" r="2.5"/>
<circle cx="248.6" cy="898.0" r="2.5"/>
<circle cx="257.6" cy="891.7" r="2.5"/>
<circle cx="253.8" cy="881.8" r="2.5"/>
<circle cx="235.7" cy="882.3" r="2.5"/>
<circle cx="246.4" cy="885.3" r="2.5"/>
<circle cx="248.7" cy="882.2" r="2.5"/>
<circle cx="247.9" cy="880.4" r="2.5"/>
<circle cx="251.4" cy="890.2" r="2.5"/>
<circle cx="238.8" cy="898.0" r="2.5"/>
<circle cx="251.2" cy="879.0" r="2.5"/>
<circle cx="253.1" cy="894.9" r="2.5"/>
<circle cx="240.5" cy="883.0" r="2.5"/>
<circle cx="223.1" cy="894.4" r="2.5"/>
<circle cx="258.9" cy="891.4" r="2.5"/>
<circle cx="228.1" cy="885.0" r="2.5"/>
<circle cx="245.3" cy="884.4" r="2.5"/>
<circle cx="245.1" cy="887.9" r="2.5"/>
<circle cx="229.5" cy="897.8" r="2.5"/>
<circle cx="245.6" cy="881.0" r="2.5"/>
<circle cx="249.2" cy="882.2" r="2.5"/>
<circle cx="236.3" cy="889.0" r="2.5"/>
<circle cx="248.9" cy="884.7" r="2.5"/>
<circle cx="243.1" cy="878.3" r="2.5"/>
<circle cx="236.7" cy="883.7" r="2.5"/>
<circle cx="220.6" cy="895.4" r="2.5"/>
<circle cx="253.3" cy="891.0" r="2.5"/>
<circle cx="220.5" cy="898.0" r="2.5"/>
<circle cx="250.2" cy="891.7" r="2.5"/>
<circle cx="237.3" cy="886.7" r="2.5"/>
<circle cx="251.7" cy="883.6" r="2.5"/>
<circle cx="239.9" cy="895.9" r="2.5"/>
<circle cx="251.4" cy="879.2" r="2.5"/>
<circle cx="244.2" cy="877.3" r="2.5"/>
<circle cx="243.8" cy="878.9" r="2.5"/>
<circle cx="253.7" cy="882.4" r="2.5"/>
<circle cx="218.9" cy="895.7" r="2.5"/>
<circle cx="259.5" cy="897.3" r="2.5"/>
<circle cx="220.8" cy="894.7" r="2.5"/>
<circle cx="222.3" cy="893.3" r="2.5"/>
<circle cx="221.8" cy="895.0" r="2.5"/>
<circle cx="218.2" cy="898.0" r="2.5"/>
<circle cx="230.6" cy="884.6" r="2.5"/>
<circle cx="234.4" cy="892.0" r="2.5"/>
<circle cx="258.0" cy="887.3" r="2.5"/>
<circle cx="247.0" cy="888.2" r="2.5"/>
<circle cx="234.9" cy="887.0" r="2.5"/>
<circle cx="235.2" cy="896.5" r="2.5"/>
<circle cx="237.2" cy="882.6" r="2.5"/>
<circle cx="247.1" cy="876.9" r="2.5"/>
<circle cx="246.7" cy="878.3" r="2.5"/>
<circle cx="254.6" cy="879.1" r="2.5"/>
<circle cx="251.3" cy="884.5" r="2.5"/>
<circle cx="245.7" cy="879.8" r="2.5"/>
<circle cx="255.1" cy="882.2" r="2.5"/>
<circle cx="236.7" cy="891.2" r="2.5"/>
<circle cx="231.8" cy="890.6" r="2.5"/>
<circle cx="246.6" cy="878.2" r="2.5"/>
<circle cx="226.1" cy="888.8" r="2.5"/>
<circle cx="253.3" cy="886.2" r="2.5"/>
<circle cx="222.0" cy="891.8" r="2.5"/>
<circle cx="233.3" cy="892.6" r="2.5"/>
<circle cx="230.1" cy="898.0" r="2.5"/>
<circle cx="224.3" cy="891.0" r="2.5"/>
<circle cx="222.5" cy="898.0" r="2.5"/>
<circle cx="241.1" cy="875.7" r="2.5"/>
<circle cx="253.0" cy="886.8" r="2.5"/>
<circle cx="256.8" cy="895.0" r="2.5"/>
<circle cx="224.4" cy="898.0" r="2.5"/>
<circle cx="220.5" cy="893.5" r="2.5"/>
<circle cx="249.8" cy="882.8" r="2.5"/>
<circle cx="251.7" cy="884.0" r="2.5"/>
<circle cx="256.6" cy="886.5" r="2.5"/>
<circle cx="240.6" cy="889.6" r="2.5"/>
<circle cx="235.9" cy="886.9" r="2.5"/>
<circle cx="252.5" cy="888.7" r="2.5"/>
<circle cx="230.4" cy="883.8" r="2.5"/>
<circle cx="221.0" cy="893.3" r="2.5"/>
<circle cx="227.3" cy="886.9" r="2.5"/>
<circle cx="243.0" cy="892.0" r="2.5"/>
<circle cx="248.7" cy="884.0" r="2.5"/>
<circle cx="231.5" cy="883.2" r="2.5"/>
<circle cx="250.7" cy="886.3" r="2.5"/>
<circle cx="246.5" cy="891.0" r="2.5"/>
<circle cx="239.8" cy="892.9" r="2.5"/>
<circle cx="244.9" cy="876.2" r="2.5"/>
<circle cx="244.7" cy="894.6" r="2.5"/>
<circle cx="239.6" cy="884.1" r="2.5"/>
<circle cx="236.6" cy="892.1" r="2.5"/>
<circle cx="229.7" cy="888.1" r="2.5"/>
<circle cx="221.0" cy="892.5" r="2.5"/>
<circle cx="228.3" cy="890.9" r="2.5"/>
<circle cx="221.9" cy="894.2" r="2.5"/>
<circle cx="257.1" cy="891.2" r="2.5"/>
<circle cx="222.1" cy="893.7" r="2.5"/>
<circle cx="257.7" cy="895.4" r="2.5"/>
<circle cx="232.4" cy="891.3" r="2.5"/>
<circle cx="246.6" cy="883.0" r="2.5"/>
<circle cx="222.2" cy="890.1" r="2.5"/>
<circle cx="231.8" cy="884.8" r="2.5"/>
<circle cx="237.0" cy="881.5" r="2.5"/>
<circle cx="220.5" cy="895.8" r="2.5"/>
<circle cx="230.0" cy="890.7" r="2.5"/>
<circle cx="252.5" cy="883.5" r="2.5"/>
<circle cx="232.6" cy="886.7" r="2.5"/>
<circle cx="253.5" cy="883.0" r="2.5"/>
<circle cx="237.0" cy="883.9" r="2.5"/>
<circle cx="243.8" cy="884.0" r="2.5"/>
<circle cx="235.9" cy="892.6" r="2.5"/>
<circle cx="236.5" cy="881.6" r="2.5"/>
<circle cx="230.9" cy="888.9" r="2.5"/>
<circle cx="243.4" cy="880.8" r="2.5"/>
<circle cx="225.4" cy="890.0" r="2.5"/>
<circle cx="248.8" cy="894.6" r="2.5"/>
<circle cx="222.6" cy="890.2" r="2.5"/>
<circle cx="256.0" cy="894.8" r="2.5"/>
<circle cx="221.5" cy="892.3" r="2.5"/>
<circle cx="230.0" cy="885.6" r="2.5"/>
<circle cx="219.5" cy="895.6" r="2.5"/>
<circle cx="224.8" cy="891.6" r="2.5"/>
<circle cx="247.1" cy="882.1" r="2.5"/>
<circle cx="253.8" cy="879.6" r="2.5"/>
<circle cx="244.0" cy="877.1" r="2.5"/>
<circle cx="225.5" cy="889.7" r="2.5"/>
<circle cx="231.5" cy="885.6" r="2.5"/>
<circle cx="222.7" cy="889.3" r="2.5"/>
<circle cx="233.6" cy="883.3" r="2.5"/>
<circle cx="257.6" cy="885.9" r="2.5"/>
<circle cx="234.4" cy="882.4" r="2.5"/>
<circle cx="259.8" cy="898.0" r="2.5"/>
<circle cx="249.4" cy="878.8" r="2.5"/>
<circle cx="237.3" cy="889.3" r="2.5"/>
<circle cx="225.3" cy="890.4" r="2.5"/>
<circle cx="257.1" cy="889.9" r="2.5"/>
<circle cx="228.8" cy="886.6" r="2.5"/>
<circle cx="236.4" cy="884.6" r="2.5"/>
<circle cx="237.1" cy="889.2" r="2.5"/>
<circle cx="219.6" cy="894.1" r="2.5"/>
<circle cx="245.7" cy="887.5" r="2.5"/>
<circle cx="239.0" cy="883.0" r="2.5"/>
<circle cx="239.2" cy="878.7" r="2.5"/>
<circle cx="250.7" cy="886.4" r="2.5"/>
<circle cx="232.3" cy="885.5" r="2.5"/>
<circle cx="224.9" cy="886.2" r="2.5"/>
<circle cx="220.0" cy="894.5" r="2.5"/>
<circle cx="229.5" cy="887.3" r="2.5"/>
<circle cx="220.0" cy="896.2" r="2.5"/>
<circle cx="259.5" cy="895.0" r="2.5"/>
<circle cx="227.3" cy="889.1" r="2.5"/>
<circle cx="219.4" cy="897.5" r="2.5"/>
<circle cx="226.1" cy="885.0" r="2.5"/>
<circle cx="231.1" cy="890.8" r="2.5"/>
<circle cx="220.8" cy="896.8" r="2.5"/>
<circle cx="259.8" cy="896.5" r="2.5"/>
<circle cx="256.6" cy="884.5" r="2.5"/>
<circle cx="250.9" cy="887.6" r="2.5"/>
<circle cx="225.2" cy="892.2" r="2.5"/>
<circle cx="220.8" cy="896.1" r="2.5"/>
<circle cx="248.2" cy="882.5" r="2.5"/>
<circle cx="218.5" cy="897.9" r="2.5"/>
<circle cx="253.7" cy="879.4" r="2.5"/>
<circle cx="248.6" cy="878.7" r="2.5"/>
<circle cx="256.3" cy="886.5" r="2.5"/>
<circle cx="234.1" cy="885.6" r="2.5"/>
<circle cx="229.9" cy="896.2" r="2.5"/>
<circle cx="229.0" cy="888.4" r="2.5"/>
<circle cx="223.1" cy="896.3" r="2.5"/>
<circle cx="228.4" cy="889.7" r="2.5"/>
<circle cx="258.2" cy="890.7" r="2.5"/>
<circle cx="253.1" cy="880.4" r="2.5"/>
<circle cx="242.9" cy="885.7" r="2.5"/>
<circle cx="234.5" cy="889.1" r="2.5"/>
<circle cx="244.7" cy="877.0" r="2.5"/>
<circle cx="251.2" cy="886.8" r="2.5"/>
<circle cx="224.3" cy="898.0" r="2.5"/>
<circle cx="242.6" cy="887.9" r="2.5"/>
<circle cx="218.3" cy="898.0" r="2.5"/>
<circle cx="227.6" cy="892.4" r="2.5"/>
<circle cx="245.9" cy="880.9" r="2.5"/>
<circle cx="229.9" cy="884.9" r="2.5"/>
<circle cx="226.7" cy="885.1" r="2.5"/>
<circle cx="223.1" cy="890.8" r="2.5"/>
<circle cx="247.6" cy="878.7" r="2.5"/>
<circle cx="238.5" cy="879.9" r="2.5"/>
<circle cx="244.4" cy="879.3" r="2.5"/>
<circle cx="221.4" cy="895.6" r="2.5"/>
<circle cx="237.6" cy="885.0" r="2.5"/>
<circle cx="222.1" cy="891.0" r="2.5"/>
<circle cx="232.6" cy="887.1" r="2.5"/>
<circle cx="239.9" cy="878.4" r="2.5"/>
<circle cx="230.7" cy="886.5" r="2.5"/>
<circle cx="243.4" cy="879.8" r="2.5"/>
<circle cx="231.2" cy="890.2" r="2.5"/>
<circle cx="237.8" cy="884.0" r="2.5"/>
<circle cx="245.1" cy="890.6" r="2.5"/>
<circle cx="236.8" cy="885.2" r="2.5"/>
<circle cx="226.2" cy="894.8" r="2.5"/>
<circle cx="257.0" cy="897.3" r="2.5"/>
<circle cx="239.0" cy="887.8" r="2.5"/>
<circle cx="219.4" cy="896.7" r="2.5"/>
<circle cx="224.8" cy="890.8" r="2.5"/>
<circle cx="256.2" cy="894.6" r="2.5"/>
<circle cx="232.8" cy="884.5" r="2.5"/>
<circle cx="244.3" cy="896.0" r="2.5"/>
<circle cx="227.7" cy="891.2" r="2.5"/>
<circle cx="255.6" cy="886.8" r="2.5"/>
<circle cx="228.9" cy="888.1" r="2.5"/>
<circle cx="238.4" cy="891.4" r="2.5"/>
<circle cx="246.0" cy="878.9" r="2.5"/>
<circle cx="238.1" cy="884.6" r="2.5"/>
<circle cx="250.4" cy="876.2" r="2.5"/>
<circle cx="243.7" cy="894.4" r="2.5"/>
<circle cx="239.2" cy="881.6" r="2.5"/>
<circle cx="231.9" cy="884.8" r="2.5"/>
<circle cx="233.5" cy="885.2" r="2.5"/>
<circle cx="243.8" cy="879.6" r="2.5"/>
<circle cx="256.9" cy="886.1" r="2.5"/>
<circle cx="247.8" cy="879.1" r="2.5"/>
<circle cx="227.7" cy="887.2" r="2.5"/>
<circle cx="244.1" cy="893.5" r="2.5"/>
<circle cx="249.7" cy="887.9" r="2.5"/>
<circle cx="238.7" cy="884.1" r="2.5"/>
<circle cx="248.3" cy="878.2" r="2.5"/>
<circle cx="237.7" cy="880.3" r="2.5"/>
<circle cx="236.6" cy="885.1" r="2.5"/>
<circle cx="259.6" cy="897.0" r="2.5"/>
<circle cx="248.0" cy="875.7" r="2.5"/>
<circle cx="221.6" cy="891.3" r="2.5"/>
<circle cx="245.4" cy="881.6" r="2.5"/>
<circle cx="251.2" cy="877.8" r="2.5"/>
<circle cx="224.2" cy="890.5" r="2.5"/>
<circle cx="243.9" cy="879.2" r="2.5"/>
<circle cx="258.2" cy="888.4" r="2.5"/>
<circle cx="252.8" cy="893.8" r="2.5"/>
<circle cx="235.9" cy="881.4" r="2.5"/>
<circle cx="257.7" cy="887.6" r="2.5"/>
<circle cx="232.0" cy="883.9" r="2.5"/>
<circle cx="240.4" cy="880.2" r="2.5"/>
<circle cx="244.8" cy="876.9" r="2.5"/>
<circle cx="248.0" cy="875.5" r="2.5"/>
<circle cx="238.8" cy="884.5" r="2.5"/>
<circle cx="245.6" cy="881.3" r="2.5"/>
<circle cx="220.1" cy="892.4" r="2.5"/>
<circle cx="231.4" cy="887.0" r="2.5"/>
<circle cx="219.8" cy="896.5" r="2.5"/>
<circle cx="257.0" cy="891.3" r="2.5"/>
<circle cx="230.6" cy="883.8" r="2.5"/>
<circle cx="228.2" cy="886.5" r="2.5"/>
<circle cx="241.9" cy="876.5" r="2.5"/>
<circle cx="238.1" cy="887.8" r="2.5"/>
<circle cx="228.9" cy="889.6" r="2.5"/>
<circle cx="218.1" cy="898.0" r="2.5"/>
<circle cx="224.3" cy="892.2" r="2.5"/>
<circle cx="250.3" cy="876.3" r="2.5"/>
<circle cx="232.9" cy="890.5" r="2.5"/>
<circle cx="230.4" cy="885.8" r="2.5"/>
<circle cx="238.1" cy="892.5" r="2.5"/>
<circle cx="240.0" cy="887.5" r="2.5"/>
<circle cx="224.1" cy="888.2" r="2.5"/>
<circle cx="222.5" cy="892.6" r="2.5"/>
<circle cx="250.2" cy="881.8" r="2.5"/>
<circle cx="254.7" cy="887.6" r="2.5"/>
<circle cx="257.7" cy="896.6" r="2.5"/>
<circle cx="255.6" cy="887.1" r="2.5"/>
<circle cx="218.2" cy="898.0" r="2.5"/>
<circle cx="259.5" cy="895.2" r="2.5"/>
<circle cx="249.0" cy="877.6" r="2.5"/>
<circle cx="218.3" cy="898.0" r="2.5"/>
<circle cx="237.6" cy="880.7" r="2.5"/>
<circle cx="256.1" cy="892.6" r="2.5"/>
<circle cx="259.4" cy="895.4" r="2.5"/>
<circle cx="230.8" cy="894.5" r="2.5"/>
<circle cx="236.0" cy="885.9" r="2.5"/>
<circle cx="237.1" cy="888.8" r="2.5"/>
<circle cx="257.8" cy="890.2" r="2.5"/>
<circle cx="231.0" cy="884.1" r="2.5"/>
<circle cx="228.3" cy="889.1" r="2.5"/>
<circle cx="222.4" cy="894.4" r="2.5"/>
<circle cx="259.8" cy="897.1" r="2.5"/>
<circle cx="240.0" cy="880.5" r="2.5"/>
<circle cx="246.2" cy="881.9" r="2.5"/>
<circle cx="233.4" cy="892.5" r="2.5"/>
<circle cx="219.3" cy="897.7" r="2.5"/>
<circle cx="235.1" cy="897.6" r="2.5"/>
<circle cx="246.3" cy="885.4" r="2.5"/>
<circle cx="227.9" cy="890.7" r="2.5"/>
<circle cx="238.7" cy="889.8" r="2.5"/>
<circle cx="253.8" cy="884.4" r="2.5"/>
<circle cx="220.9" cy="897.1" r="2.5"/>
<circle cx="255.4" cy="884.6" r="2.5"/>
<circle cx="230.3" cy="884.9" r="2.5"/>
<circle cx="220.0" cy="892.9" r="2.5"/>
<circle cx="257.3" cy="887.5" r="2.5"/>
<circle cx="220.2" cy="894.7" r="2.5"/>
<circle cx="253.1" cy="882.4" r="2.5"/>
<circle cx="226.8" cy="892.2" r="2.5"/>
<circle cx="220.7" cy="893.7" r="2.5"/>
<circle cx="225.7" cy="889.9" r="2.5"/>
<circle cx="255.6" cy="881.4" r="2.5"/>
<circle cx="238.7" cy="880.7" r="2.5"/>
<circle cx="223.7" cy="887.7" r="2.5"/>
<circle cx="254.3" cy="884.6" r="2.5"/>
<circle cx="255.2" cy="888.6" r="2.5"/>
<circle cx="259.2" cy="895.4" r="2.5"/>
<circle cx="256.8" cy="884.8" r="2.5"/>
<circle cx="257.2" cy="886.8" r="2.5"/>
<circle cx="221.1" cy="894.9" r="2.5"/>
<circle cx="245.5" cy="876.3" r="2.5"/>
<circle cx="246.6" cy="894.7" r="2.5"/>
<circle cx="232.6" cy="888.9" r="2.5"/>
<circle cx="225.2" cy="892.8" r="2.5"/>
<circle cx="239.7" cy="885.7" r="2.5"/>
<circle cx="229.3" cy="888.8" r="2.5"/>
<circle cx="257.8" cy="889.0" r="2.5"/>
<circle cx="249.6" cy="876.0" r="2.5"/>
<circle cx="219.4" cy="894.4" r="2.5"/>
<circle cx="222.1" cy="895.1" r="2.5"/>
<circle cx="249.1" cy="878.4" r="2.5"/>
<circle cx="243.8" cy="882.7" r="2.5"/>
<circle cx="248.3" cy="883.6" r="2.5"/>
<circle cx="226.2" cy="892.6" r="2.5"/>
<circle cx="222.8" cy="897.4" r="2.5"/>
<circle cx="258.0" cy="886.7" r="2.5"/>
<circle cx="232.7" cy="887.9" r="2.5"/>
<circle cx="229.8" cy="884.5" r="2.5"/>
<circle cx="238.7" cy="890.7" r="2.5"/>
<circle cx="255.1" cy="880.0" r="2.5"/>
<circle cx="220.0" cy="894.7" r="2.5"/>
<circle cx="227.3" cy="887.2" r="2.5"/>
<circle cx="233.1" cy="889.6" r="2.5"/>
<circle cx="230.7" cy="885.9" r="2.5"/>
<circle cx="239.2" cy="884.2" r="2.5"/>
<circle cx="246.6" cy="882.8" r="2.5"/>
<circle cx="257.7" cy="890.5" r="2.5"/>
<circle cx="251.2" cy="877.0" r="2.5"/>
<circle cx="244.1" cy="880.8" r="2.5"/>
<circle cx="251.2" cy="879.8" r="2.5"/>
<circle cx="226.2" cy="890.0" r="2.5"/>
<circle cx="224.6" cy="897.5" r="2.5"/>
<circle cx="246.9" cy="885.6" r="2.5"/>
<circle cx="228.7" cy="896.9" r="2.5"/>
<circle cx="219.0" cy="895.9" r="2.5"/>
<circle cx="233.1" cy="887.5" r="2.5"/>
<circle cx="246.4" cy="876.3" r="2.5"/>
<circle cx="247.4" cy="888.1" r="2.5"/>
<circle cx="259.5" cy="897.3" r="2.5"/>
<circle cx="242.4" cy="880.0" r="2.5"/>
<circle cx="230.1" cy="883.3" r="2.5"/>
<circle cx="243.6" cy="879.0" r="2.5"/>
<circle cx="223.9" cy="888.2" r="2.5"/>
<circle cx="230.1" cy="886.0" r="2.5"/>
<circle cx="249.0" cy="885.7" r="2.5"/>
<circle cx="229.2" cy="890.0" r="2.5"/>
<circle cx="259.1" cy="893.2" r="2.5"/>
<circle cx="237.8" cy="884.5" r="2.5"/>
<circle cx="245.5" cy="887.0" r="2.5"/>
<circle cx="221.2" cy="896.6" r="2.5"/>
<circle cx="242.5" cy="880.7" r="2.5"/>
<circle cx="259.1" cy="893.3" r="2.5"/>
<circle cx="253.8" cy="877.9" r="2.5"/>
<circle cx="238.9" cy="885.5" r="2.5"/>
<circle cx="237.8" cy="887.3" r="2.5"/>
<circle cx="249.9" cy="881.2" r="2.5"/>
<circle cx="223.2" cy="888.3" r="2.5"/>
<circle cx="240.1" cy="879.3" r="2.5"/>
<circle cx="241.0" cy="880.8" r="2.5"/>
<circle cx="242.2" cy="891.3" r="2.5"/>
<circle cx="223.6" cy="889.3" r="2.5"/>
<circle cx="232.7" cy="893.0" r="2.5"/>
<circle cx="252.2" cy="879.9" r="2.5"/>
<circle cx="250.1" cy="884.6" r="2.5"/>
<circle cx="223.6" cy="889.0" r="2.5"/>
<circle cx="227.1" cy="887.0" r="2.5"/>
<circle cx="247.3" cy="886.8" r="2.5"/>
<circle cx="218.2" cy="898.0" r="2.5"/>
<circle cx="251.2" cy="881.6" r="2.5"/>
<circle cx="259.3" cy="896.5" r="2.5"/>
<circle cx="248.7" cy="883.5" r="2.5"/>
<circle cx="242.4" cy="886.1" r="2.5"/>
<circle cx="227.7" cy="887.9" r="2.5"/>
<circle cx="243.5" cy="876.3" r="2.5"/>
<circle cx="243.4" cy="882.3" r="2.5"/>
<circle cx="245.3" cy="880.2" r="2.5"/>
<circle cx="235.2" cy="889.8" r="2.5"/>
<circle cx="246.7" cy="884.4" r="2.5"/>
<circle cx="219.6" cy="896.9" r="2.5"/>
<circle cx="233.1" cy="884.5" r="2.5"/>
<circle cx="245.6" cy="882.5" r="2.5"/>
<circle cx="252.3" cy="886.5" r="2.5"/>
<circle cx="232.8" cy="883.9" r="2.5"/>
<circle cx="246.5" cy="883.6" r="2.5"/>
<circle cx="255.3" cy="896.3" r="2.5"/>
<circle cx="240.5" cy="877.4" r="2.5"/>
<circle cx="254.9" cy="890.4" r="2.5"/>
<circle cx="251.9" cy="882.8" r="2.5"/>
<circle cx="257.3" cy="891.0" r="2.5"/>
<circle cx="245.9" cy="880.0" r="2.5"/>
<circle cx="259.6" cy="896.8" r="2.5"/>
<circle cx="234.4" cy="893.0" r="2.5"/>
<circle cx="246.7" cy="893.0" r="2.5"/>
<circle cx="253.7" cy="891.2" r="2.5"/>
<circle cx="226.1" cy="885.2" r="2.5"/>
<circle cx="239.0" cy="880.7" r="2.5"/>
<circle cx="232.6" cy="890.7" r="2.5"/>
<circle cx="233.5" cy="881.4" r="2.5"/>
<circle cx="226.1" cy="885.6" r="2.5"/>
<circle cx="255.1" cy="882.7" r="2.5"/>
<circle cx="229.2" cy="885.3" r="2.5"/>
<circle cx="256.0" cy="885.6" r="2.5"/>
<circle cx="227.3" cy="887.5" r="2.5"/>
<circle cx="258.2" cy="889.8" r="2.5"/>
<circle cx="224.3" cy="893.6" r="2.5"/>
<circle cx="244.5" cy="894.2" r="2.5"/>
<circle cx="218.1" cy="898.0" r="2.5"/>
<circle cx="228.9" cy="888.0" r="2.5"/>
<circle cx="221.1" cy="893.0" r="2.5"/>
<circle cx="246.4" cy="885.8" r="2.5"/>
<circle cx="242.4" cy="881.8" r="2.5"/>
<circle cx="251.1" cy="881.8" r="2.5"/>
<circle cx="244.8" cy="881.2" r="2.5"/>
<circle cx="252.6" cy="892.5" r="2.5"/>
<circle cx="222.8" cy="889.3" r="2.5"/>
<circle cx="253.0" cy="897.5" r="2.5"/>
<circle cx="255.5" cy="884.5" r="2.5"/>
<circle cx="253.9" cy="881.4" r="2.5"/>
<circle cx="233.8" cy="893.3" r="2.5"/>
<circle cx="250.1" cy="879.3" r="2.5"/>
<circle cx="237.8" cy="889.1" r="2.5"/>
<circle cx="233.3" cy="881.9" r="2.5"/>
<circle cx="237.5" cy="890.5" r="2.5"/>
<circle cx="259.4" cy="893.8" r="2.5"/>
<circle cx="225.5" cy="893.2" r="2.5"/>
<circle cx="248.6" cy="884.4" r="2.5"/>
<circle cx="237.9" cy="882.8" r="2.5"/>
<circle cx="229.5" cy="886.5" r="2.5"/>
<circle cx="226.6" cy="892.5" r="2.5"/>
<circle cx="240.9" cy="883.6" r="2.5"/>
<circle cx="255.6" cy="892.2" r="2.5"/>
<circle cx="256.5" cy="890.9" r="2.5"/>
<circle cx="232.4" cy="893.7" r="2.5"/>
<circle cx="231.3" cy="882.1" r="2.5"/>
<circle cx="233.2" cy="882.9" r="2.5"/>
<circle cx="259.0" cy="892.7" r="2.5"/>
<circle cx="225.8" cy="890.0" r="2.5"/>
<circle cx="225.1" cy="892.5" r="2.5"/>
<circle cx="232.1" cy="892.2" r="2.5"/>
<circle cx="246.6" cy="881.9" r="2.5"/>
<circle cx="230.3" cy="890.8" r="2.5"/>
<circle cx="224.0" cy="895.2" r="2.5"/>
<circle cx="236.5" cy="894.3" r="2.5"/>
<circle cx="240.0" cy="887.8" r="2.5"/>
<circle cx="250.4" cy="887.2" r="2.5"/>
<circle cx="253.9" cy="878.5" r="2.5"/>
<circle cx="257.0" cy="892.1" r="2.5"/>
<circle cx="257.0" cy="888.8" r="2.5"/>
<circle cx="255.1" cy="885.7" r="2.5"/>
<circle cx="240.7" cy="887.2" r="2.5"/>
<circle cx="249.8" cy="884.8" r="2.5"/>
<circle cx="255.1" cy="882.4" r="2.5"/>
<circle cx="236.0" cy="896.2" r="2.5"/>
<circle cx="229.3" cy="888.7" r="2.5"/>
<circle cx="233.6" cy="885.6" r="2.5"/>
<circle cx="218.3" cy="898.0" r="2.5"/>
<circle cx="255.5" cy="880.6" r="2.5"/>
<circle cx="246.9" cy="879.3" r="2.5"/>
<circle cx="243.3" cy="875.2" r="2.5"/>
<circle cx="251.2" cy="883.7" r="2.5"/>
<circle cx="238.8" cy="878.7" r="2.5"/>
<circle cx="241.2" cy="880.7" r="2.5"/>
<circle cx="231.0" cy="885.2" r="2.5"/>
<circle cx="238.5" cy="879.1" r="2.5"/>
<circle cx="260.0" cy="897.2" r="2.5"/>
<circle cx="257.9" cy="896.7" r="2.5"/>
<circle cx="221.1" cy="894.5" r="2.5"/>
<circle cx="252.7" cy="882.8" r="2.5"/>
<circle cx="228.8" cy="894.3" r="2.5"/>
<circle cx="228.5" cy="893.7" r="2.5"/>
<circle cx="224.1" cy="888.6" r="2.5"/>
<circle cx="226.2" cy="893.5" r="2.5"/>
<circle cx="244.0" cy="890.7" r="2.5"/>
<circle cx="253.0" cy="881.6" r="2.5"/>
<circle cx="254.9" cy="881.6" r="2.5"/>
<circle cx="248.7" cy="886.9" r="2.5"/>
<circle cx="235.8" cy="887.9" r="2.5"/>
<circle cx="234.5" cy="881.8" r="2.5"/>
<circle cx="236.3" cy="882.5" r="2.5"/>
<circle cx="244.5" cy="892.5" r="2.5"/>
<circle cx="226.9" cy="888.0" r="2.5"/>
<circle cx="251.1" cy="888.2" r="2.5"/>
<circle cx="228.5" cy="889.6" r="2.5"/>
<circle cx="237.3" cy="887.0" r="2.5"/>
<circle cx="256.8" cy="887.1" r="2.5"/>
<circle cx="229.7" cy="889.6" r="2.5"/>
<circle cx="239.3" cy="890.6" r="2.5"/>
<circle cx="234.5" cy="894.8" r="2.5"/>
<circle cx="245.6" cy="876.9" r="2.5"/>
<circle cx="255.7" cy="885.0" r="2.5"/>
<circle cx="234.2" cy="885.7" r="2.5"/>
<circle cx="241.3" cy="889.3" r="2.5"/>
<circle cx="240.7" cy="882.5" r="2.5"/>
<circle cx="226.3" cy="889.6" r="2.5"/>
<circle cx="253.1" cy="881.8" r="2.5"/>
<circle cx="231.9" cy="890.8" r="2.5"/>
<circle cx="244.5" cy="881.4" r="2.5"/>
<circle cx="230.6" cy="887.6" r="2.5"/>
<circle cx="235.1" cy="884.7" r="2.5"/>
<circle cx="254.9" cy="886.7" r="2.5"/>
<circle cx="240.6" cy="881.5" r="2.5"/>
<circle cx="246.0" cy="887.5" r="2.5"/>
<circle cx="228.4" cy="884.0" r="2.5"/>
<circle cx="224.2" cy="888.9" r="2.5"/>
<circle cx="229.0" cy="888.0" r="2.5"/>
<circle cx="237.0" cy="890.1" r="2.5"/>
<circle cx="225.5" cy="885.6" r="2.5"/>
<circle cx="219.7" cy="897.1" r="2.5"/>
<circle cx="249.0" cy="884.7" r="2.5"/>
<circle cx="226.2" cy="886.5" r="2.5"/>
<circle cx="259.2" cy="896.3" r="2.5"/>
<circle cx="247.7" cy="884.2" r="2.5"/>
<circle cx="259.9" cy="897.3" r="2.5"/>
<circle cx="255.6" cy="883.9" r="2.5"/>
<circle cx="223.6" cy="891.5" r="2.5"/>
<circle cx="247.6" cy="890.0" r="2.5"/>
<circle cx="221.8" cy="890.1" r="2.5"/>
<circle cx="256.8" cy="886.5" r="2.5"/>
<circle cx="220.7" cy="892.7" r="2.5"/>
<circle cx="259.5" cy="895.0" r="2.5"/>
<circle cx="248.0" cy="883.4" r="2.5"/>
<circle cx="244.6" cy="876.1" r="2.5"/>
<circle cx="239.0" cy="893.6" r="2.5"/>
<circle cx="224.2" cy="887.0" r="2.5"/>
<circle cx="247.8" cy="876.0" r="2.5"/>
<circle cx="224.3" cy="895.3" r="2.5"/>
<circle cx="246.7" cy="883.6" r="2.5"/>
<circle cx="237.5" cy="890.1" r="2.5"/>
<circle cx="250.1" cy="878.3" r="2.5"/>
<circle cx="248.5" cy="883.6" r="2.5"/>
<circle cx="238.6" cy="886.2" r="2.5"/>
<circle cx="237.6" cy="888.3" r="2.5"/>
<circle cx="237.7" cy="880.0" r="2.5"/>
<circle cx="251.7" cy="891.0" r="2.5"/>
<circle cx="246.2" cy="877.5" r="2.5"/>
<circle cx="232.5" cy="882.6" r="2.5"/>
<circle cx="257.5" cy="895.7" r="2.5"/>
<circle cx="244.3" cy="884.5" r="2.5"/>
<circle cx="237.6" cy="884.9" r="2.5"/>
<circle cx="254.1" cy="882.4" r="2.5"/>
<circle cx="255.3" cy="889.6" r="2.5"/>
<circle cx="251.5" cy="885.0" r="2.5"/>
<circle cx="225.7" cy="886.6" r="2.5"/>
<circle cx="242.3" cy="888.0" r="2.5"/>
<circle cx="255.5" cy="886.0" r="2.5"/>
<circle cx="246.3" cy="875.4" r="2.5"/>
<circle cx="231.8" cy="886.4" r="2.5"/>
<circle cx="241.0" cy="886.5" r="2.5"/>
<circle cx="240.4" cy="876.2" r="2.5"/>
<circle cx="247.3" cy="887.0" r="2.5"/>
<circle cx="246.7" cy="880.4" r="2.5"/>
<circle cx="233.5" cy="884.6" r="2.5"/>
<circle cx="233.8" cy="883.3" r="2.5"/>
<circle cx="234.3" cy="882.7" r="2.5"/>
<circle cx="230.5" cy="892.3" r="2.5"/>
<circle cx="231.9" cy="893.2" r="2.5"/>
<circle cx="254.7" cy="878.4" r="2.5"/>
<circle cx="235.5" cy="890.3" r="2.5"/>
<circle cx="255.0" cy="880.6" r="2.5"/>
<circle cx="228.3" cy="890.6" r="2.5"/>
<circle cx="238.9" cy="891.7" r="2.5"/>
<circle cx="226.9" cy="889.9" r="2.5"/>
<circle cx="223.1" cy="895.2" r="2.5"/>
<circle cx="243.4" cy="886.2" r="2.5"/>
<circle cx="256.4" cy="882.9" r="2.5"/>
<circle cx="246.1" cy="886.7" r="2.5"/>
<circle cx="249.9" cy="885.5" r="2.5"/>
<circle cx="254.5" cy="885.6" r="2.5"/>
<circle cx="247.1" cy="878.4" r="2.5"/>
<circle cx="247.5" cy="878.4" r="2.5"/>
<circle cx="232.4" cy="892.5" r="2.5"/>
<circle cx="233.5" cy="881.7" r="2.5"/>
<circle cx="219.6" cy="896.2" r="2.5"/>
<circle cx="231.0" cy="887.9" r="2.5"/>
<circle cx="254.6" cy="890.7" r="2.5"/>
<circle cx="222.4" cy="898.0" r="2.5"/>
<circle cx="232.3" cy="884.3" r="2.5"/>
<circle cx="237.0" cy="884.0" r="2.5"/>
<circle cx="239.6" cy="886.0" r="2.5"/>
<circle cx="235.1" cy="895.7" r="2.5"/>
<circle cx="258.0" cy="888.3" r="2.5"/>
<circle cx="222.2" cy="895.0" r="2.5"/>
<circle cx="250.9" cy="882.7" r="2.5"/>
<circle cx="249.4" cy="878.4" r="2.5"/>
<circle cx="224.2" cy="887.9" r="2.5"/>
<circle cx="226.5" cy="894.0" r="2.5"/>
<circle cx="249.4" cy="877.5" r="2.5"/>
<circle cx="230.8" cy="888.7" r="2.5"/>
<circle cx="248.8" cy="886.3" r="2.5"/>
<circle cx="236.7" cy="880.4" r="2.5"/>
<circle cx="223.5" cy="888.0" r="2.5"/>
<circle cx="255.2" cy="879.6" r="2.5"/>
<circle cx="228.3" cy="892.3" r="2.5"/>
<circle cx="236.4" cy="891.6" r="2.5"/>
<circle cx="256.8" cy="887.4" r="2.5"/>
<circle cx="253.3" cy="884.1" r="2.5"/>
<circle cx="239.0" cy="878.3" r="2.5"/>
<circle cx="223.3" cy="894.0" r="2.5"/>
<circle cx="254.0" cy="882.9" r="2.5"/>
<circle cx="250.8" cy="876.0" r="2.5"/>
<circle cx="250.4" cy="880.9" r="2.5"/>
<circle cx="249.6" cy="881.8" r="2.5"/>
<circle cx="227.2" cy="890.7" r="2.5"/>
<circle cx="256.8" cy="887.9" r="2.5"/>
<circle cx="219.4" cy="895.0" r="2.5"/>
<circle cx="259.7" cy="896.4" r="2.5"/>
<circle cx="238.7" cy="885.1" r="2.5"/>
<circle cx="244.5" cy="880.4" r="2.5"/>
<circle cx="238.5" cy="879.5" r="2.5"/>
<circle cx="255.2" cy="881.8" r="2.5"/>
<circle cx="248.5" cy="878.9" r="2.5"/>
<circle cx="226.3" cy="889.1" r="2.5"/>
<circle cx="229.2" cy="892.0" r="2.5"/>
<circle cx="257.9" cy="893.1" r="2.5"/>
<circle cx="252.2" cy="878.8" r="2.5"/>
<circle cx="235.0" cy="896.6" r="2.5"/>
<circle cx="225.5" cy="888.0" r="2.5"/>
<circle cx="247.8" cy="885.0" r="2.5"/>
<circle cx="243.2" cy="889.7" r="2.5"/>
<circle cx="245.6" cy="878.0" r="2.5"/>
<circle cx="250.9" cy="881.8" r="2.5"/>
<circle cx="242.1" cy="898.0" r="2.5"/>
<circle cx="229.2" cy="888.9" r="2.5"/>
<circle cx="221.1" cy="897.2" r="2.5"/>
<circle cx="258.2" cy="889.2" r="2.5"/>
<circle cx="241.6" cy="879.3" r="2.5"/>
<circle cx="254.5" cy="882.5" r="2.5"/>
<circle cx="236.0" cy="887.6" r="2.5"/>
<circle cx="258.7" cy="890.0" r="2.5"/>
<circle cx="224.4" cy="887.6" r="2.5"/>
<circle cx="245.0" cy="885.2" r="2.5"/>
<circle cx="247.2" cy="886.8" r="2.5"/>
<circle cx="249.3" cy="881.3" r="2.5"/>
<circle cx="242.6" cy="893.7" r="2.5"/>
<circle cx="255.9" cy="881.7" r="2.5"/>
<circle cx="250.0" cy="886.5" r="2.5"/>
<circle cx="248.3" cy="891.2" r="2.5"/>
<circle cx="241.0" cy="885.2" r="2.5"/>
<circle cx="237.8" cy="888.7" r="2.5"/>
<circle cx="221.0" cy="893.9" r="2.5"/>
<circle cx="228.0" cy="892.9" r="2.5"/>
<circle cx="232.0" cy="893.2" r="2.5"/>
<circle cx="219.0" cy="895.3" r="2.5"/>
<circle cx="220.4" cy="892.3" r="2.5"/>
<circle cx="235.7" cy="893.0" r="2.5"/>
<circle cx="236.0" cy="886.0" r="2.5"/>
<circle cx="220.4" cy="893.9" r="2.5"/>
<circle cx="218.4" cy="898.0" r="2.5"/>
<circle cx="247.9" cy="877.2" r="2.5"/>
<circle cx="225.5" cy="890.4" r="2.5"/>
<circle cx="257.8" cy="891.9" r="2.5"/>
<circle cx="223.0" cy="893.9" r="2.5"/>
<circle cx="254.3" cy="886.9" r="2.5"/>
<circle cx="246.0" cy="875.9" r="2.5"/>
<circle cx="244.1" cy="888.7" r="2.5"/>
<circle cx="238.2" cy="887.8" r="2.5"/>
<circle cx="238.2" cy="883.4" r="2.5"/>
<circle cx="259.0" cy="892.6" r="2.5"/>
<circle cx="239.4" cy="879.5" r="2.5"/>
<circle cx="239.3" cy="889.8" r="2.5"/>
<circle cx="246.2" cy="886.9" r="2.5"/>
<circle cx="227.0" cy="890.0" r="2.5"/>
<circle cx="238.4" cy="895.8" r="2.5"/>
<circle cx="233.2" cy="881.7" r="2.5"/>
<circle cx="239.4" cy="886.0" r="2.5"/>
<circle cx="237.2" cy="883.4" r="2.5"/>
<circle cx="239.1" cy="885.6" r="2.5"/>
<circle cx="242.4" cy="886.7" r="2.5"/>
<circle cx="246.7" cy="883.7" r="2.5"/>
<circle cx="247.6" cy="885.2" r="2.5"/>
<circle cx="244.8" cy="888.7" r="2.5"/>
<circle cx="238.4" cy="884.9" r="2.5"/>
<circle cx="218.7" cy="898.0" r="2.5"/>
<circle cx="237.4" cy="882.6" r="2.5"/>
<circle cx="252.1" cy="878.6" r="2.5"/>
<circle cx="251.8" cy="877.0" r="2.5"/>
<circle cx="226.3" cy="893.8" r="2.5"/>
<circle cx="223.9" cy="888.5" r="2.5"/>
<circle cx="226.0" cy="891.3" r="2.5"/>
<circle cx="223.9" cy="887.7" r="2.5"/>
<circle cx="226.8" cy="892.2" r="2.5"/>
<circle cx="243.0" cy="879.1" r="2.5"/>
<circle cx="219.7" cy="894.7" r="2.5"/>
<circle cx="240.3" cy="882.0" r="2.5"/>
<circle cx="239.7" cy="879.3" r="2.5"/>
<circle cx="252.5" cy="878.6" r="2.5"/>
<circle cx="231.9" cy="895.9" r="2.5"/>
<circle cx="237.8" cy="896.2" r="2.5"/>
<circle cx="244.7" cy="882.7" r="2.5"/>
<circle cx="249.4" cy="877.3" r="2.5"/>
<circle cx="248.8" cy="879.2" r="2.5"/>
<circle cx="232.0" cy="884.3" r="2.5"/>
<circle cx="244.9" cy="888.1" r="2.5"/>
<circle cx="254.5" cy="884.8" r="2.5"/>
<circle cx="240.3" cy="889.0" r="2.5"/>
<circle cx="252.9" cy="884.2" r="2.5"/>
<circle cx="249.2" cy="877.2" r="2.5"/>
<circle cx="239.8" cy="882.0" r="2.5"/>
<circle cx="237.5" cy="890.0" r="2.5"/>
<circle cx="251.6" cy="877.3" r="2.5"/>
<circle cx="219.5" cy="898.0" r="2.5"/>
<circle cx="237.8" cy="893.9" r="2.5"/>
<circle cx="236.4" cy="888.4" r="2.5"/>
<circle cx="228.2" cy="885.5" r="2.5"/>
<circle cx="242.4" cy="876.2" r="2.5"/>
<circle cx="226.2" cy="890.4" r="2.5"/>
<circle cx="243.9" cy="878.1" r="2.5"/>
<circle cx="236.0" cy="891.3" r="2.5"/>
<circle cx="234.2" cy="885.6" r="2.5"/>
<circle cx="258.6" cy="891.0" r="2.5"/>
<circle cx="253.5" cy="879.5" r="2.5"/>
<circle cx="236.0" cy="886.0" r="2.5"/>
<circle cx="253.0" cy="880.6" r="2.5"/>
<circle cx="234.8" cy="891.4" r="2.5"/>
<circle cx="248.7" cy="886.3" r="2.5"/>
<circle cx="229.2" cy="891.2" r="2.5"/>
<circle cx="246.8" cy="879.9" r="2.5"/>
<circle cx="257.3" cy="888.2" r="2.5"/>
<circle cx="238.3" cy="880.0" r="2.5"/>
<circle cx="223.9" cy="890.0" r="2.5"/>
<circle cx="259.4" cy="896.3" r="2.5"/>
<circle cx="224.4" cy="895.1" r="2.5"/>
<circle cx="219.2" cy="895.3" r="2.5"/>
<circle cx="235.4" cy="882.5" r="2.5"/>
<circle cx="253.1" cy="895.9" r="2.5"/>
<circle cx="230.9" cy="890.5" r="2.5"/>
<circle cx="229.1" cy="896.7" r="2.5"/>
<circle cx="228.8" cy="890.0" r="2.5"/>
<circle cx="237.0" cy="885.5" r="2.5"/>
<circle cx="259.3" cy="897.5" r="2.5"/>
<circle cx="223.7" cy="888.0" r="2.5"/>
<circle cx="230.1" cy="886.9" r="2.5"/>
<circle cx="230.9" cy="883.0" r="2.5"/>
<circle cx="257.2" cy="888.2" r="2.5"/>
<circle cx="222.0" cy="893.5" r="2.5"/>
<circle cx="247.6" cy="881.2" r="2.5"/>
<circle cx="229.8" cy="888.8" r="2.5"/>
<circle cx="220.6" cy="894.4" r="2.5"/>
<circle cx="252.6" cy="885.5" r="2.5"/>
<circle cx="237.6" cy="891.4" r="2.5"/>
<circle cx="247.9" cy="883.8" r="2.5"/>
<circle cx="234.2" cy="883.3" r="2.5"/>
<circle cx="230.5" cy="894.7" r="2.5"/>
<circle cx="245.0" cy="878.6" r="2.5"/>
<circle cx="220.3" cy="895.1" r="2.5"/>
<circle cx="255.2" cy="885.2" r="2.5"/>
<circle cx="235.1" cy="892.8" r="2.5"/>
<circle cx="230.1" cy="886.3" r="2.5"/>
<circle cx="256.4" cy="885.7" r="2.5"/>
<circle cx="258.7" cy="893.0" r="2.5"/>
<circle cx="221.0" cy="894.6" r="2.5"/>
<circle cx="233.4" cy="895.2" r="2.5"/>
<circle cx="221.5" cy="890.8" r="2.5"/>
<circle cx="255.6" cy="892.5" r="2.5"/>
<circle cx="221.5" cy="890.5" r="2.5"/>
<circle cx="225.1" cy="891.8" r="2.5"/>
<circle cx="227.5" cy="892.4" r="2.5"/>
<circle cx="219.4" cy="895.8" r="2.5"/>
<circle cx="250.6" cy="893.2" r="2.5"/>
<circle cx="238.7" cy="891.8" r="2.5"/>
<circle cx="251.1" cy="877.2" r="2.5"/>
<circle cx="254.7" cy="884.0" r="2.5"/>
<circle cx="224.0" cy="888.9" r="2.5"/>
<circle cx="221.0" cy="892.1" r="2.5"/>
<circle cx="230.6" cy="883.1" r="2.5"/>
<circle cx="230.0" cy="884.8" r="2.5"/>
<circle cx="238.8" cy="889.0" r="2.5"/>
<circle cx="238.7" cy="885.6" r="2.5"/>
<circle cx="224.6" cy="889.6" r="2.5"/>
<circle cx="240.4" cy="879.7" r="2.5"/>
<circle cx="232.3" cy="885.5" r="2.5"/>
<circle cx="226.4" cy="888.8" r="2.5"/>
<circle cx="228.1" cy="885.4" r="2.5"/>
<circle cx="226.1" cy="891.6" r="2.5"/>
<circle cx="221.0" cy="894.9" r="2.5"/>
<circle cx="240.7" cy="888.0" r="2.5"/>
<circle cx="223.1" cy="888.8" r="2.5"/>
<circle cx="231.1" cy="891.4" r="2.5"/>
<circle cx="234.8" cy="882.5" r="2.5"/>
<circle cx="249.4" cy="876.4" r="2.5"/>
<circle cx="240.9" cy="885.4" r="2.5"/>
<circle cx="239.1" cy="894.2" r="2.5"/>
<circle cx="246.7" cy="877.2" r="2.5"/>
<circle cx="256.4" cy="884.1" r="2.5"/>
<circle cx="245.2" cy="877.7" r="2.5"/>
<circle cx="230.3" cy="886.5" r="2.5"/>
<circle cx="224.9" cy="886.1" r="2.5"/>
<circle cx="239.5" cy="890.1" r="2.5"/>
<circle cx="259.3" cy="894.6" r="2.5"/>
<circle cx="227.0" cy="885.5" r="2.5"/>
<circle cx="244.3" cy="880.3" r="2.5"/>
<circle cx="254.9" cy="887.7" r="2.5"/>
<circle cx="229.7" cy="886.7" r="2.5"/>
<circle cx="226.6" cy="887.0" r="2.5"/>
<circle cx="238.1" cy="890.4" r="2.5"/>
<circle cx="223.3" cy="894.8" r="2.5"/>
<circle cx="242.2" cy="876.2" r="2.5"/>
<circle cx="251.5" cy="878.2" r="2.5"/>
<circle cx="241.8" cy="877.7" r="2.5"/>
<circle cx="231.9" cy="888.7" r="2.5"/>
<circle cx="255.9" cy="890.2" r="2.5"/>
<circle cx="244.2" cy="881.2" r="2.5"/>
<circle cx="220.3" cy="893.9" r="2.5"/>
<circle cx="251.5" cy="877.7" r="2.5"/>
<circle cx="235.6" cy="881.7" r="2.5"/>
<circle cx="219.7" cy="893.5" r="2.5"/>
<circle cx="246.6" cy="877.6" r="2.5"/>
<circle cx="236.8" cy="884.8" r="2.5"/>
<circle cx="252.7" cy="888.9" r="2.5"/>
<circle cx="225.8" cy="887.0" r="2.5"/>
<circle cx="254.8" cy="889.4" r="2.5"/>
<circle cx="241.0" cy="882.2" r="2.5"/>
<circle cx="231.1" cy="883.4" r="2.5"/>
<circle cx="229.9" cy="884.4" r="2.5"/>
<circle cx="235.3" cy="892.3" r="2.5"/>
<circle cx="258.4" cy="895.0" r="2.5"/>
<circle cx="222.3" cy="897.7" r="2.5"/>
<circle cx="232.8" cy="896.6" r="2.5"/>
<circle cx="224.6" cy="886.6" r="2.5"/>
<circle cx="228.7" cy="885.7" r="2.5"/>
<circle cx="227.0" cy="897.7" r="2.5"/>
<circle cx="218.4" cy="898.0" r="2.5"/>
<circle cx="258.0" cy="890.8" r="2.5"/>
<circle cx="228.5" cy="896.0" r="2.5"/>
<circle cx="245.0" cy="885.8" r="2.5"/>
<circle cx="225.6" cy="890.0" r="2.5"/>
<circle cx="247.9" cy="885.3" r="2.5"/>
<circle cx="241.6" cy="888.9" r="2.5"/>
<circle cx="241.5" cy="894.5" r="2.5"/>
<circle cx="256.7" cy="883.9" r="2.5"/>
<circle cx="242.2" cy="882.8" r="2.5"/>
<circle cx="234.7" cy="883.4" r="2.5"/>
<circle cx="242.3" cy="879.0" r="2.5"/>
<circle cx="236.6" cy="887.4" r="2.5"/>
<circle cx="248.4" cy="889.2" r="2.5"/>
<circle cx="232.4" cy="890.7" r="2.5"/>
<circle cx="226.7" cy="885.5" r="2.5"/>
<circle cx="231.1" cy="884.4" r="2.5"/>
<circle cx="220.1" cy="892.6" r="2.5"/>
<circle cx="237.7" cy="882.4" r="2.5"/>
<circle cx="222.5" cy="891.3" r="2.5"/>
<circle cx="252.1" cy="887.2" r="2.5"/>
<circle cx="222.0" cy="893.5" r="2.5"/>
<circle cx="250.3" cy="878.7" r="2.5"/>
<circle cx="220.8" cy="894.9" r="2.5"/>
<circle cx="256.4" cy="890.4" r="2.5"/>
<circle cx="221.7" cy="890.8" r="2.5"/>
<circle cx="252.4" cy="884.4" r="2.5"/>
<circle cx="247.3" cy="878.4" r="2.5"/>
<circle cx="253.1" cy="889.9" r="2.5"/>
<circle cx="248.7" cy="876.1" r="2.5"/>
<circle cx="251.1" cy="882.6" r="2.5"/>
<circle cx="234.6" cy="881.2" r="2.5"/>
<circle cx="259.7" cy="895.9" r="2.5"/>
<circle cx="239.3" cy="878.6" r="2.5"/>
<circle cx="254.7" cy="884.5" r="2.5"/>
<circle cx="223.6" cy="890.1" r="2.5"/>
<circle cx="223.7" cy="892.5" r="2.5"/>
<circle cx="241.9" cy="882.3" r="2.5"/>
<circle cx="245.1" cy="877.5" r="2.5"/>
<circle cx="257.8" cy="892.0" r="2.5"/>
<circle cx="258.1" cy="892.2" r="2.5"/>
<circle cx="232.7" cy="883.9" r="2.5"/>
<circle cx="259.0" cy="893.5" r="2.5"/>
<circle cx="251.4" cy="878.4" r="2.5"/>
<circle cx="231.3" cy="885.7" r="2.5"/>
<circle cx="257.4" cy="897.4" r="2.5"/>
<circle cx="223.3" cy="888.7" r="2.5"/>
<circle cx="241.8" cy="883.7" r="2.5"/>
<circle cx="251.3" cy="884.0" r="2.5"/>
<circle cx="223.9" cy="892.2" r="2.5"/>
<circle cx="249.9" cy="880.2" r="2.5"/>
<circle cx="238.8" cy="897.2" r="2.5"/>
<circle cx="259.8" cy="898.0" r="2.5"/>
<circle cx="229.7" cy="884.4" r="2.5"/>
<circle cx="257.4" cy="887.4" r="2.5"/>
<circle cx="234.1" cy="883.6" r="2.5"/>
<circle cx="246.1" cy="881.0" r="2.5"/>
<circle cx="251.0" cy="882.1" r="2.5"/>
<circle cx="240.6" cy="887.3" r="2.5"/>
<circle cx="250.7" cy="891.8" r="2.5"/>
<circle cx="222.1" cy="891.7" r="2.5"/>
<circle cx="220.0" cy="892.9" r="2.5"/>
<circle cx="226.1" cy="889.5" r="2.5"/>
<circle cx="229.0" cy="888.1" r="2.5"/>
<circle cx="243.9" cy="888.7" r="2.5"/>
<circle cx="240.9" cy="875.5" r="2.5"/>
<circle cx="224.3" cy="893.4" r="2.5"/>
<circle cx="226.3" cy="894.7" r="2.5"/>
<circle cx="218.6" cy="896.5" r="2.5"/>
<circle cx="258.4" cy="897.2" r="2.5"/>
<circle cx="253.0" cy="882.6" r="2.5"/>
<circle cx="226.8" cy="885.3" r="2.5"/>
<circle cx="222.9" cy="890.6" r="2.5"/>
<circle cx="246.2" cy="879.2" r="2.5"/>
<circle cx="228.0" cy="893.4" r="2.5"/>
<circle cx="244.5" cy="886.3" r="2.5"/>
<circle cx="243.4" cy="878.6" r="2.5"/>
<circle cx="219.4" cy="894.7" r="2.5"/>
<circle cx="259.1" cy="894.7" r="2.5"/>
<circle cx="242.2" cy="885.5" r="2.5"/>
<circle cx="254.9" cy="889.7" r="2.5"/>
<circle cx="222.3" cy="892.3" r="2.5"/>
<circle cx="236.7" cy="885.1" r="2.5"/>
<circle cx="226.6" cy="885.1" r="2.5"/>
<circle cx="208.0" cy="885.5" r="2.5"/>
<circle cx="212.8" cy="894.0" r="2.5"/>
<circle cx="216.8" cy="874.6" r="2.5"/>
<circle cx="201.6" cy="883.9" r="2.5"/>
<circle cx="196.7" cy="875.7" r="2.5"/>
<circle cx="218.0" cy="880.4" r="2.5"/>
<circle cx="218.1" cy="883.5" r="2.5"/>
<circle cx="215.6" cy="874.4" r="2.5"/>
<circle cx="216.9" cy="883.8" r="2.5"/>
<circle cx="207.4" cy="894.1" r="2.5"/>
<circle cx="217.5" cy="892.8" r="2.5"/>
<circle cx="209.0" cy="880.3" r="2.5"/>
<circle cx="199.8" cy="886.4" r="2.5"/>
<circle cx="202.6" cy="894.7" r="2.5"/>
<circle cx="204.9" cy="885.7" r="2.5"/>
<circle cx="212.2" cy="877.9" r="2.5"/>
<circle cx="217.4" cy="873.8" r="2.5"/>
<circle cx="201.6" cy="880.1" r="2.5"/>
<circle cx="211.6" cy="875.8" r="2.5"/>
<circle cx="199.0" cy="886.9" r="2.5"/>
<circle cx="209.8" cy="887.3" r="2.5"/>
<circle cx="216.7" cy="884.9" r="2.5"/>
<circle cx="211.9" cy="893.3" r="2.5"/>
<circle cx="216.2" cy="871.3" r="2.5"/>
<circle cx="217.8" cy="886.6" r="2.5"/>
<circle cx="271.7" cy="880.0" r="2.5"/>
<circle cx="260.7" cy="895.2" r="2.5"/>
<circle cx="269.2" cy="879.9" r="2.5"/>
<circle cx="259.6" cy="882.5" r="2.5"/>
<circle cx="269.1" cy="888.5" r="2.5"/>
<circle cx="261.3" cy="888.0" r="2.5"/>
<circle cx="266.7" cy="893.1" r="2.5"/>
<circle cx="272.8" cy="884.1" r="2.5"/>
<circle cx="261.6" cy="886.1" r="2.5"/>
<circle cx="268.2" cy="880.8" r="2.5"/>
<circle cx="274.0" cy="881.6" r="2.5"/>
<circle cx="259.9" cy="889.4" r="2.5"/>
<circle cx="224.2" cy="872.5" r="2.5"/>
<circle cx="222.8" cy="871.9" r="2.5"/>
<circle cx="233.6" cy="873.3" r="2.5"/>
<circle cx="240.2" cy="871.6" r="2.5"/>
<circle cx="191.8" cy="883.0" r="2.5"/>
<circle cx="160.4" cy="883.8" r="2.5"/>
<circle cx="212.2" cy="879.1" r="2.5"/>
<circle cx="198.8" cy="886.6" r="2.5"/>
<circle cx="149.1" cy="887.4" r="2.5"/>
<circle cx="210.6" cy="878.1" r="2.5"/>
<circle cx="211.7" cy="891.6" r="2.5"/>
<circle cx="150.7" cy="881.4" r="2.5"/>
<circle cx="162.8" cy="895.6" r="2.5"/>
<circle cx="202.7" cy="892.8" r="2.5"/>
<circle cx="197.0" cy="876.6" r="2.5"/>
<circle cx="240.1" cy="887.5" r="2.5"/>
<circle cx="174.3" cy="883.3" r="2.5"/>
<circle cx="179.0" cy="890.7" r="2.5"/>
<circle cx="160.4" cy="873.8" r="2.5"/>
<circle cx="248.7" cy="894.7" r="2.5"/>
<circle cx="233.0" cy="885.8" r="2.5"/>
<circle cx="230.2" cy="880.5" r="2.5"/>
<circle cx="168.3" cy="873.2" r="2.5"/>
<circle cx="175.0" cy="893.8" r="2.5"/>
<circle cx="208.4" cy="895.9" r="2.5"/>
<circle cx="180.7" cy="889.9" r="2.5"/>
<circle cx="150.4" cy="882.1" r="2.5"/>
<circle cx="191.5" cy="871.4" r="2.5"/>
<circle cx="205.0" cy="882.3" r="2.5"/>
<circle cx="218.7" cy="881.8" r="2.5"/>
<circle cx="185.8" cy="895.2" r="2.5"/>
<circle cx="167.4" cy="876.6" r="2.5"/>
<circle cx="198.5" cy="875.7" r="2.5"/>
<circle cx="186.4" cy="897.8" r="2.5"/>
<circle cx="181.6" cy="889.8" r="2.5"/>
<circle cx="163.4" cy="895.5" r="2.5"/>
<circle cx="194.1" cy="883.4" r="2.5"/>
<circle cx="231.2" cy="875.7" r="2.5"/>
<circle cx="212.4" cy="889.7" r="2.5"/>
<circle cx="226.9" cy="896.8" r="2.5"/>
<circle cx="200.5" cy="893.6" r="2.5"/>
<circle cx="207.1" cy="896.9" r="2.5"/>
<circle cx="219.4" cy="877.3" r="2.5"/>
<circle cx="192.2" cy="886.4" r="2.5"/>
<circle cx="176.6" cy="872.1" r="2.5"/>
<circle cx="194.5" cy="892.2" r="2.5"/>
<circle cx="238.4" cy="874.3" r="2.5"/>
<circle cx="184.8" cy="895.3" r="2.5"/>
<circle cx="232.5" cy="882.1" r="2.5"/>
<circle cx="192.7" cy="882.5" r="2.5"/>
<circle cx="216.8" cy="871.1" r="2.5"/>
<circle cx="209.1" cy="883.5" r="2.5"/>
<circle cx="191.7" cy="878.8" r="2.5"/>
<circle cx="217.4" cy="877.4" r="2.5"/>
<circle cx="244.5" cy="894.7" r="2.5"/>
<circle cx="184.7" cy="873.9" r="2.5"/>
<circle cx="232.4" cy="870.7" r="2.5"/>
<circle cx="187.9" cy="881.9" r="2.5"/>
<circle cx="229.6" cy="889.9" r="2.5"/>
<circle cx="213.7" cy="895.5" r="2.5"/>
<circle cx="233.9" cy="893.2" r="2.5"/>
<circle cx="219.8" cy="887.7" r="2.5"/>
<circle cx="215.6" cy="890.9" r="2.5"/>
<circle cx="223.1" cy="869.8" r="2.5"/>
<circle cx="233.5" cy="879.6" r="2.5"/>
<circle cx="240.7" cy="870.2" r="2.5"/>
<circle cx="258.4" cy="871.1" r="2.5"/>
<circle cx="261.3" cy="876.3" r="2.5"/>
<circle cx="65.4" cy="884.3" r="2.5"/>
<circle cx="65.4" cy="882.8" r="2.5"/>
<circle cx="65.4" cy="872.1" r="2.5"/>
<circle cx="119.8" cy="869.1" r="2.5"/>
<circle cx="145.1" cy="875.2" r="2.5"/>
<circle cx="142.6" cy="884.3" r="2.5"/>
<circle cx="148.9" cy="885.8" r="2.5"/>
<circle cx="146.4" cy="887.3" r="2.5"/>
<circle cx="154.0" cy="869.1" r="2.5"/>
<circle cx="246.4" cy="856.9" r="2.5"/>
<circle cx="246.4" cy="852.4" r="2.5"/>
<circle cx="246.4" cy="861.5" r="2.5"/>
<circle cx="245.2" cy="864.5" r="2.5"/>
<circle cx="246.4" cy="867.6" r="2.5"/>
<circle cx="284.4" cy="882.8" r="2.5"/>
<circle cx="283.1" cy="876.7" r="2.5"/>
<circle cx="265.4" cy="876.7" r="2.5"/>
<circle cx="246.4" cy="842.8" r="2.5"/>
<circle cx="246.4" cy="846.8" r="2.5"/>
<circle cx="246.7" cy="850.9" r="2.5"/>
<circle cx="246.4" cy="853.3" r="2.5"/>
<circle cx="246.2" cy="858.5" r="2.5"/>
</g>
<g fill="#e64a25" fill-opacity="0.75">
<circle cx="247.1" cy="785.5" r="2.7"/>
<circle cx="247.3" cy="790.1" r="2.7"/>
<circle cx="247.7" cy="803.7" r="2.7"/>
<circle cx="247.4" cy="806.0" r="2.7"/>
<circle cx="247.9" cy="805.3" r="2.7"/>
<circle cx="248.1" cy="814.4" r="2.7"/>
<circle cx="248.3" cy="821.7" r="2.7"/>
<circle cx="248.6" cy="830.2" r="2.7"/>
<circle cx="283.6" cy="822.4" r="2.7"/>
<circle cx="283.6" cy="855.1" r="2.7"/>
<circle cx="299.6" cy="857.5" r="2.7"/>
<circle cx="270.7" cy="855.1" r="2.7"/>
<circle cx="260.1" cy="846.8" r="2.7"/>
<circle cx="259.5" cy="852.5" r="2.7"/>
<circle cx="65.4" cy="803.7" r="2.7"/>
<circle cx="65.4" cy="843.3" r="2.7"/>
<circle cx="65.4" cy="849.3" r="2.7"/>
<circle cx="65.4" cy="853.9" r="2.7"/>
<circle cx="65.4" cy="856.9" r="2.7"/>
<circle cx="65.4" cy="860.0" r="2.7"/>
<circle cx="65.4" cy="863.0" r="2.7"/>
<circle cx="65.4" cy="864.5" r="2.7"/>
<circle cx="65.4" cy="866.1" r="2.7"/>
<circle cx="65.4" cy="867.6" r="2.7"/>
<circle cx="147.0" cy="830.6" r="2.7"/>
<circle cx="147.0" cy="836.4" r="2.7"/>
<circle cx="144.8" cy="840.2" r="2.7"/>
<circle cx="144.8" cy="842.8" r="2.7"/>
<circle cx="147.0" cy="854.7" r="2.7"/>
<circle cx="146.4" cy="859.2" r="2.7"/>
<circle cx="147.0" cy="862.3" r="2.7"/>
<circle cx="153.8" cy="867.7" r="2.7"/>
<circle cx="171.5" cy="842.2" r="2.7"/>
<circle cx="175.5" cy="842.2" r="2.7"/>
<circle cx="171.5" cy="854.1" r="2.7"/>
<circle cx="175.0" cy="860.6" r="2.7"/>
<circle cx="178.6" cy="859.4" r="2.7"/>
<circle cx="172.0" cy="866.4" r="2.7"/>
<circle cx="187.6" cy="857.2" r="2.7"/>
<circle cx="188.2" cy="859.4" r="2.7"/>
<circle cx="186.9" cy="860.7" r="2.7"/>
<circle cx="196.8" cy="852.2" r="2.7"/>
<circle cx="199.5" cy="858.5" r="2.7"/>
<circle cx="206.2" cy="859.4" r="2.7"/>
<circle cx="218.3" cy="860.6" r="2.7"/>
<circle cx="190.0" cy="867.7" r="2.7"/>
<circle cx="222.2" cy="866.4" r="2.7"/>
<circle cx="212.2" cy="867.7" r="2.7"/>
<circle cx="203.4" cy="864.5" r="2.7"/>
<circle cx="195.8" cy="866.1" r="2.7"/>
<circle cx="252.8" cy="858.5" r="2.7"/>
<circle cx="255.9" cy="860.0" r="2.7"/>
<circle cx="260.4" cy="859.2" r="2.7"/>
<circle cx="255.3" cy="863.8" r="2.7"/>
<circle cx="269.2" cy="860.0" r="2.7"/>
<circle cx="273.0" cy="862.3" r="2.7"/>
<circle cx="275.5" cy="864.5" r="2.7"/>
<circle cx="278.1" cy="866.1" r="2.7"/>
<circle cx="254.0" cy="867.6" r="2.7"/>
<circle cx="250.2" cy="864.5" r="2.7"/>
<circle cx="251.5" cy="867.6" r="2.7"/>
<circle cx="248.3" cy="868.3" r="2.7"/>
<circle cx="261.6" cy="869.1" r="2.7"/>
<circle cx="259.1" cy="865.3" r="2.7"/>
<circle cx="249.0" cy="861.5" r="2.7"/>
<circle cx="249.6" cy="869.1" r="2.7"/>
<circle cx="247.7" cy="866.1" r="2.7"/>
<circle cx="250.9" cy="863.0" r="2.7"/>
</g>
<path d="M42.7,869.1 L301,869.1" stroke="#222" stroke-width="1.3" stroke-dasharray="6,3.5"/>
<text x="61.0" y="773.8" font-size="10.68" text-anchor="start" fill="#5f5f5f">Intermediate filament organization</text>
<text x="230.5" y="778.8" font-size="10.66" text-anchor="start" fill="#5f5f5f">Intermediate filament</text>
<text x="48.8" y="794.4" font-size="10.63" text-anchor="start" fill="#5f5f5f">Intermediate filament based processes</text>
<text x="69.8" y="805.3" font-size="10.65" text-anchor="start" fill="#5f5f5f">Intermediate filament cytoskeleton</text>
<path d="M245.5,784.8 L224.6,775.9" stroke="#222" stroke-width="0.95" fill="none"/>
<path d="M221.2,774.4 L225.8,774.3 L224.3,777.8 Z" fill="#222"/>
<path d="M245.5,790.4 L237.3,791.0" stroke="#222" stroke-width="0.95" fill="none"/>
<path d="M233.6,791.3 L237.6,789.1 L237.9,792.9 Z" fill="#222"/>
<path d="M245.5,804.0 L236.3,802.6" stroke="#222" stroke-width="0.95" fill="none"/>
<path d="M232.6,802.0 L237.0,800.8 L236.5,804.5 Z" fill="#222"/>
<path d="M249.3,802.4 L259.1,784.1" stroke="#222" stroke-width="0.95" fill="none"/>
<path d="M260.8,780.8 L260.5,785.4 L257.1,783.6 Z" fill="#222"/>
<g stroke="#e4e4e4" stroke-width="0.9">
<path d="M412.2,618 L412.2,915.5"/>
<path d="M574.2,618 L574.2,915.5"/>
<path d="M655.6,618 L655.6,915.5"/>
</g>
<rect x="493.3" y="620.30" width="192.2" height="10.0" fill="#2d5ea4" stroke="#23519a" stroke-width="0.6"/>
<text x="358.9" y="627.6" font-size="8.6" text-anchor="start" fill="#3a3a3a" textLength="132.3" lengthAdjust="spacingAndGlyphs">Intermediate filament organisation</text>
<rect x="493.3" y="631.25" width="185.3" height="10.0" fill="#2d5ea4" stroke="#23519a" stroke-width="0.6"/>
<text x="349.8" y="638.5" font-size="8.6" text-anchor="start" fill="#3a3a3a" textLength="141.4" lengthAdjust="spacingAndGlyphs">Intermediate filament based process</text>
<rect x="493.3" y="642.20" width="182.9" height="10.0" fill="#2d5ea4" stroke="#23519a" stroke-width="0.6"/>
<text x="409.3" y="649.5" font-size="8.6" text-anchor="start" fill="#3a3a3a" textLength="81.9" lengthAdjust="spacingAndGlyphs">Intermediate filament</text>
<rect x="493.3" y="653.15" width="177.7" height="10.0" fill="#2d5ea4" stroke="#23519a" stroke-width="0.6"/>
<text x="358.2" y="660.4" font-size="8.6" text-anchor="start" fill="#3a3a3a" textLength="133.0" lengthAdjust="spacingAndGlyphs">Intermediate filament cytoskeleton</text>
<rect x="493.3" y="664.10" width="175.9" height="10.0" fill="#2d5ea4" stroke="#23519a" stroke-width="0.6"/>
<text x="430.0" y="671.4" font-size="8.6" text-anchor="start" fill="#3a3a3a" textLength="61.2" lengthAdjust="spacingAndGlyphs">Keratin filament</text>
<rect x="493.3" y="675.05" width="128.1" height="10.0" fill="#2d5ea4" stroke="#23519a" stroke-width="0.6"/>
<text x="385.2" y="682.3" font-size="8.6" text-anchor="start" fill="#3a3a3a" textLength="106.0" lengthAdjust="spacingAndGlyphs">Microfilament motor activity</text>
<rect x="493.3" y="686.00" width="118.4" height="10.0" fill="#2d5ea4" stroke="#23519a" stroke-width="0.6"/>
<text x="376.5" y="693.3" font-size="8.6" text-anchor="start" fill="#3a3a3a" textLength="114.7" lengthAdjust="spacingAndGlyphs">Actin filament based movement</text>
<rect x="493.3" y="696.95" width="112.3" height="10.0" fill="#2d5ea4" stroke="#23519a" stroke-width="0.6"/>
<text x="324.2" y="704.2" font-size="8.6" text-anchor="start" fill="#3a3a3a" textLength="167.0" lengthAdjust="spacingAndGlyphs">Negative regulation of AF depolymerization</text>
<rect x="493.3" y="707.90" width="97.4" height="10.0" fill="#2d5ea4" stroke="#23519a" stroke-width="0.6"/>
<text x="373.4" y="715.2" font-size="8.6" text-anchor="start" fill="#3a3a3a" textLength="117.8" lengthAdjust="spacingAndGlyphs">Actin filament depolymerization</text>
<rect x="493.3" y="718.85" width="93.0" height="10.0" fill="#2d5ea4" stroke="#23519a" stroke-width="0.6"/>
<text x="411.5" y="726.1" font-size="8.6" text-anchor="start" fill="#3a3a3a" textLength="79.7" lengthAdjust="spacingAndGlyphs">Actin filament binding</text>
<rect x="493.3" y="729.80" width="89.5" height="10.0" fill="#2d5ea4" stroke="#23519a" stroke-width="0.6"/>
<text x="363.0" y="737.1" font-size="8.6" text-anchor="start" fill="#3a3a3a" textLength="128.2" lengthAdjust="spacingAndGlyphs">Barbed end actin filament capping</text>
<rect x="493.3" y="740.75" width="88.9" height="10.0" fill="#2d5ea4" stroke="#23519a" stroke-width="0.6"/>
<text x="382.8" y="748.0" font-size="8.6" text-anchor="start" fill="#3a3a3a" textLength="108.4" lengthAdjust="spacingAndGlyphs">Actin filament based process</text>
<rect x="493.3" y="751.70" width="79.6" height="10.0" fill="#2d5ea4" stroke="#23519a" stroke-width="0.6"/>
<text x="367.1" y="759.0" font-size="8.6" text-anchor="start" fill="#3a3a3a" textLength="124.1" lengthAdjust="spacingAndGlyphs">Regulation of AF based process</text>
<rect x="493.3" y="762.65" width="78.7" height="10.0" fill="#2d5ea4" stroke="#23519a" stroke-width="0.6"/>
<text x="338.2" y="769.9" font-size="8.6" text-anchor="start" fill="#3a3a3a" textLength="153.0" lengthAdjust="spacingAndGlyphs">Negative regulation of AF polymerization</text>
<rect x="493.3" y="773.60" width="76.4" height="10.0" fill="#2d5ea4" stroke="#23519a" stroke-width="0.6"/>
<text x="360.1" y="780.9" font-size="8.6" text-anchor="start" fill="#3a3a3a" textLength="131.1" lengthAdjust="spacingAndGlyphs">Regulation of AF based movement</text>
<rect x="493.3" y="784.55" width="74.3" height="10.0" fill="#2d5ea4" stroke="#23519a" stroke-width="0.6"/>
<text x="402.0" y="791.8" font-size="8.6" text-anchor="start" fill="#3a3a3a" textLength="89.2" lengthAdjust="spacingAndGlyphs">Regulation of AF length</text>
<rect x="493.3" y="795.50" width="71.4" height="10.0" fill="#2d5ea4" stroke="#23519a" stroke-width="0.6"/>
<text x="376.3" y="802.8" font-size="8.6" text-anchor="start" fill="#3a3a3a" textLength="114.9" lengthAdjust="spacingAndGlyphs">Regulation of AF organisation</text>
<rect x="493.3" y="806.45" width="68.5" height="10.0" fill="#2d5ea4" stroke="#23519a" stroke-width="0.6"/>
<text x="392.4" y="813.7" font-size="8.6" text-anchor="start" fill="#3a3a3a" textLength="98.8" lengthAdjust="spacingAndGlyphs">Actin filament organisation</text>
<rect x="493.3" y="817.40" width="67.9" height="10.0" fill="#2d5ea4" stroke="#23519a" stroke-width="0.6"/>
<text x="427.1" y="824.7" font-size="8.6" text-anchor="start" fill="#3a3a3a" textLength="64.1" lengthAdjust="spacingAndGlyphs">Filamentous actin</text>
<rect x="493.3" y="828.35" width="66.2" height="10.0" fill="#2d5ea4" stroke="#23519a" stroke-width="0.6"/>
<text x="443.7" y="835.6" font-size="8.6" text-anchor="start" fill="#3a3a3a" textLength="47.5" lengthAdjust="spacingAndGlyphs">Myofilament</text>
<rect x="430.4" y="839.30" width="62.9" height="10.0" fill="#2d5ea4" stroke="#23519a" stroke-width="0.6"/>
<text x="496.0" y="846.8" font-size="8.45" text-anchor="start" fill="#3a3a3a" textLength="157.1" lengthAdjust="spacingAndGlyphs">Positive regulation of AF bundle assembly</text>
<rect x="426.9" y="850.25" width="66.4" height="10.0" fill="#2d5ea4" stroke="#23519a" stroke-width="0.6"/>
<text x="496.0" y="857.8" font-size="8.45" text-anchor="start" fill="#3a3a3a" textLength="76.2" lengthAdjust="spacingAndGlyphs">Actin filament bundle</text>
<rect x="426.2" y="861.20" width="67.1" height="10.0" fill="#2d5ea4" stroke="#23519a" stroke-width="0.6"/>
<text x="496.0" y="868.7" font-size="8.45" text-anchor="start" fill="#3a3a3a" textLength="126.1" lengthAdjust="spacingAndGlyphs">Actin filament bundle organisation</text>
<rect x="415.2" y="872.15" width="78.1" height="10.0" fill="#2d5ea4" stroke="#23519a" stroke-width="0.6"/>
<text x="496.0" y="879.6" font-size="8.45" text-anchor="start" fill="#3a3a3a" textLength="48.9" lengthAdjust="spacingAndGlyphs">Actin filament</text>
<rect x="410.2" y="883.10" width="83.1" height="10.0" fill="#2d5ea4" stroke="#23519a" stroke-width="0.6"/>
<text x="496.0" y="890.6" font-size="8.45" text-anchor="start" fill="#3a3a3a" textLength="129.2" lengthAdjust="spacingAndGlyphs">Regulation of AF bundle assembly</text>
<rect x="407.0" y="894.05" width="86.3" height="10.0" fill="#2d5ea4" stroke="#23519a" stroke-width="0.6"/>
<text x="496.0" y="901.5" font-size="8.45" text-anchor="start" fill="#3a3a3a" textLength="162.5" lengthAdjust="spacingAndGlyphs">Negative regulation of AF bundle assembly</text>
<rect x="381.8" y="905.00" width="111.5" height="10.0" fill="#2d5ea4" stroke="#23519a" stroke-width="0.6"/>
<text x="496.0" y="912.5" font-size="8.45" text-anchor="start" fill="#3a3a3a" textLength="151.6" lengthAdjust="spacingAndGlyphs">Positive regulation of AF polymerization</text>
<path d="M493.3,618.3 L493.3,915.3" stroke="#222" stroke-width="1"/>
<text x="412.0" y="929.2" font-size="13" text-anchor="middle" fill="#1a1a1a">−1</text>
<text x="493.0" y="929.2" font-size="13" text-anchor="middle" fill="#1a1a1a">0</text>
<text x="574.0" y="929.2" font-size="13" text-anchor="middle" fill="#1a1a1a">1</text>
<text x="655.0" y="929.2" font-size="13" text-anchor="middle" fill="#1a1a1a">2</text>
<text x="532.4" y="945.9" font-size="13.55" text-anchor="middle" fill="#1a1a1a">Normalized Enrichment Score (NES)</text>
</svg></body></html>
